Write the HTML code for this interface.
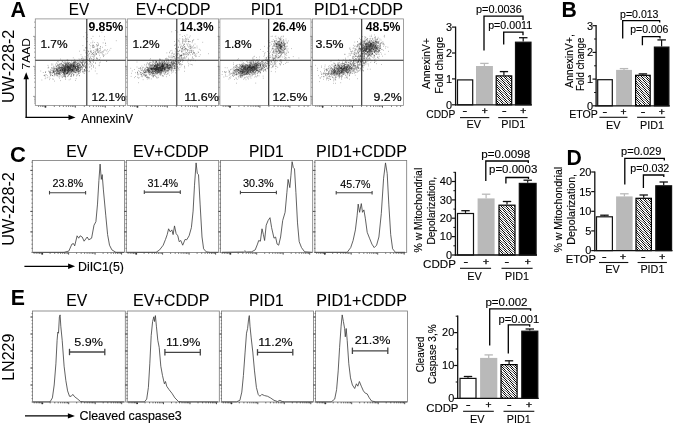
<!DOCTYPE html>
<html><head><meta charset="utf-8"><title>Figure</title>
<style>html,body{margin:0;padding:0;background:#fff}svg{display:block}text{font-family:'Liberation Sans', Arial, Helvetica, sans-serif;fill:#000}</style></head><body>
<svg width="675" height="425" viewBox="0 0 675 425">
<defs><filter id="ct" x="0" y="0" width="1" height="1" color-interpolation-filters="sRGB"><feComponentTransfer><feFuncR type="linear" slope="2.6" intercept="-0.8"/><feFuncG type="linear" slope="2.6" intercept="-0.8"/><feFuncB type="linear" slope="2.6" intercept="-0.8"/></feComponentTransfer></filter><pattern id="h" width="1.414" height="1.414" patternUnits="userSpaceOnUse" patternTransform="rotate(45)"><rect width="1.5" height="1.5" fill="#fff"/><rect width="1.5" height="0.72" fill="#000"/></pattern></defs>
<rect width="675" height="425" fill="#fff"/>
<text x="10.6" y="16.8" font-size="21.5" font-weight="bold" textLength="15.4" lengthAdjust="spacingAndGlyphs">A</text>
<text x="561.6" y="16.8" font-size="21.5" font-weight="bold" textLength="15.3" lengthAdjust="spacingAndGlyphs">B</text>
<text x="10.0" y="161.8" font-size="21.5" font-weight="bold" textLength="15.9" lengthAdjust="spacingAndGlyphs">C</text>
<text x="566.6" y="164.8" font-size="21.5" font-weight="bold" textLength="15.3" lengthAdjust="spacingAndGlyphs">D</text>
<text x="10.8" y="304.8" font-size="21.5" font-weight="bold" textLength="14.2" lengthAdjust="spacingAndGlyphs">E</text>
<path d="M83.9 71.2h.6M64.6 67.5h.6M68.7 66.5h.6M72.7 70.8h.6M62.2 69.8h.6M68.6 67.0h.6M69.6 73.0h.6M54.4 72.8h.6M77.7 69.1h.6M73.5 65.8h.6M63.8 70.8h.6M67.6 69.8h.6M73.4 69.9h.6M67.2 72.2h.6M67.4 72.1h.6M56.7 71.0h.6M73.8 69.6h.6M69.2 64.8h.6M71.4 69.9h.6M56.4 72.7h.6M82.4 64.8h.6M69.7 65.9h.6M65.5 68.8h.6M85.2 61.8h.6M68.6 69.5h.6M56.8 71.4h.6M64.9 66.2h.6M49.7 71.9h.6M78.1 70.0h.6M65.9 72.2h.6M63.1 72.5h.6M77.7 66.4h.6M54.8 69.8h.6M73.1 66.5h.6M51.8 73.2h.6M64.5 76.3h.6M59.5 74.3h.6M81.9 70.9h.6M84.3 69.8h.6M65.2 64.1h.6M75.7 66.6h.6M67.1 67.4h.6M74.2 71.3h.6M63.4 74.5h.6M54.2 69.0h.6M53.7 71.2h.6M72.3 69.5h.6M87.4 63.6h.6M70.7 66.1h.6M64.1 67.2h.6M85.3 68.2h.6M70.3 65.4h.6M70.2 71.6h.6M71.0 68.3h.6M68.1 70.8h.6M67.0 73.4h.6M56.4 68.5h.6M72.6 65.2h.6M68.2 69.8h.6M78.2 63.6h.6M65.3 66.8h.6M52.8 70.9h.6M68.0 69.0h.6M82.4 62.2h.6M65.4 67.8h.6M61.7 71.4h.6M59.5 74.1h.6M59.0 64.2h.6M67.0 72.7h.6M59.4 72.7h.6M80.8 63.0h.6M65.7 64.5h.6M69.9 69.5h.6M80.6 65.0h.6M81.5 66.6h.6M67.5 71.2h.6M71.4 66.8h.6M75.0 67.8h.6M67.4 70.1h.6M54.4 73.6h.6M75.2 72.6h.6M77.2 72.1h.6M72.4 68.5h.6M60.9 69.1h.6M68.4 75.7h.6M64.2 71.2h.6M66.5 70.1h.6M79.1 63.2h.6M82.0 68.4h.6M74.0 65.1h.6M73.2 66.2h.6M73.8 63.5h.6M68.4 66.9h.6M68.2 68.7h.6M62.4 65.0h.6M67.9 65.9h.6M87.7 64.8h.6M75.4 63.4h.6M65.3 65.2h.6M64.4 66.7h.6M60.8 65.5h.6M72.3 69.7h.6M71.6 64.9h.6M57.1 72.8h.6M73.4 70.4h.6M63.4 65.7h.6M80.8 66.4h.6M69.9 66.8h.6M82.6 62.5h.6M64.8 68.1h.6M66.3 68.1h.6M71.7 70.0h.6M78.2 69.9h.6M73.0 64.3h.6M58.3 69.0h.6M70.6 69.7h.6M69.6 71.8h.6M63.9 61.8h.6M64.0 73.1h.6M83.3 65.3h.6M66.3 73.5h.6M61.5 68.4h.6M73.7 65.0h.6M69.9 68.3h.6M68.8 72.0h.6M75.4 67.3h.6M71.7 60.7h.6M72.2 69.9h.6M76.0 62.2h.6M70.7 65.1h.6M63.0 65.9h.6M64.8 63.5h.6M63.8 65.5h.6M70.0 65.2h.6M59.5 68.2h.6M53.4 70.9h.6M69.4 67.3h.6M56.8 66.0h.6M52.4 70.7h.6M72.4 70.7h.6M63.3 72.3h.6M73.0 68.1h.6M64.7 71.0h.6M59.9 72.7h.6M59.1 74.3h.6M65.4 74.2h.6M66.3 67.9h.6M61.8 68.8h.6M67.2 73.2h.6M56.8 75.3h.6M69.7 72.9h.6M52.6 64.1h.6M67.1 68.0h.6M72.9 57.8h.6M78.3 68.9h.6M83.2 66.0h.6M55.8 70.9h.6M75.1 66.9h.6M79.6 70.5h.6M76.9 66.1h.6M61.6 72.8h.6M72.5 69.4h.6M84.6 66.7h.6M56.5 72.0h.6M72.8 68.0h.6M77.5 63.5h.6M63.3 71.5h.6M74.1 69.6h.6M59.8 69.6h.6M62.4 71.8h.6M62.4 72.3h.6M69.7 64.3h.6M68.0 68.1h.6M76.6 65.7h.6M60.5 67.1h.6M67.9 69.5h.6M76.4 64.5h.6M73.3 66.3h.6M57.8 71.1h.6M74.6 68.5h.6M65.0 70.1h.6M73.2 74.4h.6M71.1 66.5h.6M79.1 67.3h.6M69.1 64.7h.6M53.5 72.6h.6M57.9 73.8h.6M75.6 70.9h.6M66.3 66.9h.6M78.2 65.9h.6M71.7 71.7h.6M62.5 69.2h.6M78.4 69.6h.6M61.5 66.7h.6M52.3 75.5h.6M86.6 68.4h.6M53.0 72.6h.6M73.7 65.1h.6M76.6 66.5h.6M70.1 68.6h.6M54.8 71.7h.6M77.2 66.6h.6M56.6 69.9h.6M57.7 71.0h.6M66.5 73.1h.6M74.4 61.3h.6M70.6 63.9h.6M74.8 62.6h.6M64.7 67.0h.6M66.5 63.5h.6M59.6 71.7h.6M66.2 69.2h.6M73.6 66.8h.6M65.9 66.8h.6M72.9 68.2h.6M64.1 69.8h.6M64.0 70.3h.6M68.7 66.2h.6M67.5 70.6h.6M73.0 63.2h.6M70.9 71.8h.6M81.8 56.7h.6M66.7 67.0h.6M66.3 65.2h.6M60.5 72.3h.6M68.2 64.0h.6M75.5 72.8h.6M61.8 64.9h.6M69.4 74.5h.6M75.0 68.7h.6M67.8 68.7h.6M64.7 70.5h.6M78.1 73.4h.6M70.1 70.9h.6M71.0 61.2h.6M79.2 70.2h.6M78.5 67.4h.6M65.1 64.1h.6M64.8 71.4h.6M70.5 64.4h.6M67.8 69.1h.6M53.0 71.9h.6M79.1 64.6h.6M69.3 70.3h.6M74.4 64.3h.6M59.1 70.7h.6M79.3 64.9h.6M63.8 68.7h.6M68.9 74.2h.6M57.1 70.8h.6M66.8 65.4h.6M66.8 68.4h.6M66.8 66.4h.6M72.5 67.8h.6M69.4 68.8h.6M77.0 67.2h.6M64.9 69.3h.6M60.2 68.3h.6M68.9 69.8h.6M74.6 70.6h.6M78.9 64.7h.6M75.6 67.0h.6M54.1 71.2h.6M72.6 71.5h.6M81.6 69.4h.6M68.9 66.2h.6M64.5 69.4h.6M70.6 63.5h.6M64.1 66.3h.6M74.2 67.5h.6M69.0 70.3h.6M81.0 69.2h.6M72.8 66.7h.6M62.0 65.5h.6M74.1 68.7h.6M76.5 66.5h.6M64.3 70.5h.6M65.3 69.5h.6M49.9 73.9h.6M76.7 69.0h.6M64.3 71.8h.6M50.8 70.2h.6M54.5 74.0h.6M66.7 67.2h.6M75.2 67.5h.6M69.0 74.0h.6M72.9 68.8h.6M59.0 66.6h.6M58.3 74.8h.6M76.7 70.0h.6M73.5 71.0h.6M68.6 69.0h.6M79.7 67.5h.6M60.7 69.1h.6M64.9 67.0h.6M78.2 71.4h.6M84.0 64.6h.6M68.6 67.0h.6M82.6 64.6h.6M64.7 74.8h.6M72.0 70.5h.6M67.2 67.6h.6M55.5 70.6h.6M71.2 69.5h.6M77.1 69.6h.6M66.7 63.9h.6M68.7 71.2h.6M80.3 65.7h.6M58.0 68.2h.6M56.1 69.5h.6M63.7 71.7h.6M59.7 75.4h.6M80.1 66.8h.6M71.7 69.6h.6M61.1 67.3h.6M63.9 70.8h.6M93.2 66.6h.6M62.9 64.9h.6M62.2 68.0h.6M71.8 70.3h.6M73.2 62.3h.6M70.5 67.0h.6M61.5 71.5h.6M58.2 65.1h.6M73.6 66.3h.6M68.4 68.6h.6M55.5 73.5h.6M77.9 62.9h.6M75.9 70.5h.6M66.9 69.7h.6M67.2 72.3h.6M71.3 71.5h.6M63.2 70.4h.6M57.8 71.8h.6M70.6 62.8h.6M56.1 66.5h.6M71.5 64.9h.6M56.6 69.5h.6M68.5 71.3h.6M66.7 63.3h.6M83.6 64.8h.6M59.2 66.1h.6M56.1 65.9h.6M64.2 73.7h.6M59.4 70.3h.6M64.7 74.1h.6M72.9 71.3h.6M74.8 64.5h.6M81.7 60.5h.6M63.7 75.6h.6M90.7 63.3h.6M84.8 62.1h.6M67.5 70.7h.6M49.7 72.2h.6M67.8 66.5h.6M69.2 67.3h.6M49.6 72.3h.6M69.5 68.5h.6M67.5 70.9h.6M62.0 68.5h.6M73.9 66.5h.6M77.5 68.7h.6M64.9 70.0h.6M71.3 71.3h.6M63.2 68.6h.6M62.2 69.3h.6M68.9 64.9h.6M74.0 72.1h.6M63.4 65.1h.6M50.4 72.3h.6M73.2 64.9h.6M55.6 71.8h.6M70.2 70.4h.6M82.8 60.9h.6M68.5 67.8h.6M57.9 65.0h.6M57.3 74.7h.6M78.4 65.4h.6M67.8 63.8h.6M73.0 65.5h.6M77.2 70.9h.6M69.2 72.9h.6M66.9 72.6h.6M60.5 67.5h.6M42.9 72.5h.6M56.9 75.5h.6M67.8 66.3h.6M67.2 67.7h.6M71.7 65.0h.6M67.1 65.1h.6M70.8 71.7h.6M75.7 69.1h.6M61.6 71.0h.6M66.7 70.5h.6M55.9 73.8h.6M77.7 71.4h.6M69.1 68.3h.6M72.7 66.7h.6M81.2 63.1h.6M78.4 70.0h.6M68.0 67.0h.6M74.6 62.8h.6M56.7 69.7h.6M72.4 67.8h.6M70.4 70.7h.6M55.8 73.8h.6M79.6 64.3h.6M62.5 67.1h.6M74.3 66.4h.6M64.7 65.4h.6M77.1 66.6h.6M80.0 67.8h.6M61.9 69.8h.6M55.1 65.9h.6M67.1 65.1h.6M76.6 70.9h.6M65.2 66.0h.6M64.0 71.5h.6M73.2 69.5h.6M45.5 71.5h.6M62.7 66.4h.6M57.3 71.1h.6M70.8 65.3h.6M62.5 69.0h.6M59.5 70.4h.6M65.5 66.8h.6M56.4 69.9h.6M68.5 67.5h.6M62.4 65.8h.6M65.5 68.4h.6M62.5 67.6h.6M75.5 61.7h.6M67.7 67.6h.6M73.0 66.8h.6M72.5 65.9h.6M61.0 63.5h.6M74.0 69.9h.6M72.1 69.9h.6M71.8 69.9h.6M65.6 69.9h.6M64.6 65.3h.6M75.4 67.6h.6M86.6 62.4h.6M63.0 76.1h.6M73.0 66.1h.6M66.1 70.9h.6M74.6 62.7h.6M71.9 64.3h.6M77.4 65.3h.6M45.8 74.6h.6M64.1 70.9h.6M60.7 70.7h.6M66.9 63.1h.6M63.3 72.8h.6M63.0 66.6h.6M75.3 72.2h.6M85.7 71.1h.6M45.6 75.0h.6M66.7 71.8h.6M70.8 64.2h.6M70.2 76.0h.6M66.0 69.6h.6M58.0 73.4h.6M60.5 67.3h.6M74.8 67.1h.6M77.2 63.3h.6M69.5 67.5h.6M61.8 69.7h.6M69.7 69.0h.6M67.5 72.9h.6M73.6 69.0h.6M69.9 68.9h.6M63.6 69.4h.6M71.4 74.1h.6M58.6 68.4h.6M76.3 70.7h.6M77.7 60.9h.6M58.5 67.5h.6M72.5 69.0h.6M60.4 69.4h.6M79.3 75.7h.6M77.7 74.7h.6M66.1 64.3h.6M76.6 63.8h.6M65.1 68.6h.6M64.3 74.5h.6M64.6 72.6h.6M67.8 69.6h.6M65.4 64.7h.6M69.7 65.7h.6M62.3 61.4h.6M74.4 62.7h.6M77.6 68.2h.6M65.1 71.5h.6M56.2 66.7h.6M74.9 67.7h.6M79.2 71.5h.6M67.5 69.1h.6M57.9 69.4h.6M71.4 69.8h.6M81.8 67.7h.6M53.1 71.4h.6M72.5 66.1h.6M66.0 67.6h.6M61.7 69.9h.6M72.7 66.1h.6M58.6 74.3h.6M71.8 70.6h.6M80.4 69.7h.6M71.3 74.1h.6M62.3 74.4h.6M54.6 75.2h.6M58.3 71.4h.6M53.3 70.6h.6M83.4 72.9h.6M66.4 66.8h.6M59.7 68.1h.6M57.5 67.8h.6M60.0 70.6h.6M66.2 70.1h.6M58.6 73.3h.6M82.7 65.3h.6M61.6 64.4h.6M62.4 70.5h.6M71.9 70.8h.6M81.0 66.4h.6M79.8 66.1h.6M65.0 70.8h.6M71.7 72.3h.6M70.0 68.0h.6M72.5 63.4h.6M70.6 66.4h.6M60.8 69.3h.6M57.3 65.0h.6M70.7 70.4h.6M58.5 67.9h.6M80.5 67.9h.6M69.2 68.9h.6M60.1 69.0h.6M67.0 73.7h.6M64.3 67.5h.6M67.4 66.6h.6M76.9 67.9h.6M57.1 73.0h.6M53.2 71.2h.6M71.1 65.0h.6M67.7 70.7h.6M70.5 69.9h.6M73.6 73.9h.6M67.2 68.0h.6M75.6 67.9h.6M61.0 68.0h.6M68.6 63.9h.6M61.9 69.9h.6M59.8 72.6h.6M73.4 64.5h.6M73.2 65.6h.6M51.9 67.8h.6M60.1 74.0h.6M70.9 66.1h.6M78.1 68.5h.6M62.8 66.8h.6M67.3 68.9h.6M56.6 68.6h.6M88.6 57.8h.6M72.8 67.9h.6M76.6 68.6h.6M73.2 61.3h.6M76.5 66.5h.6M73.7 66.2h.6M65.4 65.7h.6M74.9 66.6h.6M68.5 62.6h.6M79.8 67.2h.6M63.3 73.0h.6M63.6 65.5h.6M74.3 67.2h.6M80.3 70.7h.6M70.1 68.5h.6M62.6 67.9h.6M67.3 65.9h.6M64.7 69.7h.6M84.6 65.2h.6M76.7 68.9h.6M78.6 62.0h.6M71.9 71.1h.6M63.9 68.0h.6M79.0 68.6h.6M82.3 63.8h.6M73.0 63.7h.6M68.3 66.8h.6M77.4 64.0h.6M65.5 67.8h.6M75.5 69.2h.6M63.4 72.6h.6M60.8 70.4h.6M73.3 66.0h.6M71.4 66.6h.6M85.0 67.3h.6M67.0 72.2h.6M68.8 67.4h.6M59.2 69.7h.6M52.8 68.9h.6M54.0 71.6h.6M73.2 70.5h.6M57.4 61.6h.6M78.4 67.5h.6M80.4 64.7h.6M65.2 61.9h.6M82.8 66.9h.6M70.7 67.8h.6M78.4 67.8h.6M66.2 64.7h.6M77.9 73.3h.6M61.0 70.1h.6M73.8 66.5h.6M65.7 73.6h.6M68.0 70.5h.6M74.5 69.9h.6M70.9 71.6h.6M67.1 62.4h.6M75.8 72.3h.6M75.3 66.2h.6M57.4 71.3h.6M74.0 70.3h.6M74.0 65.3h.6M62.7 70.4h.6M72.4 70.1h.6M57.7 70.2h.6M81.1 67.7h.6M66.0 64.0h.6M67.5 65.0h.6M78.2 63.2h.6M67.8 69.7h.6M75.8 78.6h.6M60.2 70.7h.6M64.0 68.8h.6M57.1 70.3h.6M67.6 71.6h.6M77.8 69.0h.6M70.1 64.7h.6M76.7 70.1h.6M60.2 69.8h.6M61.8 72.1h.6M63.9 63.2h.6M72.8 63.0h.6M72.1 69.6h.6M67.7 63.1h.6M74.2 68.6h.6M67.7 69.6h.6M68.7 68.9h.6M79.9 67.5h.6M64.0 70.0h.6M70.6 69.5h.6M82.1 64.8h.6M69.6 68.2h.6M76.2 76.0h.6M64.3 72.7h.6M85.5 67.3h.6M50.2 72.9h.6M58.9 67.9h.6M60.1 70.6h.6M82.2 65.3h.6M72.2 70.7h.6M66.1 66.1h.6M56.8 63.3h.6M71.6 66.2h.6M70.1 70.3h.6M64.3 76.7h.6M56.8 73.6h.6M59.1 67.1h.6M70.5 67.4h.6M70.9 65.1h.6M69.3 67.7h.6M67.1 66.0h.6M53.1 66.2h.6M69.4 69.6h.6M60.3 70.5h.6M69.1 67.8h.6M72.9 68.7h.6M64.2 75.4h.6M60.3 70.3h.6M76.9 65.8h.6M72.2 70.4h.6M62.6 64.5h.6M44.1 75.1h.6M68.0 66.2h.6M73.6 65.1h.6M78.2 67.1h.6M64.0 74.3h.6M63.0 67.1h.6M65.6 71.9h.6M76.0 68.3h.6M58.2 66.0h.6M68.3 71.3h.6M60.6 67.3h.6M70.3 63.7h.6M55.4 68.4h.6M71.6 65.7h.6M65.0 70.9h.6M66.5 66.6h.6M74.0 72.0h.6M78.5 67.4h.6M54.2 68.8h.6M76.8 64.5h.6M73.6 68.2h.6M65.3 62.8h.6M79.4 59.9h.6M69.9 65.5h.6M80.0 68.4h.6M63.9 69.8h.6M61.6 69.7h.6M78.9 66.0h.6M85.8 58.8h.6M73.9 66.5h.6M75.3 61.8h.6M65.3 71.6h.6M57.7 70.3h.6M66.9 68.5h.6M81.6 67.4h.6M53.4 72.1h.6M64.8 69.8h.6M53.0 72.3h.6M69.4 66.5h.6M75.4 63.2h.6M58.6 71.2h.6M66.1 73.3h.6M80.4 69.4h.6M67.9 67.9h.6M58.7 72.0h.6M57.6 69.0h.6M52.1 72.5h.6M75.0 65.5h.6M62.6 69.9h.6M78.6 72.8h.6M76.5 69.4h.6M64.1 73.8h.6M64.0 66.9h.6M75.0 65.2h.6M70.0 68.1h.6M71.3 69.6h.6M54.9 70.2h.6M76.8 70.1h.6M61.2 68.1h.6M50.5 75.8h.6M64.1 72.2h.6M71.8 64.5h.6M86.7 67.0h.6M65.6 68.3h.6M58.2 73.4h.6M86.3 63.7h.6M70.3 69.1h.6M66.9 70.4h.6M58.4 61.9h.6M59.4 64.3h.6M81.2 66.6h.6M66.5 68.4h.6M64.8 72.2h.6M64.6 69.8h.6M81.3 62.3h.6M64.0 70.2h.6M73.7 65.3h.6M70.9 67.3h.6M70.5 66.5h.6M61.6 70.7h.6M73.6 63.2h.6M81.7 62.7h.6M67.2 61.9h.6M62.2 76.1h.6M57.5 67.4h.6M69.9 65.6h.6M65.9 65.4h.6M67.6 66.7h.6M68.7 67.1h.6M56.8 72.4h.6M75.4 67.8h.6M70.9 69.0h.6M67.9 66.8h.6M70.7 67.8h.6M77.2 70.6h.6M69.2 68.3h.6M61.8 70.6h.6M77.5 60.7h.6M65.4 70.6h.6M62.9 70.2h.6M56.4 74.5h.6M67.4 60.3h.6M60.0 70.0h.6M64.4 68.8h.6M72.6 68.0h.6M68.7 66.5h.6M77.4 67.5h.6M71.7 70.0h.6M65.4 69.1h.6M65.9 68.0h.6M64.4 68.5h.6M74.0 66.2h.6M69.0 68.4h.6M65.0 66.8h.6M74.8 61.2h.6M70.3 72.2h.6M64.0 63.8h.6M56.1 70.2h.6M71.8 63.8h.6M70.6 67.1h.6M68.7 65.4h.6M65.1 68.8h.6M61.4 67.1h.6M66.2 64.8h.6M70.9 68.9h.6M68.4 72.4h.6M67.8 69.5h.6M64.9 69.3h.6M71.1 64.7h.6M70.7 67.7h.6M62.7 70.7h.6M74.8 65.2h.6M75.9 69.8h.6M75.6 67.0h.6M67.9 69.5h.6M66.9 67.1h.6M58.8 68.5h.6M75.2 67.8h.6M51.1 72.6h.6M65.7 69.9h.6M65.4 65.8h.6M75.6 64.8h.6M68.8 68.2h.6M59.7 64.2h.6M57.4 73.5h.6M62.8 70.3h.6M69.7 68.2h.6M68.9 66.1h.6M67.5 71.0h.6M62.9 68.5h.6M68.0 74.2h.6M77.3 67.9h.6M58.8 65.5h.6M69.4 70.4h.6M82.0 64.3h.6M73.1 65.9h.6M64.8 68.2h.6M74.2 66.9h.6M62.6 70.1h.6M69.2 70.5h.6M82.0 67.3h.6M84.3 63.3h.6M53.8 66.8h.6M74.2 64.8h.6M85.3 66.4h.6M64.7 71.6h.6M71.9 73.2h.6M80.7 62.0h.6M64.7 69.2h.6M72.4 66.9h.6M68.1 67.1h.6M52.7 71.5h.6M71.5 67.0h.6M67.1 67.7h.6M76.2 64.9h.6M86.5 66.3h.6M75.0 70.3h.6M66.5 73.6h.6M72.3 66.0h.6M69.9 64.8h.6M77.2 65.9h.6M56.3 67.9h.6M59.5 73.0h.6M51.2 68.8h.6M73.9 67.5h.6M67.9 64.3h.6M63.2 68.1h.6M62.8 69.9h.6M64.8 73.6h.6M60.6 67.5h.6M66.3 69.8h.6M63.5 62.8h.6M79.8 62.6h.6M71.1 65.3h.6M61.7 68.0h.6M64.1 70.4h.6M79.1 68.3h.6M71.7 62.8h.6M71.5 69.3h.6M74.2 63.9h.6M83.0 71.3h.6M58.7 70.9h.6M62.6 69.8h.6M54.1 70.3h.6M72.9 67.4h.6M65.6 68.8h.6M62.8 67.2h.6M62.8 71.5h.6M74.7 68.0h.6M68.0 70.6h.6M64.3 68.8h.6M79.6 68.4h.6M59.6 67.5h.6M60.0 80.6h.6M90.1 62.3h.6M65.5 67.4h.6M64.7 71.9h.6M63.3 72.9h.6M67.2 66.1h.6M74.5 62.1h.6M74.3 63.0h.6M72.8 64.5h.6M66.0 66.3h.6M56.2 69.9h.6M71.7 70.8h.6M82.0 69.2h.6M77.4 64.8h.6M67.6 70.0h.6M75.9 69.6h.6M66.3 72.9h.6M68.2 67.8h.6M58.0 67.8h.6M66.5 70.9h.6M70.7 72.5h.6M67.1 66.9h.6M76.2 72.8h.6M85.4 70.5h.6M79.7 65.5h.6M65.4 64.0h.6M62.3 67.5h.6M63.1 68.1h.6M60.9 71.2h.6M68.2 63.2h.6M73.6 74.8h.6M71.5 74.8h.6M70.0 65.8h.6M69.1 62.5h.6M67.6 67.9h.6M62.8 70.5h.6M83.9 69.6h.6M77.9 68.8h.6M61.1 68.9h.6M60.2 63.7h.6M64.1 70.6h.6M69.5 70.6h.6M79.1 65.4h.6M77.4 67.5h.6M77.8 67.2h.6M77.7 65.9h.6M77.4 63.1h.6M75.1 68.1h.6M71.8 63.3h.6M68.5 72.5h.6M53.7 68.1h.6M67.9 69.8h.6M58.7 73.3h.6M70.3 68.8h.6M64.9 75.3h.6M73.3 75.6h.6M58.0 72.8h.6M47.7 67.9h.6M63.6 72.6h.6M63.5 76.2h.6M50.4 75.4h.6M59.0 72.3h.6M48.8 77.0h.6M68.5 75.2h.6M60.2 59.1h.6M67.6 76.2h.6M95.0 68.1h.6M68.3 71.5h.6M69.9 66.6h.6M73.2 69.5h.6M65.2 72.6h.6M58.7 64.4h.6M76.3 71.3h.6M77.4 68.0h.6M65.0 72.9h.6M62.4 69.6h.6M60.2 71.0h.6M80.2 70.1h.6M60.5 71.4h.6M76.0 70.4h.6M59.8 67.7h.6M60.8 65.1h.6M73.7 65.8h.6M57.1 64.9h.6M63.9 66.6h.6M54.5 73.4h.6M55.4 64.3h.6M73.1 63.0h.6M73.1 71.8h.6M53.4 69.6h.6M53.4 71.9h.6M92.8 59.5h.6M58.4 66.4h.6M56.5 70.1h.6M73.0 75.8h.6M58.1 73.1h.6M61.0 63.2h.6M76.2 69.9h.6M77.7 71.8h.6M64.6 73.1h.6M79.8 61.8h.6M64.6 69.7h.6M65.2 79.4h.6M65.4 65.7h.6M63.1 71.7h.6M71.3 65.5h.6M68.3 63.7h.6M57.5 69.3h.6M68.9 73.8h.6M61.2 75.8h.6M59.2 67.0h.6M64.3 67.9h.6M76.5 63.9h.6M67.6 60.2h.6M80.4 69.9h.6M84.3 73.5h.6M67.0 76.3h.6M59.3 68.9h.6M58.7 77.0h.6M70.0 73.9h.6M75.3 66.6h.6M83.3 66.7h.6M51.7 70.6h.6M76.4 69.0h.6M79.2 75.6h.6M91.9 61.1h.6M67.3 64.2h.6M66.5 73.6h.6M49.8 72.9h.6M56.4 63.0h.6M53.5 67.5h.6M54.7 68.1h.6M56.0 68.8h.6M49.9 74.1h.6M66.0 74.2h.6M70.3 68.3h.6M74.6 68.9h.6M64.7 66.7h.6M78.5 72.2h.6M78.9 73.5h.6M49.7 71.5h.6M62.8 67.1h.6M54.4 81.1h.6M56.4 75.7h.6M67.6 65.5h.6M63.7 62.7h.6M82.0 65.7h.6M89.4 71.1h.6M70.5 66.6h.6M64.1 69.1h.6M64.4 67.9h.6M66.7 72.6h.6M73.6 74.7h.6M57.5 65.7h.6M72.5 67.4h.6M63.6 69.4h.6M77.4 65.1h.6M80.3 62.0h.6M85.9 70.0h.6M64.8 70.7h.6M52.4 75.5h.6M49.3 79.6h.6M63.0 68.8h.6M51.5 74.8h.6M48.3 71.2h.6M62.6 70.1h.6M56.0 73.1h.6M73.8 67.8h.6M86.3 59.5h.6M65.2 76.7h.6M70.0 69.8h.6M48.5 67.8h.6M66.8 59.9h.6M58.9 71.0h.6M55.1 74.7h.6M47.1 77.7h.6M84.7 71.6h.6M48.8 71.2h.6M53.9 74.9h.6M65.5 63.1h.6M69.8 69.9h.6M70.4 73.2h.6M67.3 66.9h.6M56.8 70.8h.6M75.0 68.8h.6M68.8 70.0h.6M52.0 79.0h.6M83.1 62.0h.6M63.9 76.2h.6M75.9 62.5h.6M50.3 69.6h.6M53.1 68.7h.6M60.4 70.5h.6M58.8 68.9h.6M78.0 69.9h.6M49.1 72.9h.6M70.1 79.0h.6M56.0 73.4h.6M72.1 67.7h.6M69.2 71.0h.6M61.2 73.4h.6M90.6 64.7h.6M65.3 65.0h.6M77.9 64.2h.6M52.4 73.1h.6M66.0 73.6h.6M68.0 71.7h.6M68.1 69.1h.6M63.4 72.9h.6M57.4 69.2h.6M61.7 77.0h.6M57.6 76.3h.6M65.0 76.1h.6M75.8 66.5h.6M90.9 66.4h.6M71.7 64.3h.6M78.5 71.8h.6M73.3 66.7h.6M73.6 62.6h.6M72.8 66.4h.6M64.2 71.3h.6M61.6 60.8h.6M69.3 62.9h.6M87.1 70.6h.6M75.4 68.6h.6M84.3 66.4h.6M51.6 65.2h.6M71.0 76.1h.6M72.0 73.4h.6M73.1 71.7h.6M51.2 67.5h.6M47.4 75.7h.6M44.8 78.7h.6M62.4 69.0h.6M92.2 64.1h.6M68.9 67.2h.6M54.3 74.6h.6M70.5 68.0h.6M63.5 68.9h.6M67.7 63.1h.6M60.8 63.3h.6M53.7 76.2h.6M62.4 77.5h.6M75.4 72.1h.6M71.4 75.2h.6M79.9 65.0h.6M55.4 71.5h.6M78.7 69.3h.6M67.6 68.8h.6M70.5 76.5h.6M79.6 61.5h.6M65.3 67.4h.6M69.7 67.6h.6M73.6 65.3h.6M74.9 72.0h.6M74.5 59.4h.6M82.1 72.1h.6M73.7 72.5h.6M62.8 71.8h.6M94.9 71.0h.6M68.8 79.8h.6M71.6 69.7h.6M59.9 74.2h.6M44.1 75.5h.6M59.4 73.4h.6M67.7 67.3h.6M72.6 65.5h.6M68.2 72.2h.6M75.7 65.8h.6M78.9 71.8h.6M78.8 71.2h.6M67.2 67.7h.6M68.7 71.1h.6M65.2 70.4h.6M57.9 70.7h.6M83.8 71.8h.6M54.1 72.2h.6M66.9 70.8h.6M68.5 60.8h.6M44.8 76.3h.6M74.5 62.0h.6M63.4 68.7h.6M71.2 76.2h.6M65.3 78.0h.6M50.6 70.9h.6M68.7 63.8h.6M69.0 71.2h.6M78.0 66.0h.6M72.9 70.2h.6M48.3 67.1h.6M80.3 72.4h.6M77.3 74.9h.6M74.7 61.9h.6M72.2 65.4h.6M59.4 68.0h.6M73.9 71.8h.6M62.1 61.9h.6M98.9 65.1h.6M64.8 69.1h.6M54.9 68.4h.6M64.4 73.4h.6M81.7 58.5h.6M60.3 64.8h.6M40.5 71.0h.6M84.0 69.9h.6M70.8 67.5h.6M61.5 67.0h.6M75.7 70.4h.6M57.2 69.4h.6M54.4 69.1h.6M77.6 66.6h.6M62.2 72.1h.6M75.4 80.4h.6M66.9 65.0h.6M76.8 69.3h.6M68.6 68.8h.6M45.2 72.5h.6M76.1 75.0h.6M63.0 74.0h.6M77.6 71.0h.6M68.4 67.6h.6M82.3 63.4h.6M64.4 71.6h.6M45.1 72.4h.6M63.6 67.9h.6M73.6 71.7h.6M62.9 65.2h.6M61.9 67.5h.6M84.1 70.4h.6M65.8 69.7h.6M79.5 70.7h.6M68.5 65.8h.6M52.4 75.6h.6M56.8 68.5h.6M65.2 76.3h.6M71.5 72.6h.6M59.1 73.4h.6M53.4 79.2h.6M56.8 73.3h.6M61.4 68.1h.6M59.1 78.2h.6M61.5 72.4h.6M88.6 71.6h.6M70.7 70.0h.6M59.6 76.4h.6M66.8 66.1h.6M83.7 61.4h.6M73.5 62.5h.6M67.0 73.3h.6M51.3 64.0h.6M47.7 65.4h.6M62.7 64.4h.6M66.5 71.1h.6M50.2 74.9h.6M52.4 68.9h.6M67.7 73.4h.6M43.7 75.5h.6M49.7 78.4h.6M67.7 74.1h.6M73.0 65.9h.6M71.1 70.2h.6M78.2 67.3h.6M84.9 68.9h.6M77.4 69.1h.6M64.7 70.5h.6M91.1 68.9h.6M85.8 67.0h.6M78.3 71.3h.6M58.8 71.6h.6M71.8 68.5h.6M45.6 77.9h.6M64.7 74.7h.6M41.6 80.0h.6M63.5 73.5h.6M78.5 67.1h.6M67.9 70.7h.6M85.2 67.5h.6M66.3 62.3h.6M67.9 64.9h.6M65.5 77.1h.6M98.8 53.9h.6M86.6 67.5h.6M85.7 38.9h.6M98.5 51.3h.6M98.8 65.7h.6M104.1 36.7h.6M106.3 50.9h.6M100.4 47.1h.6M99.1 55.6h.6M96.9 46.2h.6M96.9 42.6h.6M96.7 46.0h.6M91.3 51.1h.6M94.5 46.3h.6M92.9 45.0h.6M102.6 54.9h.6M88.4 51.5h.6M92.1 42.7h.6M92.0 45.2h.6M99.6 51.9h.6M87.2 37.5h.6M91.3 59.0h.6M103.6 50.6h.6M105.6 54.0h.6M87.5 53.5h.6M92.0 46.3h.6M92.7 54.8h.6M94.5 53.0h.6M107.0 53.2h.6M99.0 48.4h.6M104.1 39.8h.6M90.6 42.9h.6M89.6 53.9h.6M97.0 50.3h.6M89.3 66.9h.6M105.4 43.6h.6M103.4 56.6h.6M103.9 55.2h.6M93.4 45.7h.6M86.7 47.9h.6M92.6 47.6h.6M91.1 52.5h.6M89.8 48.3h.6M100.8 52.9h.6M93.0 59.2h.6M109.5 50.2h.6M91.9 56.5h.6M98.1 44.8h.6M94.6 55.5h.6M85.6 50.9h.6M98.4 49.9h.6M93.2 45.9h.6M99.9 57.8h.6M83.5 36.7h.6M96.5 57.9h.6M101.9 53.7h.6M93.2 52.6h.6M97.4 52.5h.6M102.1 47.3h.6M95.0 63.3h.6M100.3 62.1h.6M92.4 53.7h.6M99.1 62.9h.6M86.1 53.0h.6M96.2 54.3h.6M98.3 52.6h.6M89.4 44.6h.6M89.2 59.3h.6M96.0 44.5h.6M102.7 52.3h.6M91.9 45.9h.6M82.6 45.6h.6M85.5 47.5h.6M105.3 43.0h.6M105.5 45.5h.6M99.4 50.8h.6M87.6 50.7h.6M105.3 50.0h.6M93.9 47.3h.6M102.8 42.8h.6M97.1 58.6h.6M97.1 48.2h.6M86.0 41.8h.6M102.5 51.7h.6M92.4 53.6h.6M98.3 45.1h.6M99.4 59.5h.6M88.3 51.3h.6M101.3 52.1h.6M97.3 50.7h.6M96.7 73.7h.6M87.2 41.5h.6M96.9 51.6h.6M98.0 52.1h.6M110.6 48.4h.6M90.4 51.4h.6M92.6 47.6h.6M93.3 65.5h.6M86.4 54.8h.6M93.9 54.9h.6M94.6 51.3h.6M96.2 53.9h.6M92.6 41.1h.6M96.7 45.0h.6M100.2 46.5h.6M95.2 52.2h.6M102.9 54.8h.6M94.2 56.7h.6M99.9 52.6h.6M97.6 48.7h.6M98.7 59.8h.6M76.8 61.1h.6M91.8 53.2h.6M101.6 32.3h.6M90.3 45.8h.6M96.1 58.2h.6M95.8 50.3h.6M92.7 36.4h.6M96.9 49.4h.6M93.4 50.6h.6M84.0 50.2h.6M95.5 54.0h.6M88.3 54.5h.6M97.3 49.6h.6M107.2 49.7h.6M97.9 43.3h.6M97.4 59.2h.6M89.4 53.6h.6M87.4 55.4h.6M103.4 56.0h.6M100.0 50.6h.6M97.5 45.5h.6M96.6 48.9h.6M90.4 57.2h.6M79.4 51.2h.6M104.0 49.9h.6M91.2 54.5h.6M99.0 36.2h.6M80.7 54.7h.6M93.8 60.2h.6M85.1 48.1h.6M106.4 61.4h.6M93.9 42.5h.6M93.6 54.4h.6M86.9 34.8h.6M88.6 56.0h.6M90.5 50.3h.6M91.5 58.6h.6M93.4 54.3h.6M90.6 51.9h.6M106.5 61.2h.6M115.9 40.7h.6M85.2 52.8h.6M95.9 53.7h.6M85.7 32.6h.6M93.0 47.5h.6M107.9 51.7h.6M87.7 52.2h.6M99.8 48.5h.6M86.2 48.0h.6M102.8 51.7h.6M96.6 50.8h.6M96.5 49.9h.6M96.5 58.3h.6M93.4 67.4h.6M93.3 59.8h.6M90.9 38.6h.6M95.7 54.1h.6M100.0 49.2h.6M83.5 50.2h.6M79.0 63.9h.6M82.8 59.1h.6M82.5 57.8h.6M86.4 60.7h.6M84.2 63.2h.6M86.6 59.3h.6M90.0 62.2h.6M83.5 59.0h.6M86.6 57.5h.6M81.2 58.6h.6M84.2 69.9h.6M89.4 63.9h.6M93.4 61.8h.6M94.9 49.3h.6M82.0 71.5h.6M85.5 63.1h.6M85.2 65.6h.6M89.2 61.5h.6M82.5 62.4h.6M86.7 59.7h.6M86.5 52.7h.6M82.4 61.3h.6M85.8 60.2h.6M89.9 51.9h.6M90.4 58.1h.6M83.8 69.7h.6M93.4 52.4h.6M81.6 59.8h.6M85.7 57.0h.6M85.6 62.5h.6M89.5 67.4h.6M84.5 63.3h.6M89.3 58.8h.6M80.6 59.3h.6M82.8 65.7h.6M86.2 64.3h.6M85.7 59.4h.6M79.0 67.0h.6M88.1 56.0h.6M85.9 65.1h.6M93.0 62.4h.6M93.0 57.3h.6M89.3 61.1h.6M88.9 59.0h.6M83.4 60.1h.6M82.2 60.4h.6M78.5 65.4h.6M86.3 61.6h.6M84.7 62.3h.6M80.3 71.3h.6M89.7 62.0h.6M96.4 60.3h.6M90.3 61.7h.6M90.6 56.1h.6M86.0 61.7h.6M78.7 58.9h.6M91.3 65.5h.6M84.0 59.9h.6M81.4 63.0h.6M95.4 62.8h.6M84.7 56.8h.6M82.7 60.8h.6M87.4 59.8h.6M84.7 59.3h.6M89.4 58.9h.6M93.5 56.2h.6M86.1 64.5h.6M82.0 64.1h.6M93.9 58.3h.6M95.1 51.9h.6" stroke="#222" stroke-width="0.6" fill="none" opacity="0.75"/>
<path d="M38.6 105.4v1.3M40.7 105.4v1.3M42.4 105.4v1.3M43.9 105.4v1.3M45.3 105.4v2.2M54.3 105.4v1.3M59.6 105.4v1.3M63.4 105.4v1.3M66.3 105.4v1.3M68.6 105.4v1.3M70.7 105.4v1.3M72.4 105.4v1.3M73.9 105.4v1.3M75.3 105.4v2.2M84.3 105.4v1.3M89.6 105.4v1.3M93.4 105.4v1.3M96.3 105.4v1.3M98.6 105.4v1.3M100.7 105.4v1.3M102.4 105.4v1.3M103.9 105.4v1.3M105.3 105.4v2.2M114.3 105.4v1.3M119.6 105.4v1.3M123.4 105.4v1.3" stroke="#222" stroke-width="0.8" fill="none"/>
<path d="M44.7 106.7h1.6" stroke="#333" stroke-width="1.6" fill="none"/>
<path d="M35.3 103.1h-1.2M35.3 101.0h-1.2M35.3 99.3h-1.2M35.3 97.8h-1.2M35.3 96.4h-2.2M35.3 87.4h-1.2M35.3 82.1h-1.2M35.3 78.3h-1.2M35.3 75.4h-1.2M35.3 73.1h-1.2M35.3 71.0h-1.2M35.3 69.3h-1.2M35.3 67.8h-1.2M35.3 66.4h-2.2M35.3 57.4h-1.2M35.3 52.1h-1.2M35.3 48.3h-1.2M35.3 45.4h-1.2M35.3 43.1h-1.2M35.3 41.0h-1.2M35.3 39.3h-1.2M35.3 37.8h-1.2M35.3 36.4h-2.2M35.3 27.4h-1.2M35.3 22.1h-1.2" stroke="#555" stroke-width="0.6" fill="none"/>
<rect x="35.3" y="18.9" width="90.4" height="86.5" fill="none" stroke="#8a8a8a" stroke-width="0.8"/>
<path d="M86.8 18.9L86.8 105.4" stroke="#2a2a2a" stroke-width="1.1" fill="none"/>
<path d="M35.3 60.2L125.7 60.2" stroke="#2a2a2a" stroke-width="1.1" fill="none"/>
<text x="68.8" y="15.2" font-size="15.6" stroke="#000" stroke-width="0.1" textLength="20.3" lengthAdjust="spacingAndGlyphs">EV</text>
<text x="40.4" y="47.5" font-size="11.3" stroke="#000" stroke-width="0.2" textLength="27.2" lengthAdjust="spacingAndGlyphs">1.7%</text>
<text x="88.4" y="30.8" font-size="12.0" font-weight="bold" textLength="34.8" lengthAdjust="spacingAndGlyphs">9.85%</text>
<text x="91.5" y="100.8" font-size="11.3" stroke="#000" stroke-width="0.2" textLength="34.1" lengthAdjust="spacingAndGlyphs">12.1%</text>
<path d="M164.6 66.8h.6M170.0 69.2h.6M146.7 77.5h.6M158.4 71.5h.6M160.9 66.9h.6M144.2 72.6h.6M135.0 76.5h.6M162.8 70.2h.6M155.0 72.6h.6M166.8 70.0h.6M159.7 69.1h.6M159.2 67.1h.6M155.6 64.0h.6M161.1 70.8h.6M152.5 71.4h.6M154.7 66.3h.6M166.0 66.4h.6M157.2 67.2h.6M163.4 65.6h.6M160.6 72.9h.6M156.5 67.4h.6M153.2 76.7h.6M166.4 65.8h.6M152.2 67.3h.6M162.7 67.5h.6M148.3 77.8h.6M161.6 66.9h.6M163.0 68.6h.6M152.7 62.5h.6M146.6 72.6h.6M157.3 64.1h.6M160.3 67.3h.6M156.1 72.8h.6M153.8 68.4h.6M167.5 68.2h.6M158.4 67.4h.6M155.9 67.6h.6M166.7 67.0h.6M160.1 71.0h.6M153.8 69.4h.6M166.7 66.1h.6M155.9 65.7h.6M166.0 61.1h.6M154.1 69.5h.6M162.0 66.7h.6M169.9 66.3h.6M164.0 70.0h.6M164.2 69.3h.6M162.6 64.4h.6M166.7 66.9h.6M160.4 68.5h.6M163.0 66.2h.6M156.1 61.7h.6M174.8 61.8h.6M152.3 69.2h.6M166.8 68.4h.6M151.3 68.7h.6M163.0 62.7h.6M171.2 69.3h.6M150.5 69.7h.6M173.6 63.1h.6M152.0 71.1h.6M153.3 71.3h.6M162.1 66.9h.6M150.1 68.1h.6M167.2 64.3h.6M164.1 69.2h.6M137.1 72.5h.6M148.2 71.9h.6M152.3 63.5h.6M162.6 65.5h.6M150.5 68.7h.6M153.3 67.7h.6M163.2 60.9h.6M151.0 68.3h.6M163.0 71.8h.6M148.5 71.2h.6M167.3 64.3h.6M170.6 63.0h.6M149.2 66.0h.6M140.3 72.9h.6M145.1 68.6h.6M167.0 64.8h.6M155.3 71.4h.6M168.6 68.5h.6M148.9 72.1h.6M150.6 64.7h.6M158.0 66.3h.6M168.9 69.2h.6M156.8 64.7h.6M151.8 73.4h.6M161.8 67.1h.6M160.7 70.4h.6M163.2 65.6h.6M157.1 64.7h.6M153.6 66.0h.6M160.5 72.0h.6M138.9 71.5h.6M160.7 63.7h.6M169.9 67.8h.6M162.8 62.2h.6M151.5 69.1h.6M147.0 71.6h.6M170.3 66.1h.6M155.5 69.9h.6M157.6 67.9h.6M159.5 60.1h.6M154.7 69.6h.6M159.6 67.5h.6M171.5 64.3h.6M155.6 70.1h.6M175.5 66.4h.6M162.6 67.6h.6M163.0 71.5h.6M168.6 72.4h.6M167.1 66.8h.6M167.7 64.7h.6M163.0 62.9h.6M155.0 70.5h.6M171.5 59.4h.6M159.3 72.9h.6M153.2 72.2h.6M166.3 64.5h.6M165.1 68.5h.6M158.5 65.2h.6M159.2 64.4h.6M164.7 68.8h.6M174.4 61.1h.6M158.9 68.6h.6M149.0 69.7h.6M155.8 73.4h.6M163.8 67.7h.6M158.8 72.7h.6M154.5 71.5h.6M164.8 64.1h.6M164.6 62.9h.6M156.3 61.9h.6M161.7 67.3h.6M152.3 60.8h.6M153.8 66.5h.6M154.9 61.3h.6M147.8 68.5h.6M162.6 69.1h.6M158.1 65.3h.6M154.8 67.0h.6M159.9 66.2h.6M160.6 68.2h.6M152.2 64.8h.6M154.5 69.1h.6M152.7 68.9h.6M169.6 62.1h.6M144.8 68.0h.6M159.3 71.4h.6M166.5 68.3h.6M150.6 71.0h.6M150.7 67.1h.6M150.8 68.6h.6M143.4 67.3h.6M167.4 60.4h.6M156.5 66.9h.6M149.3 68.1h.6M152.6 65.4h.6M159.2 63.9h.6M156.1 69.5h.6M150.8 68.2h.6M161.5 62.3h.6M152.5 75.5h.6M154.0 63.5h.6M159.9 68.2h.6M151.7 66.3h.6M159.4 69.7h.6M153.1 69.3h.6M180.8 65.8h.6M154.9 68.5h.6M163.4 64.4h.6M152.2 73.7h.6M149.0 69.8h.6M157.0 67.5h.6M155.3 68.1h.6M154.9 66.4h.6M158.1 69.0h.6M166.5 71.1h.6M174.8 68.7h.6M174.8 65.0h.6M159.0 69.7h.6M173.6 66.6h.6M171.6 62.9h.6M153.9 73.5h.6M154.2 69.6h.6M155.9 62.8h.6M174.4 66.1h.6M156.1 65.6h.6M156.1 69.3h.6M169.7 67.3h.6M156.2 67.4h.6M156.8 69.1h.6M163.6 70.8h.6M158.3 63.6h.6M136.7 67.0h.6M147.4 70.0h.6M163.3 66.0h.6M147.4 76.8h.6M168.4 68.6h.6M157.5 69.7h.6M159.7 67.2h.6M158.7 61.8h.6M142.1 67.5h.6M151.6 68.4h.6M149.2 70.5h.6M159.3 66.3h.6M170.2 65.4h.6M156.3 70.4h.6M157.8 65.8h.6M141.4 70.4h.6M154.0 65.8h.6M156.5 72.0h.6M154.8 62.4h.6M163.0 68.6h.6M169.7 67.5h.6M156.2 62.0h.6M160.6 65.8h.6M145.6 74.1h.6M162.1 64.1h.6M157.6 66.2h.6M143.3 71.1h.6M161.4 71.1h.6M152.7 71.0h.6M165.5 64.0h.6M160.6 63.0h.6M157.4 63.3h.6M172.0 65.6h.6M155.0 61.9h.6M154.8 66.8h.6M158.4 69.6h.6M157.9 64.1h.6M150.6 68.5h.6M162.4 66.5h.6M161.8 69.3h.6M152.6 64.9h.6M145.1 71.0h.6M167.8 65.4h.6M168.8 65.6h.6M164.3 61.5h.6M166.5 67.4h.6M172.3 61.9h.6M160.9 66.8h.6M171.2 62.2h.6M158.5 73.7h.6M151.4 69.5h.6M160.1 73.9h.6M155.6 66.4h.6M162.5 65.9h.6M174.6 68.5h.6M161.9 65.8h.6M167.7 67.0h.6M177.1 67.0h.6M173.3 63.2h.6M159.1 65.5h.6M153.2 68.2h.6M177.1 66.6h.6M150.3 70.9h.6M144.8 74.9h.6M142.3 70.7h.6M168.2 64.0h.6M146.1 67.1h.6M156.6 67.2h.6M157.5 66.1h.6M169.6 64.8h.6M147.0 67.5h.6M158.9 65.4h.6M161.2 66.1h.6M171.2 67.8h.6M156.8 67.1h.6M160.8 65.4h.6M157.4 71.1h.6M168.9 69.5h.6M166.6 64.9h.6M155.7 67.6h.6M162.3 61.3h.6M145.8 65.9h.6M159.6 67.3h.6M152.7 73.3h.6M156.9 73.8h.6M168.0 68.1h.6M176.5 62.1h.6M161.2 68.7h.6M157.0 63.6h.6M156.3 68.0h.6M164.5 62.7h.6M157.7 67.9h.6M168.2 69.9h.6M173.3 71.0h.6M164.5 67.0h.6M156.3 69.5h.6M164.4 61.3h.6M153.0 67.0h.6M145.7 75.4h.6M169.4 68.8h.6M175.6 66.4h.6M170.5 66.4h.6M157.4 73.1h.6M131.1 73.3h.6M153.0 68.4h.6M166.2 74.6h.6M155.3 65.8h.6M171.0 66.3h.6M152.2 68.1h.6M164.2 71.0h.6M160.8 66.4h.6M161.0 66.1h.6M147.3 69.4h.6M158.8 70.2h.6M160.6 64.2h.6M154.8 64.1h.6M148.2 69.8h.6M154.8 67.5h.6M151.5 71.0h.6M161.7 66.0h.6M166.6 64.0h.6M161.9 67.8h.6M162.4 68.2h.6M158.2 71.0h.6M160.6 67.5h.6M141.6 66.1h.6M159.6 67.4h.6M166.4 66.0h.6M154.5 68.4h.6M165.1 67.9h.6M146.3 69.7h.6M160.1 70.8h.6M157.2 67.2h.6M163.8 70.9h.6M159.4 64.1h.6M175.8 56.5h.6M131.9 70.9h.6M148.8 78.8h.6M153.2 68.2h.6M159.6 67.2h.6M153.7 69.7h.6M153.0 67.7h.6M146.0 71.5h.6M147.7 70.7h.6M153.1 75.4h.6M172.3 68.3h.6M152.3 70.1h.6M182.3 64.5h.6M168.2 67.4h.6M155.8 65.1h.6M166.5 69.4h.6M167.0 63.9h.6M149.5 72.3h.6M145.5 71.3h.6M171.8 67.6h.6M151.9 73.7h.6M166.6 67.8h.6M164.3 65.0h.6M144.8 70.0h.6M164.7 68.2h.6M163.4 65.4h.6M169.4 64.2h.6M158.6 67.5h.6M162.5 65.8h.6M162.5 68.5h.6M156.7 66.9h.6M172.7 64.9h.6M166.5 63.7h.6M170.6 59.7h.6M162.5 69.4h.6M169.3 68.4h.6M150.7 68.1h.6M154.3 71.3h.6M167.5 66.7h.6M156.3 64.8h.6M156.5 72.0h.6M158.9 61.6h.6M145.8 70.6h.6M160.8 69.5h.6M162.3 63.6h.6M157.4 73.1h.6M149.2 68.2h.6M174.4 68.1h.6M162.4 66.4h.6M150.9 71.8h.6M154.0 68.8h.6M147.1 77.8h.6M144.7 72.3h.6M143.7 74.5h.6M152.5 71.5h.6M162.6 67.6h.6M164.9 65.7h.6M158.3 69.3h.6M168.1 68.8h.6M164.3 69.4h.6M149.8 71.7h.6M151.9 69.1h.6M161.8 69.4h.6M164.0 63.7h.6M168.0 65.7h.6M146.2 64.6h.6M142.4 69.6h.6M175.7 63.6h.6M155.7 64.3h.6M166.6 62.6h.6M160.0 70.6h.6M147.9 72.0h.6M171.5 68.4h.6M163.8 70.4h.6M171.8 67.0h.6M164.7 69.1h.6M151.1 70.7h.6M159.7 71.8h.6M166.4 61.6h.6M153.3 68.8h.6M161.5 70.6h.6M169.4 68.2h.6M149.0 70.5h.6M155.9 67.7h.6M161.3 70.1h.6M167.1 65.6h.6M157.7 64.8h.6M154.1 72.7h.6M163.7 65.8h.6M154.3 69.6h.6M161.7 62.4h.6M160.5 59.8h.6M158.0 69.6h.6M167.6 71.1h.6M167.6 59.0h.6M148.1 68.9h.6M164.0 68.6h.6M158.1 68.8h.6M156.9 68.7h.6M160.0 67.7h.6M168.5 62.8h.6M158.9 71.4h.6M157.3 71.3h.6M149.2 71.4h.6M156.5 61.5h.6M160.5 72.8h.6M151.5 69.6h.6M157.3 70.0h.6M164.7 72.6h.6M171.9 69.1h.6M157.1 68.2h.6M176.8 67.2h.6M168.2 67.7h.6M166.4 64.5h.6M164.6 67.1h.6M159.2 62.5h.6M153.4 64.5h.6M159.2 68.5h.6M161.1 71.9h.6M160.4 64.7h.6M173.3 68.4h.6M176.5 64.4h.6M165.5 72.1h.6M167.9 64.9h.6M156.1 77.8h.6M143.7 72.9h.6M158.9 67.3h.6M162.1 68.1h.6M170.3 59.8h.6M180.2 64.2h.6M161.9 66.4h.6M171.1 66.8h.6M169.0 64.7h.6M159.9 59.4h.6M165.1 58.6h.6M162.7 65.1h.6M172.0 61.1h.6M151.9 72.4h.6M140.1 69.0h.6M161.5 68.8h.6M167.6 65.5h.6M169.8 70.3h.6M155.4 69.1h.6M164.7 67.3h.6M154.0 66.0h.6M166.0 67.5h.6M154.4 71.1h.6M151.1 69.4h.6M168.4 68.0h.6M149.0 67.0h.6M147.8 69.9h.6M167.0 67.4h.6M160.7 66.6h.6M141.8 75.7h.6M170.3 67.3h.6M149.5 68.2h.6M155.7 65.8h.6M159.2 67.9h.6M176.3 61.7h.6M159.7 66.6h.6M166.9 62.7h.6M159.5 70.2h.6M164.5 67.2h.6M148.7 71.3h.6M160.7 70.1h.6M153.5 62.1h.6M151.8 69.7h.6M162.4 66.4h.6M169.2 67.7h.6M164.4 68.3h.6M157.9 69.8h.6M167.1 70.1h.6M149.7 64.3h.6M162.1 64.0h.6M165.3 70.3h.6M160.4 72.1h.6M157.5 65.8h.6M161.9 70.8h.6M156.0 71.3h.6M157.4 64.1h.6M165.8 64.5h.6M144.5 72.4h.6M170.4 65.1h.6M165.1 72.1h.6M162.3 69.1h.6M152.4 72.3h.6M156.3 66.6h.6M154.4 65.2h.6M165.3 64.6h.6M166.3 70.6h.6M170.9 70.9h.6M160.0 65.2h.6M143.3 71.2h.6M150.4 62.3h.6M157.9 72.2h.6M161.9 63.4h.6M148.2 73.2h.6M159.2 71.9h.6M159.6 63.7h.6M154.4 66.3h.6M158.8 70.2h.6M179.6 67.4h.6M159.4 66.2h.6M175.5 60.9h.6M162.1 68.3h.6M154.9 72.8h.6M163.7 63.5h.6M155.9 66.2h.6M160.1 71.3h.6M141.5 72.6h.6M162.1 64.7h.6M155.0 68.9h.6M169.4 67.0h.6M161.4 70.6h.6M156.8 69.4h.6M151.1 69.7h.6M158.8 62.8h.6M157.0 70.1h.6M153.7 70.8h.6M175.2 64.8h.6M158.5 68.1h.6M167.1 66.4h.6M172.4 67.8h.6M162.7 65.9h.6M164.0 63.0h.6M164.4 69.5h.6M167.3 64.8h.6M164.2 65.9h.6M164.1 68.1h.6M160.6 66.8h.6M155.6 68.5h.6M155.3 65.3h.6M155.3 72.8h.6M160.3 63.5h.6M171.3 69.2h.6M151.0 65.9h.6M154.1 66.8h.6M151.3 68.4h.6M159.7 70.5h.6M168.1 66.4h.6M156.6 67.1h.6M161.3 63.5h.6M141.2 75.1h.6M158.4 68.2h.6M163.9 68.1h.6M154.4 68.4h.6M145.9 69.4h.6M163.8 68.9h.6M158.9 68.9h.6M175.2 67.7h.6M155.0 69.5h.6M157.3 63.9h.6M157.0 70.7h.6M160.4 67.7h.6M144.5 70.5h.6M168.6 56.1h.6M164.2 64.1h.6M157.8 68.7h.6M156.2 66.6h.6M164.0 67.5h.6M162.9 68.9h.6M156.1 68.5h.6M157.6 65.4h.6M162.7 68.4h.6M156.4 69.7h.6M156.7 67.7h.6M154.8 63.0h.6M155.8 64.8h.6M149.5 72.6h.6M151.7 68.8h.6M161.4 61.8h.6M165.9 65.7h.6M159.2 68.0h.6M130.8 76.4h.6M147.8 71.8h.6M163.2 68.1h.6M172.9 62.3h.6M168.3 60.6h.6M157.5 66.3h.6M157.6 72.4h.6M155.1 64.1h.6M174.4 67.1h.6M160.5 62.9h.6M151.2 65.7h.6M167.5 66.2h.6M165.9 63.8h.6M143.0 70.8h.6M153.7 65.5h.6M168.0 66.2h.6M167.6 68.5h.6M148.5 65.8h.6M160.0 69.3h.6M167.1 67.1h.6M163.0 69.3h.6M149.5 63.0h.6M158.8 70.7h.6M164.3 63.0h.6M163.5 66.0h.6M151.5 68.2h.6M178.1 60.3h.6M160.9 64.7h.6M147.0 68.4h.6M157.1 68.8h.6M137.8 74.9h.6M153.9 68.1h.6M159.9 70.0h.6M179.5 63.5h.6M162.1 70.6h.6M161.9 63.1h.6M166.1 66.6h.6M161.5 67.1h.6M155.0 69.1h.6M171.1 66.1h.6M164.6 69.0h.6M172.5 65.1h.6M168.6 67.2h.6M152.0 68.5h.6M156.0 68.0h.6M156.1 66.5h.6M157.4 71.5h.6M164.0 69.0h.6M159.3 71.7h.6M153.1 67.7h.6M171.7 64.3h.6M172.6 72.2h.6M160.9 70.7h.6M150.3 65.3h.6M155.4 70.9h.6M154.0 70.0h.6M152.4 68.3h.6M151.8 68.6h.6M161.3 64.7h.6M162.0 65.5h.6M162.9 64.5h.6M151.6 65.9h.6M162.1 65.9h.6M175.5 61.3h.6M162.3 69.2h.6M157.5 71.3h.6M182.0 62.0h.6M162.3 66.0h.6M155.3 70.6h.6M167.0 65.6h.6M155.5 74.8h.6M155.2 60.5h.6M166.6 58.9h.6M154.3 65.5h.6M148.3 71.7h.6M166.2 68.5h.6M166.4 64.6h.6M148.8 70.2h.6M157.0 67.4h.6M169.1 67.0h.6M163.4 73.0h.6M165.3 59.4h.6M160.6 74.3h.6M155.6 71.8h.6M155.3 67.7h.6M157.9 69.6h.6M161.5 67.2h.6M138.6 74.0h.6M144.9 72.6h.6M160.7 69.8h.6M164.9 63.4h.6M155.2 70.6h.6M159.7 65.6h.6M151.2 68.7h.6M149.5 72.5h.6M161.1 66.0h.6M159.8 68.6h.6M156.2 69.5h.6M149.7 70.3h.6M159.9 63.9h.6M160.0 69.1h.6M158.2 68.6h.6M160.7 74.4h.6M156.5 65.3h.6M165.1 69.7h.6M163.0 65.7h.6M174.3 63.4h.6M172.6 70.0h.6M159.6 67.3h.6M150.7 72.3h.6M165.2 66.9h.6M154.6 66.1h.6M172.1 64.2h.6M147.7 69.2h.6M156.4 67.8h.6M173.6 70.3h.6M160.3 69.0h.6M164.6 61.3h.6M166.5 72.0h.6M156.3 69.7h.6M167.3 68.8h.6M154.0 73.9h.6M156.8 65.9h.6M177.2 64.7h.6M158.3 67.6h.6M162.6 66.0h.6M151.1 68.8h.6M170.8 65.5h.6M153.3 72.9h.6M154.4 71.4h.6M155.2 69.7h.6M153.1 73.0h.6M146.8 63.6h.6M157.5 68.4h.6M156.2 69.7h.6M159.2 68.9h.6M152.9 73.7h.6M152.7 70.0h.6M158.1 72.4h.6M159.6 67.3h.6M152.8 71.5h.6M159.5 68.2h.6M157.7 67.5h.6M168.6 67.4h.6M165.2 68.3h.6M163.2 64.3h.6M168.5 68.7h.6M154.5 68.2h.6M170.7 65.6h.6M159.4 59.6h.6M155.8 68.6h.6M161.7 61.5h.6M151.7 72.3h.6M173.5 62.2h.6M161.5 66.0h.6M147.6 70.1h.6M149.8 66.0h.6M155.7 68.8h.6M154.4 65.3h.6M163.2 66.4h.6M167.4 68.7h.6M168.8 69.7h.6M165.0 71.0h.6M152.1 68.9h.6M168.1 62.9h.6M169.9 67.0h.6M145.2 76.0h.6M154.5 66.3h.6M157.8 72.4h.6M153.3 68.9h.6M166.3 58.2h.6M163.4 67.2h.6M161.4 73.2h.6M150.4 72.2h.6M143.9 74.8h.6M152.4 70.7h.6M151.8 64.4h.6M150.8 62.6h.6M141.9 68.6h.6M147.0 69.5h.6M155.4 65.7h.6M161.7 64.8h.6M155.8 71.1h.6M158.7 72.5h.6M157.8 63.0h.6M158.3 64.8h.6M169.1 65.3h.6M153.0 68.7h.6M159.6 60.6h.6M150.9 78.9h.6M169.5 67.7h.6M165.6 67.5h.6M166.2 60.4h.6M160.6 68.5h.6M157.7 64.6h.6M149.6 71.7h.6M162.3 68.1h.6M170.5 65.4h.6M137.5 74.2h.6M173.3 62.9h.6M153.1 69.9h.6M161.8 59.9h.6M153.5 71.5h.6M158.2 67.6h.6M167.9 73.7h.6M158.1 68.5h.6M172.5 57.6h.6M160.9 72.2h.6M164.3 64.5h.6M153.8 65.7h.6M155.5 68.6h.6M157.2 72.3h.6M165.0 72.6h.6M172.7 63.6h.6M160.0 68.4h.6M149.4 70.9h.6M154.2 67.0h.6M148.2 68.9h.6M163.4 66.5h.6M159.8 67.6h.6M151.6 72.9h.6M155.4 62.8h.6M167.5 67.5h.6M163.6 68.1h.6M155.9 72.9h.6M165.4 65.3h.6M162.5 66.0h.6M155.2 69.1h.6M160.7 65.8h.6M174.3 62.6h.6M150.3 67.9h.6M167.4 63.9h.6M157.8 65.0h.6M164.3 64.8h.6M162.3 64.7h.6M161.4 65.1h.6M157.4 64.1h.6M160.3 70.6h.6M165.3 67.4h.6M163.3 66.8h.6M147.1 67.3h.6M163.7 68.8h.6M170.0 64.6h.6M166.8 65.8h.6M161.4 67.6h.6M144.8 70.8h.6M165.0 69.5h.6M164.4 64.2h.6M171.0 63.1h.6M152.0 70.0h.6M157.6 67.6h.6M155.7 70.4h.6M158.0 71.0h.6M146.6 75.0h.6M156.4 71.5h.6M155.9 67.8h.6M156.4 68.0h.6M172.2 63.7h.6M155.2 72.3h.6M155.8 68.0h.6M168.0 63.2h.6M154.3 65.8h.6M169.7 67.7h.6M162.6 64.4h.6M152.6 61.2h.6M154.3 71.2h.6M160.8 68.5h.6M158.4 70.4h.6M160.9 70.5h.6M155.2 70.4h.6M164.5 67.9h.6M154.1 69.2h.6M155.2 66.4h.6M156.6 62.0h.6M148.0 64.4h.6M157.2 69.5h.6M158.3 70.6h.6M147.8 70.6h.6M144.5 69.0h.6M169.9 67.4h.6M157.3 68.3h.6M158.3 68.1h.6M154.1 68.0h.6M171.4 61.5h.6M157.1 65.3h.6M145.2 72.3h.6M164.5 71.7h.6M152.7 74.8h.6M162.8 66.5h.6M158.7 69.4h.6M169.7 65.2h.6M163.4 67.4h.6M156.7 69.8h.6M171.6 67.8h.6M180.8 59.4h.6M156.4 74.0h.6M168.3 65.4h.6M161.9 64.3h.6M164.8 73.8h.6M148.9 67.6h.6M151.6 69.6h.6M170.6 63.1h.6M161.6 71.0h.6M153.4 61.0h.6M174.5 65.5h.6M168.5 60.9h.6M166.6 71.0h.6M153.1 75.8h.6M160.1 70.4h.6M171.1 62.8h.6M143.9 75.1h.6M148.2 77.2h.6M153.3 70.1h.6M167.3 64.9h.6M162.5 71.7h.6M162.6 63.1h.6M161.0 66.6h.6M160.4 67.5h.6M169.6 65.9h.6M189.8 64.3h.6M163.4 66.5h.6M169.6 62.1h.6M155.1 64.5h.6M172.7 64.4h.6M160.8 69.0h.6M161.8 70.3h.6M156.4 70.5h.6M152.5 65.2h.6M155.6 70.5h.6M151.3 67.7h.6M150.0 74.1h.6M174.6 63.4h.6M163.2 66.1h.6M167.4 64.3h.6M164.5 69.7h.6M148.0 70.2h.6M161.9 75.8h.6M153.2 72.9h.6M152.3 65.9h.6M158.8 67.9h.6M161.8 70.6h.6M161.0 70.0h.6M161.2 69.4h.6M157.5 69.1h.6M140.0 67.5h.6M141.8 73.3h.6M165.5 62.6h.6M149.3 62.8h.6M158.1 69.8h.6M165.3 71.0h.6M137.1 72.0h.6M137.2 72.4h.6M162.8 64.7h.6M152.8 77.0h.6M154.3 71.3h.6M169.6 64.8h.6M154.5 68.2h.6M157.1 69.6h.6M161.8 72.9h.6M138.5 70.5h.6M175.5 61.1h.6M162.3 69.2h.6M151.6 69.6h.6M168.5 60.0h.6M147.5 70.4h.6M149.9 69.1h.6M144.0 69.9h.6M155.2 70.0h.6M149.8 71.6h.6M161.9 75.4h.6M150.9 73.0h.6M161.1 71.8h.6M161.8 65.9h.6M161.8 68.0h.6M161.0 65.1h.6M157.8 65.7h.6M149.4 74.3h.6M138.1 82.7h.6M161.9 71.0h.6M142.8 73.8h.6M161.7 70.4h.6M157.7 72.4h.6M156.9 68.6h.6M157.5 68.6h.6M164.2 70.2h.6M148.5 77.9h.6M161.0 68.5h.6M167.6 59.3h.6M166.7 70.4h.6M169.5 67.2h.6M153.8 66.1h.6M155.8 65.5h.6M174.8 51.1h.6M162.2 64.4h.6M160.1 67.3h.6M168.7 68.8h.6M148.1 70.6h.6M155.2 64.9h.6M161.9 66.1h.6M156.9 69.2h.6M174.3 67.9h.6M162.5 69.1h.6M167.8 70.5h.6M146.9 62.6h.6M157.6 69.8h.6M157.5 70.2h.6M162.2 63.7h.6M162.9 68.6h.6M157.1 66.7h.6M162.6 62.4h.6M178.8 58.6h.6M158.3 71.1h.6M151.0 72.8h.6M171.5 70.8h.6M174.2 68.7h.6M160.0 70.5h.6M166.9 62.1h.6M135.4 72.7h.6M162.4 66.7h.6M157.4 77.9h.6M180.5 60.2h.6M158.9 62.9h.6M176.4 60.4h.6M156.6 73.6h.6M154.1 66.8h.6M152.6 73.3h.6M144.6 69.4h.6M152.5 74.6h.6M168.1 59.8h.6M140.8 70.5h.6M159.2 71.3h.6M169.4 65.4h.6M159.6 64.5h.6M164.6 73.9h.6M160.1 62.1h.6M162.5 64.1h.6M138.2 78.1h.6M175.3 72.8h.6M161.6 68.1h.6M150.7 64.8h.6M153.4 64.1h.6M155.5 65.5h.6M164.9 67.0h.6M146.3 77.3h.6M145.1 75.6h.6M144.6 76.0h.6M166.9 64.7h.6M148.7 74.2h.6M159.8 72.0h.6M146.3 75.1h.6M157.1 69.0h.6M152.1 68.3h.6M151.0 75.3h.6M171.3 73.0h.6M158.7 67.7h.6M147.9 72.6h.6M184.5 68.1h.6M149.2 77.6h.6M146.9 79.1h.6M139.9 72.9h.6M176.3 70.7h.6M159.0 63.4h.6M159.5 58.8h.6M169.3 64.6h.6M159.6 70.1h.6M164.3 60.9h.6M175.8 64.5h.6M160.8 69.1h.6M166.6 67.0h.6M160.5 69.6h.6M160.6 73.4h.6M173.0 64.5h.6M163.9 65.6h.6M161.5 70.6h.6M138.8 77.7h.6M148.1 69.1h.6M151.9 76.3h.6M158.5 72.1h.6M161.7 66.4h.6M159.7 68.4h.6M155.6 65.9h.6M162.4 71.0h.6M162.0 68.5h.6M169.4 75.3h.6M136.7 62.0h.6M167.9 61.4h.6M178.5 62.3h.6M170.7 68.5h.6M153.1 68.3h.6M147.8 67.9h.6M157.8 70.8h.6M172.0 64.0h.6M161.2 69.3h.6M137.3 77.3h.6M158.8 61.8h.6M182.8 60.4h.6M141.3 74.4h.6M150.9 69.6h.6M157.4 65.6h.6M161.7 70.8h.6M167.2 67.3h.6M141.1 74.5h.6M159.7 72.5h.6M150.3 68.9h.6M167.5 71.4h.6M161.9 68.9h.6M169.8 67.6h.6M145.4 76.2h.6M144.2 64.8h.6M148.4 63.7h.6M151.4 65.3h.6M150.6 74.3h.6M144.1 72.4h.6M150.7 68.0h.6M139.0 68.4h.6M166.5 59.6h.6M152.4 71.4h.6M143.7 71.9h.6M159.5 70.3h.6M140.9 76.6h.6M161.5 69.4h.6M154.7 75.6h.6M175.5 63.4h.6M164.4 74.2h.6M149.3 72.7h.6M166.4 64.8h.6M158.8 69.5h.6M166.3 76.7h.6M151.8 67.6h.6M152.1 68.3h.6M171.2 66.9h.6M145.7 71.8h.6M162.7 76.1h.6M155.2 68.6h.6M143.0 75.0h.6M150.7 68.2h.6M162.0 63.2h.6M154.9 68.9h.6M155.1 68.4h.6M157.0 72.1h.6M159.3 74.4h.6M160.1 66.4h.6M157.3 73.8h.6M140.4 68.2h.6M156.4 76.9h.6M156.7 62.7h.6M174.3 63.2h.6M146.5 72.4h.6M173.5 63.9h.6M150.3 65.5h.6M174.8 68.4h.6M134.1 69.5h.6M154.9 73.7h.6M130.5 68.3h.6M142.3 76.7h.6M153.0 73.5h.6M162.6 70.1h.6M149.5 75.2h.6M159.4 67.6h.6M148.0 70.7h.6M175.2 70.2h.6M149.7 66.0h.6M177.8 63.4h.6M176.1 64.0h.6M147.0 70.1h.6M162.3 66.7h.6M149.7 59.9h.6M172.6 65.6h.6M160.6 69.4h.6M177.6 70.0h.6M155.6 72.7h.6M153.2 67.2h.6M148.3 69.6h.6M157.5 64.8h.6M161.0 66.5h.6M157.1 66.3h.6M161.1 72.8h.6M165.4 68.8h.6M156.6 71.6h.6M149.7 68.9h.6M146.0 70.6h.6M151.3 72.4h.6M152.6 66.4h.6M168.3 68.8h.6M167.6 70.5h.6M148.7 68.2h.6M163.4 67.6h.6M146.5 67.4h.6M167.4 74.0h.6M140.1 74.5h.6M168.5 71.3h.6M154.9 68.5h.6M158.9 64.8h.6M155.8 68.8h.6M147.0 77.2h.6M159.9 75.5h.6M157.9 72.3h.6M165.2 67.2h.6M164.2 69.3h.6M171.3 70.8h.6M162.2 63.5h.6M145.7 75.4h.6M164.8 63.9h.6M144.5 72.9h.6M150.1 73.8h.6M158.2 70.1h.6M148.3 71.4h.6M154.1 75.4h.6M167.7 65.1h.6M150.4 69.0h.6M146.8 67.3h.6M143.5 72.8h.6M188.3 65.8h.6M152.3 69.7h.6M155.9 61.1h.6M158.2 70.8h.6M169.8 69.2h.6M150.4 66.8h.6M147.4 70.2h.6M153.2 70.1h.6M148.2 67.7h.6M142.2 73.5h.6M137.2 73.7h.6M156.7 64.2h.6M150.3 58.6h.6M171.4 62.0h.6M153.0 76.2h.6M154.5 74.9h.6M170.0 65.0h.6M138.2 68.4h.6M167.0 73.3h.6M149.0 73.9h.6M146.2 76.9h.6M163.0 76.0h.6M159.0 70.6h.6M145.2 72.0h.6M159.3 65.3h.6M174.1 66.1h.6M165.2 63.1h.6M159.5 73.3h.6M151.2 69.4h.6M157.8 75.9h.6M162.1 66.5h.6M155.3 71.4h.6M161.5 64.7h.6M168.5 70.5h.6M140.7 69.0h.6M160.3 74.1h.6M163.2 70.2h.6M152.8 62.0h.6M149.2 64.7h.6M173.7 66.6h.6M156.3 69.0h.6M158.2 77.6h.6M150.7 66.6h.6M153.9 68.9h.6M154.1 69.7h.6M156.4 70.3h.6M142.8 79.7h.6M140.0 72.4h.6M149.2 63.8h.6M155.1 76.5h.6M151.5 72.2h.6M163.6 61.2h.6M156.3 66.4h.6M164.7 66.1h.6M159.8 69.1h.6M134.0 77.6h.6M162.1 67.0h.6M172.3 63.6h.6M158.0 64.7h.6M156.4 68.5h.6M195.4 60.6h.6M194.2 55.3h.6M171.2 53.8h.6M174.6 45.3h.6M191.4 51.9h.6M196.7 46.1h.6M196.6 53.7h.6M169.4 52.8h.6M184.1 67.0h.6M189.5 48.7h.6M192.0 56.8h.6M187.4 51.2h.6M193.5 39.6h.6M177.0 49.9h.6M198.0 52.5h.6M171.5 31.8h.6M188.0 58.3h.6M178.8 62.2h.6M176.9 50.9h.6M196.8 47.9h.6M185.7 48.8h.6M183.7 39.5h.6M187.3 45.9h.6M187.7 53.7h.6M190.1 46.7h.6M183.8 44.3h.6M188.0 54.4h.6M187.6 55.2h.6M187.8 59.5h.6M188.1 49.9h.6M191.8 58.9h.6M187.8 41.3h.6M182.2 48.6h.6M174.6 45.6h.6M176.3 57.0h.6M189.6 47.0h.6M197.7 39.4h.6M179.5 42.8h.6M179.5 64.4h.6M182.3 36.5h.6M178.0 47.2h.6M175.3 30.5h.6M192.2 53.9h.6M192.7 51.1h.6M185.3 48.1h.6M185.8 52.5h.6M185.0 38.4h.6M179.1 44.8h.6M186.7 39.4h.6M184.1 53.8h.6M184.4 46.8h.6M182.7 53.6h.6M185.1 39.9h.6M176.0 44.9h.6M183.5 55.3h.6M191.5 47.3h.6M189.2 50.6h.6M182.2 46.4h.6M181.9 55.1h.6M178.0 41.2h.6M182.4 41.9h.6M190.3 48.7h.6M177.7 47.3h.6M182.3 40.8h.6M171.9 52.2h.6M193.5 58.6h.6M179.1 51.0h.6M190.4 48.4h.6M182.7 50.5h.6M208.0 53.7h.6M185.8 48.5h.6M192.0 54.2h.6M178.9 64.2h.6M180.8 57.8h.6M190.6 45.7h.6M175.2 44.2h.6M193.6 48.4h.6M192.3 64.9h.6M191.1 50.4h.6M191.2 64.5h.6M191.1 52.1h.6M193.2 52.3h.6M187.8 43.7h.6M181.5 52.2h.6M181.6 57.9h.6M193.6 53.9h.6M182.0 43.4h.6M182.3 39.3h.6M179.3 54.3h.6M188.8 46.3h.6M187.0 53.2h.6M188.4 63.8h.6M180.8 48.7h.6M198.8 56.5h.6M189.1 52.4h.6M186.5 49.5h.6M178.3 40.3h.6M190.7 59.8h.6M199.9 54.7h.6M188.1 52.5h.6M181.0 58.7h.6M176.7 53.4h.6M174.0 41.5h.6M180.1 47.0h.6M182.5 38.8h.6M166.6 52.9h.6M185.4 42.0h.6M188.7 41.8h.6M185.7 54.6h.6M197.8 51.9h.6M181.3 51.4h.6M188.5 54.8h.6M181.5 49.8h.6M192.0 41.4h.6M192.8 46.9h.6M188.0 41.7h.6M181.1 55.7h.6M183.8 46.6h.6M175.9 49.5h.6M183.2 45.3h.6M195.3 55.7h.6M193.4 45.3h.6M182.7 47.7h.6M187.5 49.6h.6M181.3 46.0h.6M178.1 51.4h.6M192.0 40.7h.6M179.6 38.7h.6M191.8 42.7h.6M191.6 48.4h.6M180.5 56.3h.6M181.7 51.3h.6M193.7 52.5h.6M185.9 41.5h.6M194.0 52.7h.6M190.0 54.8h.6M190.7 47.1h.6M187.6 61.9h.6M180.6 46.2h.6M180.9 55.7h.6M189.7 44.6h.6M183.8 43.8h.6M187.5 44.8h.6M186.0 52.8h.6M174.7 62.3h.6M184.4 56.3h.6M183.2 45.3h.6M185.3 48.8h.6M189.5 45.1h.6M188.0 41.3h.6M182.6 51.8h.6M179.7 34.7h.6M171.6 50.4h.6M186.5 44.0h.6M173.2 56.3h.6M190.9 50.9h.6M171.6 56.0h.6M195.5 56.6h.6M186.7 34.9h.6M192.9 60.2h.6M184.6 41.4h.6M185.8 38.7h.6M168.6 56.7h.6M173.0 54.2h.6M184.2 47.8h.6M177.9 51.6h.6M185.4 53.7h.6M202.5 42.3h.6M189.9 35.9h.6M194.3 53.4h.6M183.2 53.6h.6M188.2 47.1h.6M191.1 52.5h.6M184.2 49.6h.6M200.3 50.2h.6M170.4 50.9h.6M198.9 49.3h.6M181.2 48.6h.6M195.4 47.8h.6M182.8 47.5h.6M190.2 60.8h.6M183.9 54.3h.6M190.2 52.4h.6M182.5 42.2h.6M194.1 28.6h.6M194.7 44.0h.6M192.2 57.7h.6M180.2 55.4h.6M179.4 41.1h.6M196.2 56.1h.6M174.7 53.8h.6M189.1 53.4h.6M188.4 39.5h.6M180.0 47.5h.6M178.8 57.8h.6M177.5 32.0h.6M189.3 37.2h.6M182.6 48.0h.6M184.6 46.4h.6M184.1 35.6h.6M193.3 52.9h.6M181.1 51.0h.6M183.0 49.7h.6M176.6 39.3h.6M185.1 48.6h.6M194.3 47.6h.6M184.1 58.0h.6M190.2 50.6h.6M184.3 49.3h.6M173.8 56.6h.6M189.9 46.8h.6M189.1 52.0h.6M177.8 53.3h.6M175.4 55.4h.6M191.9 47.0h.6M192.8 40.4h.6M187.0 50.0h.6M184.8 50.6h.6M184.9 40.9h.6M188.7 59.8h.6M185.7 54.8h.6M186.1 40.0h.6M175.2 48.7h.6M189.0 41.4h.6M184.2 44.5h.6M187.6 38.1h.6M176.8 58.0h.6M190.4 41.6h.6M180.6 44.2h.6M195.3 54.3h.6M179.6 50.5h.6M181.5 54.9h.6M185.2 36.8h.6M182.8 40.9h.6M183.6 41.1h.6M192.9 50.8h.6M191.6 50.0h.6M176.1 54.3h.6M182.3 48.5h.6M184.9 52.0h.6M170.6 57.7h.6M176.2 59.7h.6M183.3 58.9h.6M173.4 61.3h.6M177.4 54.2h.6M180.5 63.7h.6M180.3 61.3h.6M178.4 61.5h.6M180.1 55.9h.6M178.5 53.9h.6M182.5 61.0h.6M171.4 64.7h.6M176.9 57.7h.6M181.4 55.0h.6M174.6 63.7h.6M173.8 66.7h.6M176.5 59.9h.6M179.5 55.5h.6M169.7 59.9h.6M178.0 57.4h.6M175.8 59.5h.6M178.1 60.4h.6M178.9 57.9h.6M175.4 58.2h.6M175.0 60.7h.6M179.6 60.6h.6M183.0 54.1h.6M179.2 56.8h.6M179.4 56.3h.6M173.1 61.2h.6M176.3 61.9h.6M174.0 65.3h.6M180.2 55.4h.6M180.8 55.5h.6M180.1 59.0h.6M182.3 59.0h.6M179.4 64.7h.6M172.7 56.3h.6M184.2 58.0h.6M174.8 59.0h.6M182.9 57.9h.6M186.1 56.7h.6M177.8 68.4h.6M172.9 60.5h.6M186.5 56.9h.6M175.1 48.7h.6M183.6 54.4h.6M178.3 47.2h.6M174.6 57.9h.6M182.3 49.3h.6M179.1 50.3h.6M181.4 55.8h.6M176.0 54.7h.6M173.3 56.7h.6M172.7 59.1h.6M170.8 62.1h.6M175.7 63.3h.6M173.5 60.2h.6M176.0 55.7h.6M170.6 56.1h.6M172.4 66.4h.6M179.0 59.4h.6M171.4 67.5h.6M174.6 58.1h.6M183.2 60.5h.6M173.2 65.6h.6M178.8 69.8h.6M176.4 58.2h.6M184.8 57.4h.6M181.2 64.4h.6M175.3 59.8h.6M178.5 58.2h.6M169.7 63.2h.6M171.1 63.1h.6M182.2 59.4h.6M181.1 57.2h.6M177.2 54.0h.6M184.4 66.2h.6M177.5 55.5h.6M173.9 68.2h.6M173.6 62.8h.6M177.8 62.5h.6M182.8 57.8h.6M180.4 61.0h.6M179.8 61.5h.6M177.7 68.0h.6M176.4 56.7h.6M175.8 54.0h.6M175.6 52.3h.6M172.0 53.4h.6M186.7 54.1h.6M168.8 57.5h.6M177.0 51.4h.6M173.4 63.9h.6M172.1 62.3h.6M180.7 57.0h.6M169.3 52.2h.6M171.6 57.6h.6M173.9 54.2h.6M187.4 50.7h.6M175.3 60.8h.6M177.4 61.2h.6M185.5 58.7h.6M184.4 71.3h.6M185.6 49.7h.6M174.6 65.2h.6M179.2 62.4h.6M181.2 55.5h.6M174.3 56.6h.6M178.1 63.1h.6" stroke="#222" stroke-width="0.6" fill="none" opacity="0.75"/>
<path d="M130.6 105.4v1.3M132.7 105.4v1.3M134.4 105.4v1.3M135.9 105.4v1.3M137.3 105.4v2.2M146.3 105.4v1.3M151.6 105.4v1.3M155.4 105.4v1.3M158.3 105.4v1.3M160.6 105.4v1.3M162.7 105.4v1.3M164.4 105.4v1.3M165.9 105.4v1.3M167.3 105.4v2.2M176.3 105.4v1.3M181.6 105.4v1.3M185.4 105.4v1.3M188.3 105.4v1.3M190.6 105.4v1.3M192.7 105.4v1.3M194.4 105.4v1.3M195.9 105.4v1.3M197.3 105.4v2.2M206.3 105.4v1.3M211.6 105.4v1.3M215.4 105.4v1.3" stroke="#222" stroke-width="0.8" fill="none"/>
<path d="M136.7 106.7h1.6" stroke="#333" stroke-width="1.6" fill="none"/>
<path d="M127.3 103.1h-1.2M127.3 101.0h-1.2M127.3 99.3h-1.2M127.3 97.8h-1.2M127.3 96.4h-2.2M127.3 87.4h-1.2M127.3 82.1h-1.2M127.3 78.3h-1.2M127.3 75.4h-1.2M127.3 73.1h-1.2M127.3 71.0h-1.2M127.3 69.3h-1.2M127.3 67.8h-1.2M127.3 66.4h-2.2M127.3 57.4h-1.2M127.3 52.1h-1.2M127.3 48.3h-1.2M127.3 45.4h-1.2M127.3 43.1h-1.2M127.3 41.0h-1.2M127.3 39.3h-1.2M127.3 37.8h-1.2M127.3 36.4h-2.2M127.3 27.4h-1.2M127.3 22.1h-1.2" stroke="#555" stroke-width="0.6" fill="none"/>
<rect x="127.3" y="18.9" width="91.3" height="86.5" fill="none" stroke="#8a8a8a" stroke-width="0.8"/>
<path d="M176.8 18.9L176.8 105.4" stroke="#2a2a2a" stroke-width="1.1" fill="none"/>
<path d="M127.3 60.2L218.6 60.2" stroke="#2a2a2a" stroke-width="1.1" fill="none"/>
<text x="135.7" y="15.2" font-size="15.6" stroke="#000" stroke-width="0.1" textLength="74.9" lengthAdjust="spacingAndGlyphs">EV+CDDP</text>
<text x="132.4" y="47.5" font-size="11.3" stroke="#000" stroke-width="0.2" textLength="27.2" lengthAdjust="spacingAndGlyphs">1.2%</text>
<text x="179.7" y="30.8" font-size="12.0" font-weight="bold" textLength="33.9" lengthAdjust="spacingAndGlyphs">14.3%</text>
<text x="184.2" y="100.8" font-size="11.3" stroke="#000" stroke-width="0.2" textLength="34.6" lengthAdjust="spacingAndGlyphs">11.6%</text>
<path d="M256.6 66.5h.6M254.1 69.2h.6M242.6 70.0h.6M229.1 71.1h.6M239.5 69.2h.6M259.7 67.8h.6M259.4 66.9h.6M240.8 74.3h.6M251.2 68.7h.6M260.2 65.9h.6M259.8 62.9h.6M240.4 68.2h.6M247.6 70.0h.6M248.6 69.6h.6M240.3 75.4h.6M263.8 63.6h.6M233.9 73.7h.6M252.5 67.7h.6M256.7 60.9h.6M252.3 64.5h.6M255.7 68.0h.6M229.1 71.8h.6M249.1 66.6h.6M252.3 71.2h.6M251.4 67.5h.6M237.7 71.9h.6M247.5 71.2h.6M241.6 68.9h.6M261.7 67.9h.6M242.8 67.0h.6M247.2 65.2h.6M248.2 72.1h.6M248.1 72.7h.6M264.4 67.5h.6M261.5 63.8h.6M252.3 66.9h.6M245.7 66.6h.6M244.7 66.8h.6M233.0 72.4h.6M249.6 67.1h.6M252.6 71.3h.6M246.7 64.5h.6M240.8 68.8h.6M258.9 62.9h.6M255.2 63.4h.6M251.8 73.6h.6M264.0 70.1h.6M251.7 69.3h.6M265.6 66.6h.6M248.0 70.6h.6M250.7 68.4h.6M242.2 60.8h.6M255.9 60.4h.6M245.4 71.0h.6M251.3 60.5h.6M251.3 72.2h.6M243.3 72.2h.6M268.9 65.2h.6M259.1 67.5h.6M247.7 70.9h.6M256.4 65.2h.6M253.5 73.0h.6M245.4 68.5h.6M264.9 62.4h.6M257.8 72.2h.6M254.8 67.7h.6M254.2 68.4h.6M256.1 70.6h.6M257.5 73.3h.6M251.6 67.9h.6M251.3 68.4h.6M249.8 64.2h.6M236.4 71.3h.6M249.0 73.5h.6M259.8 63.9h.6M262.5 62.9h.6M250.3 63.2h.6M241.8 66.2h.6M257.6 62.7h.6M242.5 69.9h.6M240.7 71.1h.6M236.1 65.2h.6M231.9 73.4h.6M266.8 68.6h.6M250.4 70.8h.6M224.1 71.6h.6M242.8 72.3h.6M234.2 70.1h.6M256.2 63.6h.6M242.8 65.6h.6M241.8 65.6h.6M254.7 66.3h.6M263.7 67.2h.6M241.4 64.7h.6M247.5 62.8h.6M241.4 73.7h.6M256.7 64.0h.6M252.7 74.4h.6M250.5 69.4h.6M241.1 65.9h.6M262.7 68.4h.6M247.2 72.0h.6M258.4 61.4h.6M259.7 65.5h.6M239.9 74.6h.6M246.5 64.5h.6M251.6 69.3h.6M239.9 71.5h.6M249.5 74.3h.6M252.7 71.7h.6M234.5 70.4h.6M245.6 64.9h.6M251.7 66.9h.6M245.1 69.6h.6M244.0 69.5h.6M236.6 69.8h.6M248.6 65.7h.6M251.7 71.8h.6M247.9 67.6h.6M260.5 63.8h.6M249.3 69.1h.6M245.5 69.7h.6M264.3 65.2h.6M256.0 70.7h.6M258.1 63.5h.6M260.6 66.8h.6M245.3 72.4h.6M240.4 69.0h.6M263.8 65.8h.6M233.0 73.9h.6M244.9 71.0h.6M263.2 65.6h.6M242.7 66.2h.6M255.2 64.5h.6M242.2 70.0h.6M269.9 63.2h.6M248.4 67.8h.6M256.1 65.4h.6M236.6 66.0h.6M256.1 68.9h.6M254.7 64.2h.6M246.3 73.9h.6M257.0 75.2h.6M248.0 71.2h.6M253.1 69.1h.6M244.5 67.6h.6M244.7 66.5h.6M238.3 69.6h.6M253.8 70.6h.6M247.5 69.0h.6M242.2 65.1h.6M264.3 67.7h.6M249.2 67.0h.6M248.6 71.1h.6M243.0 69.9h.6M257.0 64.5h.6M250.4 66.9h.6M242.6 72.2h.6M246.9 67.3h.6M255.3 71.3h.6M249.8 66.0h.6M260.5 70.5h.6M257.6 62.8h.6M268.0 61.3h.6M244.0 71.4h.6M249.9 72.9h.6M247.1 68.1h.6M247.8 71.2h.6M249.4 65.7h.6M245.7 66.2h.6M257.3 66.9h.6M240.0 76.9h.6M249.7 67.6h.6M253.9 62.7h.6M256.7 59.5h.6M249.3 68.2h.6M252.5 69.6h.6M249.7 67.3h.6M253.9 68.0h.6M247.5 66.5h.6M256.5 70.7h.6M261.6 67.3h.6M266.8 60.5h.6M246.2 67.2h.6M257.6 70.3h.6M251.9 67.7h.6M251.8 60.7h.6M245.4 68.0h.6M250.2 66.6h.6M252.8 59.4h.6M250.1 69.6h.6M246.9 73.0h.6M259.9 64.4h.6M250.1 65.4h.6M247.4 68.0h.6M249.4 66.8h.6M247.6 68.4h.6M243.3 71.1h.6M253.1 62.7h.6M247.3 67.7h.6M239.8 76.0h.6M258.2 65.9h.6M246.5 69.2h.6M237.1 71.9h.6M248.2 66.0h.6M242.4 65.5h.6M252.4 74.5h.6M239.0 70.5h.6M245.1 66.0h.6M235.6 73.8h.6M237.0 69.6h.6M249.4 65.4h.6M243.9 67.8h.6M261.5 61.5h.6M242.2 66.6h.6M251.2 70.5h.6M238.1 70.9h.6M261.9 64.7h.6M250.3 71.9h.6M236.3 73.1h.6M250.9 66.6h.6M244.0 64.9h.6M267.5 62.7h.6M259.4 69.9h.6M241.8 67.0h.6M256.7 73.2h.6M253.2 66.7h.6M245.3 64.9h.6M246.1 67.5h.6M247.9 72.9h.6M240.4 68.2h.6M252.0 69.0h.6M245.4 71.3h.6M248.1 66.8h.6M246.8 72.0h.6M243.8 73.7h.6M266.5 67.0h.6M250.7 62.6h.6M255.3 67.9h.6M273.1 65.4h.6M249.5 70.9h.6M244.3 74.9h.6M234.6 72.3h.6M236.9 71.0h.6M253.5 61.1h.6M236.5 67.4h.6M232.2 75.3h.6M248.9 64.8h.6M248.4 67.7h.6M262.9 60.2h.6M236.5 70.1h.6M257.4 62.8h.6M229.3 73.9h.6M260.3 65.7h.6M251.9 68.7h.6M240.1 65.5h.6M259.8 65.4h.6M251.2 70.4h.6M252.5 57.9h.6M249.2 66.4h.6M259.2 65.8h.6M255.5 69.4h.6M241.4 71.7h.6M242.0 71.7h.6M242.2 70.7h.6M256.6 69.0h.6M254.5 66.6h.6M251.7 67.4h.6M246.6 65.2h.6M244.1 68.7h.6M252.2 66.8h.6M257.5 71.2h.6M255.4 63.5h.6M263.7 66.0h.6M264.2 64.2h.6M246.2 69.1h.6M272.1 66.7h.6M262.4 65.3h.6M251.4 65.0h.6M252.7 67.9h.6M254.8 70.1h.6M245.1 70.2h.6M244.0 71.6h.6M249.0 64.2h.6M246.8 71.7h.6M224.3 72.1h.6M254.1 63.6h.6M233.1 72.8h.6M251.4 63.5h.6M246.5 69.8h.6M244.9 74.1h.6M255.7 65.3h.6M241.7 67.2h.6M241.7 73.4h.6M252.4 69.7h.6M251.8 70.4h.6M242.1 64.0h.6M242.2 67.3h.6M244.1 75.1h.6M251.7 65.3h.6M252.8 66.2h.6M256.5 67.2h.6M248.5 69.2h.6M241.4 69.5h.6M253.9 59.4h.6M272.6 65.1h.6M262.6 62.0h.6M241.0 73.0h.6M256.8 70.6h.6M247.6 65.4h.6M248.5 68.9h.6M248.1 73.6h.6M243.3 74.9h.6M236.8 74.0h.6M252.9 66.0h.6M240.8 71.5h.6M244.0 66.6h.6M247.0 73.5h.6M250.4 69.3h.6M246.5 73.3h.6M246.5 61.3h.6M245.3 67.5h.6M251.3 66.4h.6M252.2 66.5h.6M261.4 62.0h.6M254.6 68.7h.6M243.9 66.9h.6M255.5 72.8h.6M257.2 65.6h.6M244.2 68.0h.6M244.2 67.3h.6M230.2 74.2h.6M262.7 66.6h.6M250.1 65.3h.6M259.3 57.0h.6M235.9 70.1h.6M228.5 70.2h.6M252.2 67.8h.6M241.6 67.3h.6M251.1 68.9h.6M242.0 66.4h.6M256.8 67.6h.6M246.5 68.3h.6M248.7 71.4h.6M253.6 67.0h.6M246.0 71.0h.6M246.0 68.2h.6M260.3 65.4h.6M248.3 66.5h.6M250.7 64.1h.6M254.0 68.0h.6M250.5 68.1h.6M255.0 72.0h.6M266.5 66.2h.6M260.2 71.8h.6M238.6 76.6h.6M230.6 73.2h.6M241.4 67.0h.6M228.9 72.1h.6M226.7 76.4h.6M240.4 70.2h.6M241.9 73.4h.6M250.9 67.0h.6M253.6 67.9h.6M269.0 67.1h.6M243.8 71.7h.6M244.5 70.5h.6M251.6 68.8h.6M259.4 68.1h.6M247.2 68.7h.6M242.3 73.0h.6M225.8 71.7h.6M258.7 75.8h.6M247.6 69.6h.6M262.5 63.1h.6M264.3 60.4h.6M265.5 62.3h.6M253.8 68.8h.6M256.9 65.4h.6M238.5 74.3h.6M253.0 66.6h.6M245.7 66.1h.6M258.3 65.6h.6M244.4 67.9h.6M247.4 68.3h.6M241.5 66.6h.6M265.3 64.6h.6M249.3 62.7h.6M240.8 70.7h.6M245.9 68.8h.6M238.1 70.4h.6M259.4 63.8h.6M260.1 66.0h.6M250.9 68.7h.6M250.9 62.8h.6M237.4 74.0h.6M262.9 65.1h.6M249.3 70.0h.6M268.2 69.1h.6M243.6 65.9h.6M252.9 64.7h.6M256.4 64.0h.6M256.4 67.1h.6M247.8 65.7h.6M258.3 63.9h.6M253.9 72.9h.6M249.5 67.7h.6M240.6 71.6h.6M261.2 69.1h.6M250.6 72.7h.6M252.7 63.4h.6M249.1 69.8h.6M252.9 70.1h.6M246.9 72.5h.6M271.4 61.8h.6M265.0 63.9h.6M255.4 67.8h.6M251.9 68.1h.6M255.1 66.3h.6M241.6 68.3h.6M254.6 67.0h.6M248.4 67.8h.6M245.9 70.0h.6M243.1 67.9h.6M242.9 66.8h.6M253.3 66.3h.6M249.4 67.8h.6M243.2 73.1h.6M252.8 66.6h.6M249.3 62.1h.6M249.9 75.2h.6M262.8 69.4h.6M247.5 70.7h.6M238.1 72.4h.6M250.7 68.4h.6M241.9 75.5h.6M255.8 63.4h.6M254.8 69.7h.6M247.2 71.3h.6M255.2 74.6h.6M245.8 69.0h.6M246.4 73.9h.6M234.2 73.1h.6M230.7 69.5h.6M245.1 66.1h.6M265.3 68.9h.6M238.3 67.3h.6M248.5 67.9h.6M244.7 74.8h.6M253.2 64.8h.6M242.6 71.8h.6M249.6 74.5h.6M253.8 72.4h.6M245.4 71.9h.6M247.6 66.7h.6M248.6 74.4h.6M254.1 69.1h.6M254.7 67.6h.6M255.1 64.0h.6M251.7 61.4h.6M241.0 71.6h.6M245.5 68.0h.6M252.6 62.6h.6M250.3 71.2h.6M256.9 67.8h.6M238.1 69.1h.6M241.4 69.0h.6M242.4 71.8h.6M252.1 69.6h.6M243.3 67.1h.6M242.2 73.0h.6M252.1 67.4h.6M245.1 66.4h.6M239.9 70.2h.6M252.8 68.0h.6M249.1 72.3h.6M253.8 69.8h.6M252.7 61.0h.6M243.4 66.1h.6M247.2 71.5h.6M248.3 69.7h.6M254.4 64.6h.6M248.6 67.2h.6M259.1 71.5h.6M243.0 62.6h.6M250.0 72.3h.6M260.9 69.5h.6M237.0 69.4h.6M238.3 70.1h.6M255.3 68.5h.6M255.6 67.5h.6M257.8 68.1h.6M257.1 70.6h.6M257.6 64.9h.6M245.0 69.5h.6M249.7 69.9h.6M253.7 66.3h.6M239.0 70.7h.6M239.4 75.2h.6M242.9 63.7h.6M257.7 67.7h.6M255.3 65.7h.6M237.6 67.6h.6M244.3 69.0h.6M244.8 70.7h.6M250.3 70.9h.6M250.4 66.0h.6M249.6 70.5h.6M242.3 74.6h.6M258.5 67.2h.6M258.3 68.9h.6M240.7 71.9h.6M248.1 70.9h.6M257.5 64.0h.6M252.9 71.6h.6M253.4 69.2h.6M246.6 74.8h.6M261.7 68.5h.6M239.5 68.0h.6M257.6 70.5h.6M264.9 69.6h.6M243.6 73.1h.6M260.3 65.4h.6M256.0 66.0h.6M244.7 73.8h.6M250.1 66.1h.6M261.7 68.7h.6M245.6 69.9h.6M245.1 67.5h.6M225.0 72.7h.6M235.0 70.1h.6M246.4 70.9h.6M247.7 67.0h.6M254.2 67.4h.6M256.4 66.4h.6M266.0 66.3h.6M255.8 70.4h.6M272.9 59.1h.6M256.0 68.5h.6M260.3 64.2h.6M242.5 69.5h.6M253.1 67.5h.6M258.5 71.5h.6M258.4 71.4h.6M245.5 68.7h.6M248.9 68.0h.6M239.8 75.1h.6M252.6 69.5h.6M241.8 76.0h.6M257.1 64.9h.6M252.3 71.6h.6M255.1 65.9h.6M252.6 59.0h.6M253.7 70.1h.6M255.7 64.4h.6M250.5 70.6h.6M235.6 70.7h.6M260.9 70.0h.6M242.4 65.9h.6M256.2 62.4h.6M254.9 72.1h.6M253.3 71.2h.6M250.9 68.7h.6M250.8 63.4h.6M251.7 70.8h.6M251.1 75.8h.6M248.2 67.8h.6M251.7 66.9h.6M254.0 65.1h.6M246.1 70.7h.6M251.4 68.0h.6M237.2 66.5h.6M242.1 67.9h.6M235.5 74.5h.6M246.4 65.7h.6M252.7 68.6h.6M255.8 70.3h.6M238.5 73.2h.6M255.1 61.9h.6M241.1 72.1h.6M245.2 66.0h.6M243.9 63.5h.6M262.7 66.6h.6M249.8 63.4h.6M266.7 64.1h.6M258.4 70.4h.6M247.6 70.6h.6M252.6 67.4h.6M261.3 68.8h.6M242.2 70.2h.6M245.8 71.7h.6M249.8 71.8h.6M246.1 66.1h.6M248.2 73.8h.6M263.5 65.0h.6M250.7 68.4h.6M246.9 69.6h.6M246.0 68.3h.6M237.8 69.5h.6M256.5 68.6h.6M243.8 67.8h.6M279.4 63.5h.6M253.7 69.8h.6M244.2 67.8h.6M239.0 69.6h.6M245.8 70.8h.6M252.7 67.6h.6M244.9 71.3h.6M254.6 67.1h.6M254.9 66.2h.6M253.9 66.8h.6M253.9 68.4h.6M250.2 71.9h.6M242.8 64.7h.6M238.7 69.2h.6M235.6 70.2h.6M245.1 66.9h.6M254.7 65.9h.6M250.0 71.9h.6M241.3 73.3h.6M256.5 65.1h.6M240.3 65.9h.6M239.8 71.7h.6M241.4 71.6h.6M243.0 66.2h.6M248.7 69.2h.6M239.2 71.9h.6M236.2 73.3h.6M252.6 66.2h.6M251.7 69.5h.6M253.1 67.2h.6M256.0 69.6h.6M249.8 69.1h.6M264.4 67.2h.6M247.5 68.9h.6M248.6 67.8h.6M260.2 66.8h.6M253.1 70.3h.6M247.7 67.7h.6M249.4 69.5h.6M241.0 77.7h.6M254.4 65.4h.6M246.6 65.0h.6M252.3 64.9h.6M260.1 65.3h.6M255.7 67.1h.6M250.1 61.5h.6M251.3 62.0h.6M250.8 70.5h.6M262.4 61.4h.6M233.9 73.8h.6M246.3 72.8h.6M240.6 61.0h.6M253.1 69.3h.6M247.8 68.9h.6M249.9 67.3h.6M265.5 66.2h.6M251.6 67.8h.6M256.8 68.5h.6M247.1 74.5h.6M243.9 70.6h.6M240.2 66.7h.6M262.1 70.0h.6M240.9 73.7h.6M246.3 73.5h.6M268.7 65.5h.6M253.1 70.4h.6M250.9 74.1h.6M247.4 68.7h.6M239.5 68.7h.6M253.4 72.0h.6M257.7 65.7h.6M242.7 73.4h.6M245.0 67.8h.6M262.8 64.2h.6M246.5 70.0h.6M255.8 68.1h.6M267.9 62.3h.6M243.3 74.8h.6M248.5 67.4h.6M242.3 72.2h.6M230.3 69.8h.6M259.9 64.5h.6M254.1 65.8h.6M247.1 69.5h.6M253.3 68.2h.6M244.6 70.2h.6M237.4 71.1h.6M244.7 72.3h.6M243.7 72.5h.6M240.8 69.0h.6M258.3 67.1h.6M242.5 71.4h.6M240.7 72.6h.6M251.2 69.7h.6M253.0 66.8h.6M263.0 64.7h.6M251.6 68.3h.6M238.2 72.4h.6M241.2 67.1h.6M256.6 64.0h.6M243.6 68.6h.6M253.3 68.0h.6M264.5 63.4h.6M236.8 69.9h.6M236.2 68.9h.6M247.9 70.4h.6M247.8 62.9h.6M256.7 67.0h.6M235.4 69.5h.6M254.3 67.6h.6M247.3 69.5h.6M233.2 62.9h.6M247.8 72.2h.6M253.7 69.8h.6M265.2 69.9h.6M244.4 71.9h.6M255.7 69.9h.6M238.4 72.5h.6M259.1 71.3h.6M249.2 64.6h.6M262.4 65.5h.6M237.4 68.3h.6M240.2 73.1h.6M235.1 72.4h.6M265.2 70.1h.6M245.4 69.8h.6M233.8 71.3h.6M242.9 69.4h.6M255.8 64.9h.6M253.3 61.6h.6M252.8 67.7h.6M237.8 69.7h.6M247.5 67.6h.6M231.8 68.8h.6M236.6 71.5h.6M253.6 64.5h.6M256.9 67.8h.6M247.1 68.3h.6M233.7 70.9h.6M240.1 65.7h.6M246.1 70.2h.6M263.1 68.2h.6M243.7 69.3h.6M236.5 69.5h.6M239.5 72.5h.6M242.3 72.4h.6M244.3 68.3h.6M248.7 76.9h.6M266.8 68.6h.6M245.1 74.0h.6M231.3 73.6h.6M258.0 67.9h.6M241.9 67.1h.6M242.5 69.2h.6M244.3 69.8h.6M252.2 70.0h.6M249.9 66.9h.6M252.5 65.3h.6M247.0 72.6h.6M249.7 68.8h.6M240.5 73.3h.6M240.1 70.8h.6M243.5 67.9h.6M245.2 69.3h.6M233.0 64.6h.6M239.4 73.6h.6M259.9 68.0h.6M259.7 69.9h.6M262.7 65.0h.6M260.0 72.2h.6M257.4 70.5h.6M262.7 60.4h.6M253.5 62.3h.6M246.5 69.9h.6M245.8 65.1h.6M251.8 67.5h.6M252.6 67.3h.6M247.7 67.9h.6M247.2 73.5h.6M249.1 70.3h.6M242.8 71.8h.6M268.4 65.2h.6M255.4 76.2h.6M233.0 76.0h.6M256.3 65.0h.6M242.6 71.7h.6M246.9 66.8h.6M249.2 68.0h.6M256.8 66.7h.6M248.1 64.6h.6M250.6 62.6h.6M247.4 65.2h.6M269.4 65.9h.6M247.2 60.5h.6M242.1 71.9h.6M236.9 64.7h.6M248.9 66.2h.6M245.2 67.8h.6M251.3 70.3h.6M253.1 67.7h.6M238.8 67.4h.6M249.6 66.7h.6M243.3 70.5h.6M244.0 72.9h.6M241.4 71.0h.6M247.2 68.6h.6M243.1 69.0h.6M244.3 74.3h.6M245.8 66.8h.6M238.0 69.5h.6M260.8 67.1h.6M255.5 71.1h.6M245.0 64.2h.6M252.5 70.8h.6M242.0 73.6h.6M250.3 69.1h.6M235.1 65.7h.6M248.3 66.5h.6M250.2 67.9h.6M246.3 70.0h.6M254.7 63.5h.6M242.3 69.2h.6M250.8 70.3h.6M253.7 65.9h.6M253.6 66.7h.6M248.8 67.2h.6M262.5 61.3h.6M255.8 66.0h.6M254.7 66.7h.6M243.6 72.0h.6M249.4 66.0h.6M243.9 65.6h.6M266.4 63.4h.6M251.9 65.2h.6M243.2 71.5h.6M256.2 65.3h.6M257.7 61.9h.6M244.8 71.3h.6M250.7 67.9h.6M270.6 64.5h.6M249.9 69.6h.6M253.0 70.9h.6M275.3 60.2h.6M249.6 70.3h.6M239.3 70.8h.6M241.3 70.4h.6M250.4 67.9h.6M255.6 65.7h.6M242.0 70.7h.6M232.0 72.2h.6M254.5 69.4h.6M248.4 73.2h.6M244.4 66.5h.6M242.9 75.8h.6M259.4 69.6h.6M247.1 65.5h.6M238.0 70.5h.6M240.7 70.3h.6M246.1 72.7h.6M236.2 68.3h.6M245.9 74.4h.6M258.3 63.3h.6M256.2 65.9h.6M257.4 64.9h.6M256.8 63.1h.6M249.8 64.9h.6M252.1 66.1h.6M234.3 70.9h.6M255.3 65.3h.6M254.0 64.6h.6M249.7 60.5h.6M251.0 67.3h.6M241.2 75.9h.6M246.2 74.2h.6M236.5 74.7h.6M244.9 68.2h.6M247.4 70.5h.6M243.4 68.1h.6M258.8 65.0h.6M242.2 70.5h.6M252.7 70.9h.6M250.7 66.7h.6M247.3 66.9h.6M254.0 67.4h.6M251.7 63.5h.6M246.6 71.7h.6M261.1 69.1h.6M248.8 72.2h.6M255.0 69.6h.6M240.1 68.6h.6M241.3 69.5h.6M250.2 65.5h.6M269.1 65.2h.6M239.9 77.1h.6M238.5 67.8h.6M243.2 71.8h.6M246.4 73.3h.6M249.2 65.3h.6M259.5 72.8h.6M240.9 76.1h.6M247.6 78.2h.6M251.3 68.0h.6M256.7 66.4h.6M257.2 75.9h.6M245.1 74.2h.6M237.5 59.7h.6M221.8 74.5h.6M240.9 67.7h.6M260.0 64.6h.6M238.7 72.2h.6M253.2 66.5h.6M254.2 66.6h.6M250.7 78.2h.6M239.6 64.3h.6M241.2 71.8h.6M247.0 72.5h.6M226.9 67.8h.6M261.0 61.9h.6M234.8 67.5h.6M241.0 74.9h.6M239.4 66.7h.6M244.3 72.6h.6M250.0 64.0h.6M258.8 61.8h.6M249.8 71.2h.6M264.6 69.7h.6M241.9 65.0h.6M253.6 64.0h.6M255.8 69.1h.6M247.8 65.4h.6M253.2 63.4h.6M235.2 67.6h.6M261.6 68.0h.6M253.5 56.9h.6M250.4 76.8h.6M244.7 77.3h.6M257.3 73.1h.6M235.2 71.4h.6M254.4 65.2h.6M257.6 69.9h.6M273.0 59.4h.6M248.1 79.0h.6M261.2 64.1h.6M254.9 73.3h.6M230.6 76.8h.6M232.9 70.8h.6M241.2 70.0h.6M258.9 63.6h.6M262.8 66.8h.6M245.0 72.8h.6M251.8 68.8h.6M249.2 67.8h.6M260.0 72.5h.6M263.1 70.3h.6M223.6 77.0h.6M236.5 69.3h.6M245.8 68.0h.6M246.7 72.0h.6M258.1 65.7h.6M259.1 64.2h.6M242.4 76.8h.6M254.5 68.7h.6M240.4 72.2h.6M243.3 68.0h.6M249.9 70.4h.6M253.7 71.9h.6M240.6 72.3h.6M266.3 59.1h.6M248.9 67.2h.6M247.7 72.0h.6M255.6 68.9h.6M241.2 75.4h.6M250.2 67.7h.6M229.5 77.5h.6M243.1 70.3h.6M242.8 74.4h.6M241.7 63.1h.6M239.3 67.1h.6M254.2 72.2h.6M260.9 70.3h.6M242.3 74.0h.6M259.1 71.2h.6M252.0 72.7h.6M233.1 67.7h.6M234.0 79.5h.6M248.4 73.2h.6M257.6 62.2h.6M236.0 66.2h.6M225.0 76.1h.6M256.9 64.5h.6M260.0 69.1h.6M244.4 68.9h.6M257.5 60.8h.6M268.2 61.4h.6M237.7 69.9h.6M243.0 70.4h.6M243.8 73.8h.6M258.2 64.3h.6M238.4 73.5h.6M243.5 69.3h.6M260.7 66.1h.6M256.0 57.5h.6M258.1 65.0h.6M236.0 65.6h.6M252.6 71.4h.6M242.0 75.5h.6M257.5 69.3h.6M254.5 77.1h.6M255.1 69.0h.6M246.2 73.5h.6M248.6 67.8h.6M251.7 70.2h.6M244.1 65.7h.6M250.5 67.5h.6M237.9 76.1h.6M234.7 72.2h.6M228.7 72.0h.6M245.6 69.4h.6M256.8 69.7h.6M253.2 74.3h.6M224.8 67.7h.6M251.6 68.5h.6M247.7 68.9h.6M245.4 68.9h.6M249.8 68.9h.6M254.0 70.4h.6M263.0 71.4h.6M259.1 59.4h.6M266.7 60.1h.6M253.8 68.6h.6M239.8 64.7h.6M262.0 68.4h.6M233.8 68.6h.6M256.2 67.0h.6M235.5 66.8h.6M240.5 66.9h.6M262.9 78.2h.6M240.6 69.4h.6M260.1 73.1h.6M254.2 67.8h.6M246.6 72.4h.6M254.7 64.3h.6M254.4 70.1h.6M248.6 66.8h.6M238.2 58.7h.6M254.0 56.3h.6M243.9 69.6h.6M247.5 72.3h.6M251.5 65.0h.6M245.5 65.0h.6M249.7 66.3h.6M252.2 75.7h.6M248.8 60.9h.6M249.5 71.8h.6M263.2 71.1h.6M241.2 64.6h.6M242.1 66.3h.6M233.9 70.4h.6M222.2 71.7h.6M255.4 71.9h.6M252.6 68.6h.6M262.2 63.8h.6M232.5 74.1h.6M240.5 76.2h.6M241.1 69.0h.6M267.3 61.4h.6M258.1 71.2h.6M247.2 77.1h.6M248.6 76.1h.6M251.5 72.1h.6M235.4 71.2h.6M251.8 72.2h.6M236.6 74.3h.6M249.0 72.0h.6M254.6 67.9h.6M251.3 73.4h.6M240.8 74.9h.6M243.2 64.9h.6M256.4 70.9h.6M241.1 66.6h.6M233.2 73.2h.6M244.3 69.7h.6M242.3 72.9h.6M244.7 68.1h.6M246.9 68.2h.6M243.1 68.4h.6M243.1 68.5h.6M255.5 61.7h.6M253.8 70.7h.6M256.7 65.2h.6M248.3 71.1h.6M243.1 70.6h.6M250.7 70.9h.6M232.3 75.6h.6M234.0 66.8h.6M255.8 67.5h.6M242.1 71.8h.6M239.4 68.4h.6M235.0 69.5h.6M252.0 70.5h.6M235.6 78.0h.6M260.3 69.5h.6M249.7 72.4h.6M228.8 75.2h.6M243.3 79.2h.6M236.3 72.4h.6M253.5 72.6h.6M255.5 83.1h.6M242.1 72.6h.6M240.1 71.3h.6M250.1 62.4h.6M238.8 64.5h.6M262.8 76.1h.6M240.0 71.7h.6M249.7 65.3h.6M225.6 72.3h.6M249.8 64.4h.6M240.3 71.3h.6M249.0 66.6h.6M259.0 70.0h.6M246.3 76.8h.6M225.2 74.8h.6M247.6 70.0h.6M238.5 77.9h.6M233.3 67.0h.6M256.5 63.7h.6M243.7 68.2h.6M255.3 62.9h.6M256.7 70.2h.6M242.1 69.3h.6M247.0 65.7h.6M234.6 75.1h.6M250.6 68.8h.6M246.5 71.9h.6M263.0 66.5h.6M254.8 66.0h.6M243.7 65.9h.6M239.6 73.6h.6M243.2 66.7h.6M247.3 74.5h.6M254.5 69.5h.6M257.0 67.7h.6M232.9 69.4h.6M236.8 79.5h.6M249.6 68.3h.6M234.1 75.2h.6M244.7 67.6h.6M228.6 79.1h.6M243.2 72.7h.6M242.4 75.6h.6M243.6 74.4h.6M239.3 71.1h.6M250.5 65.4h.6M255.6 68.5h.6M253.3 65.9h.6M243.0 69.3h.6M244.5 78.2h.6M240.1 75.7h.6M238.9 73.3h.6M245.1 73.5h.6M245.2 74.6h.6M244.2 71.8h.6M248.7 69.6h.6M255.3 69.1h.6M240.0 73.9h.6M245.7 79.7h.6M251.0 64.4h.6M248.5 70.3h.6M237.5 70.0h.6M236.2 83.2h.6M252.7 66.9h.6M236.4 78.2h.6M251.2 72.2h.6M236.4 74.8h.6M265.7 71.2h.6M235.8 74.7h.6M265.2 65.3h.6M256.1 76.9h.6M260.0 62.5h.6M257.8 59.9h.6M251.5 66.1h.6M244.2 74.1h.6M271.7 62.2h.6M242.6 71.8h.6M249.6 74.0h.6M233.4 76.4h.6M247.1 72.3h.6M254.0 73.9h.6M239.6 72.3h.6M249.3 74.8h.6M244.1 72.1h.6M244.7 77.8h.6M254.4 73.9h.6M256.1 69.0h.6M240.3 77.2h.6M229.8 78.4h.6M252.6 73.2h.6M235.9 74.6h.6M241.2 66.9h.6M237.9 70.5h.6M258.2 72.4h.6M270.9 71.4h.6M239.5 65.6h.6M268.8 62.1h.6M246.8 61.7h.6M242.3 65.9h.6M282.3 45.6h.6M277.8 41.7h.6M282.9 52.3h.6M285.3 48.8h.6M274.6 43.7h.6M280.8 46.3h.6M282.2 51.8h.6M281.4 42.5h.6M283.8 46.3h.6M284.0 45.1h.6M282.0 44.1h.6M277.5 46.3h.6M282.9 36.7h.6M287.7 48.8h.6M276.8 44.2h.6M280.2 46.2h.6M280.8 39.5h.6M280.7 55.4h.6M281.6 47.9h.6M280.3 37.3h.6M283.6 42.5h.6M279.3 44.3h.6M279.5 41.5h.6M285.7 39.0h.6M283.1 39.5h.6M278.6 42.1h.6M276.8 46.7h.6M280.5 46.5h.6M282.9 50.6h.6M279.6 44.9h.6M274.8 36.7h.6M276.4 45.4h.6M278.9 50.3h.6M279.7 40.5h.6M281.3 46.1h.6M284.0 46.3h.6M277.4 41.5h.6M277.5 45.0h.6M274.2 42.0h.6M277.8 52.0h.6M279.8 48.3h.6M279.2 45.8h.6M279.9 48.5h.6M281.1 48.2h.6M278.4 42.1h.6M274.8 40.6h.6M279.8 39.4h.6M280.4 40.0h.6M278.1 49.3h.6M291.0 48.6h.6M273.1 53.0h.6M274.5 40.6h.6M278.2 45.7h.6M278.9 50.9h.6M278.1 53.4h.6M280.6 44.0h.6M283.3 43.5h.6M281.5 43.7h.6M281.0 47.2h.6M285.4 48.2h.6M275.8 50.3h.6M279.1 43.7h.6M281.1 51.6h.6M278.4 41.5h.6M279.9 48.2h.6M280.1 51.3h.6M278.6 50.5h.6M276.5 47.9h.6M276.3 44.5h.6M278.9 45.4h.6M280.8 42.4h.6M281.2 42.5h.6M281.7 41.1h.6M272.9 51.3h.6M276.3 41.1h.6M275.8 43.2h.6M280.6 51.2h.6M280.1 47.2h.6M279.6 53.0h.6M283.9 51.7h.6M278.6 47.7h.6M280.9 50.2h.6M280.9 40.8h.6M281.5 46.5h.6M279.9 53.2h.6M284.5 47.1h.6M282.3 46.7h.6M284.5 56.7h.6M281.1 49.1h.6M279.7 39.7h.6M278.1 51.0h.6M272.3 36.2h.6M276.6 48.4h.6M275.2 48.1h.6M279.5 43.9h.6M274.8 43.2h.6M278.0 44.3h.6M278.5 57.6h.6M279.2 41.2h.6M278.8 42.5h.6M284.1 44.4h.6M282.5 43.8h.6M285.8 52.3h.6M280.4 47.2h.6M274.1 46.0h.6M283.4 48.5h.6M286.2 46.3h.6M278.5 45.3h.6M284.2 44.0h.6M279.3 45.3h.6M280.2 45.2h.6M279.3 44.2h.6M277.9 45.9h.6M279.2 51.4h.6M273.7 41.4h.6M280.6 47.4h.6M280.8 48.9h.6M282.1 45.2h.6M279.7 45.8h.6M281.9 50.4h.6M286.7 43.1h.6M283.4 47.9h.6M279.8 48.2h.6M280.8 46.6h.6M280.1 46.8h.6M284.5 48.8h.6M279.2 52.2h.6M282.6 41.0h.6M281.8 50.0h.6M271.2 44.2h.6M280.8 42.0h.6M278.2 46.9h.6M277.1 47.1h.6M278.8 38.7h.6M281.8 52.5h.6M287.4 42.9h.6M280.5 48.7h.6M277.4 47.9h.6M279.9 48.5h.6M281.4 46.0h.6M277.1 47.6h.6M279.2 46.3h.6M274.6 45.2h.6M276.6 51.1h.6M278.6 46.7h.6M282.4 47.0h.6M276.7 43.9h.6M276.8 43.6h.6M279.7 46.6h.6M275.9 40.5h.6M279.0 52.1h.6M276.8 44.7h.6M285.1 43.8h.6M278.1 44.0h.6M284.3 45.8h.6M280.6 48.0h.6M285.9 48.0h.6M276.4 43.5h.6M279.8 41.2h.6M272.2 46.4h.6M283.9 44.7h.6M281.4 42.5h.6M279.4 51.1h.6M285.7 40.7h.6M288.4 40.9h.6M285.2 49.0h.6M284.7 43.5h.6M279.9 45.0h.6M276.8 42.6h.6M274.4 41.3h.6M282.8 42.3h.6M272.9 39.6h.6M279.7 48.8h.6M285.5 46.2h.6M282.1 53.4h.6M275.8 46.0h.6M276.8 43.9h.6M284.5 49.3h.6M276.2 44.1h.6M279.0 50.1h.6M275.1 44.3h.6M278.6 38.3h.6M277.7 44.6h.6M282.9 44.0h.6M277.0 48.3h.6M278.2 44.1h.6M272.5 47.8h.6M284.1 46.1h.6M283.2 41.6h.6M278.3 41.3h.6M279.9 42.6h.6M280.3 38.8h.6M283.3 45.5h.6M275.0 49.0h.6M276.8 44.8h.6M286.7 42.0h.6M282.9 40.3h.6M282.1 48.0h.6M280.6 50.0h.6M281.3 36.4h.6M283.9 53.6h.6M283.5 51.5h.6M276.2 43.9h.6M279.9 45.6h.6M281.2 46.1h.6M281.1 47.1h.6M276.4 44.6h.6M279.4 47.4h.6M277.1 48.7h.6M279.9 55.8h.6M280.5 45.2h.6M281.3 42.7h.6M282.3 49.4h.6M283.1 45.1h.6M280.5 46.2h.6M275.9 46.6h.6M279.9 44.1h.6M278.2 44.0h.6M274.2 44.4h.6M277.4 42.8h.6M280.9 43.7h.6M284.2 52.6h.6M279.5 45.4h.6M275.0 43.1h.6M279.1 41.6h.6M278.2 50.8h.6M283.5 42.6h.6M276.0 46.8h.6M281.6 38.2h.6M277.9 37.3h.6M281.2 46.4h.6M276.6 39.1h.6M281.6 46.2h.6M280.3 49.1h.6M278.8 42.3h.6M276.1 44.0h.6M277.8 44.0h.6M273.4 43.5h.6M281.3 43.7h.6M278.7 43.9h.6M284.5 44.0h.6M275.1 46.4h.6M285.2 46.9h.6M281.6 47.2h.6M278.4 46.0h.6M281.0 42.2h.6M276.1 48.1h.6M275.9 49.3h.6M283.8 45.6h.6M273.3 44.9h.6M281.1 54.1h.6M282.9 36.0h.6M280.6 48.0h.6M284.2 45.8h.6M280.0 51.7h.6M278.8 53.2h.6M284.0 47.6h.6M282.4 43.4h.6M279.9 47.9h.6M283.6 40.3h.6M276.3 46.4h.6M282.8 42.1h.6M278.9 47.7h.6M279.6 38.5h.6M280.0 44.2h.6M280.6 46.3h.6M281.5 44.4h.6M284.2 43.6h.6M284.0 42.0h.6M280.1 44.6h.6M286.9 51.0h.6M269.0 46.4h.6M264.1 46.4h.6M273.7 55.8h.6M271.8 48.5h.6M275.6 43.8h.6M273.1 48.8h.6M274.4 41.8h.6M275.7 38.3h.6M275.5 56.6h.6M279.7 52.6h.6M279.5 56.6h.6M282.5 50.2h.6M281.2 49.5h.6M280.9 52.7h.6M271.8 54.2h.6M276.6 53.6h.6M276.4 51.3h.6M267.9 41.1h.6M276.5 55.8h.6M285.5 59.4h.6M285.5 57.8h.6M277.9 49.7h.6M275.8 56.2h.6M276.8 54.3h.6M279.9 64.3h.6M281.4 62.5h.6M276.9 46.1h.6M273.5 48.9h.6M274.9 50.3h.6M279.4 45.4h.6M281.5 61.4h.6M269.7 42.6h.6M267.0 51.5h.6M275.4 42.0h.6M274.0 49.3h.6M283.2 52.3h.6M276.2 44.1h.6M280.6 56.0h.6M286.5 58.1h.6M272.4 57.7h.6M280.3 59.6h.6M268.9 57.3h.6M282.9 50.4h.6M278.8 48.6h.6M287.8 52.6h.6M284.3 49.0h.6M286.6 49.9h.6M280.5 57.0h.6M275.8 62.0h.6M272.0 48.6h.6M287.1 46.2h.6M276.9 46.6h.6M280.7 46.0h.6M280.7 49.3h.6M282.4 52.8h.6M276.2 52.9h.6M272.1 54.6h.6M286.5 55.3h.6M275.8 57.3h.6M275.6 36.0h.6M281.5 52.0h.6M278.5 47.4h.6M280.4 55.1h.6M273.9 61.5h.6M280.9 63.1h.6M280.0 47.0h.6M276.1 60.5h.6M272.0 55.2h.6M280.9 43.6h.6M262.8 51.5h.6M278.4 53.6h.6M285.0 57.8h.6M284.8 44.2h.6M286.3 53.5h.6M279.8 50.9h.6M273.9 61.9h.6M275.9 52.1h.6M272.9 60.5h.6M274.6 46.2h.6M275.0 60.3h.6M289.4 57.7h.6M284.7 55.1h.6M273.3 51.2h.6M271.7 41.4h.6M279.4 52.2h.6M273.5 46.1h.6M277.2 51.4h.6M284.7 54.3h.6M268.7 40.7h.6M275.1 52.0h.6M278.5 49.9h.6M277.8 57.9h.6M284.3 49.8h.6M288.0 57.4h.6M271.1 61.2h.6M279.4 56.4h.6M268.9 42.6h.6M277.4 52.2h.6M278.4 48.8h.6M282.9 47.2h.6M288.0 52.0h.6M264.8 52.7h.6M270.8 36.4h.6M277.5 67.4h.6M281.3 47.6h.6M277.9 48.6h.6M280.3 61.7h.6M279.0 57.6h.6M276.5 54.7h.6M284.0 49.4h.6M278.4 57.6h.6M272.3 49.0h.6M279.9 51.3h.6M292.9 56.6h.6M277.7 56.9h.6M280.2 52.7h.6M283.0 64.5h.6M283.0 49.9h.6M279.8 64.2h.6M280.8 52.5h.6M278.6 49.8h.6M277.9 55.5h.6M283.8 49.8h.6M279.8 39.1h.6M286.4 62.3h.6M281.4 53.7h.6M287.7 62.3h.6M279.7 44.6h.6M279.7 47.6h.6M273.1 45.9h.6M276.9 51.7h.6M277.4 58.0h.6M285.4 63.4h.6M276.1 50.0h.6M283.4 44.9h.6M285.5 54.1h.6M271.3 62.1h.6M273.0 50.8h.6M281.0 45.8h.6M279.8 45.1h.6M275.6 64.3h.6M275.0 49.8h.6M282.9 45.2h.6M279.7 60.4h.6M273.8 50.8h.6M282.5 57.0h.6M267.8 48.8h.6M279.5 45.4h.6M284.3 58.4h.6M281.1 54.5h.6M271.3 50.1h.6M277.3 42.9h.6M269.6 45.4h.6M275.9 56.6h.6M276.0 51.5h.6M273.6 58.2h.6M275.1 53.8h.6M298.6 58.0h.6M279.6 61.1h.6M267.7 47.8h.6M278.8 53.4h.6M273.9 45.0h.6M280.3 51.9h.6M277.5 49.9h.6M271.8 59.1h.6M274.4 52.1h.6M260.0 49.5h.6M283.1 52.7h.6M271.8 41.7h.6M269.0 63.1h.6M272.5 66.2h.6M275.0 63.6h.6M265.8 61.1h.6M275.5 66.2h.6M273.8 62.7h.6M281.1 59.9h.6M268.7 61.2h.6M274.7 62.6h.6M269.0 53.4h.6M273.8 64.2h.6M269.9 57.2h.6M275.3 58.9h.6M267.5 59.6h.6M262.5 67.4h.6M270.5 61.0h.6M268.7 55.2h.6M273.2 59.2h.6M275.3 61.8h.6M275.1 57.3h.6M274.5 63.5h.6M275.5 68.8h.6M268.2 63.3h.6M270.9 67.7h.6M274.7 58.2h.6M266.4 58.0h.6M270.9 64.6h.6M272.6 52.4h.6M267.3 63.6h.6M279.9 65.1h.6M266.3 60.5h.6M266.6 57.9h.6M268.6 60.3h.6M273.5 60.5h.6M272.3 63.7h.6M272.5 55.9h.6M267.6 59.7h.6M278.5 57.2h.6M269.8 60.9h.6M268.3 68.0h.6M266.0 60.0h.6M272.0 67.0h.6M272.7 60.3h.6M266.8 63.5h.6M270.4 52.0h.6M267.5 61.5h.6M269.3 61.1h.6M277.4 61.0h.6M265.0 66.1h.6M275.0 51.5h.6M264.8 58.0h.6M267.5 67.9h.6M272.7 52.6h.6M275.1 66.2h.6M266.3 65.6h.6M271.7 56.9h.6M273.9 53.3h.6M279.8 60.3h.6M272.6 58.1h.6M268.5 63.2h.6M264.1 55.1h.6M274.1 58.4h.6M269.8 55.7h.6M264.2 53.7h.6M275.0 55.5h.6M266.8 63.0h.6M272.9 51.9h.6M275.2 71.8h.6M266.4 57.7h.6M268.4 57.5h.6M274.3 58.8h.6M275.7 57.9h.6M267.0 65.0h.6M267.5 61.6h.6M273.0 66.7h.6M268.5 57.8h.6M263.6 56.3h.6M264.9 59.6h.6M275.4 55.6h.6M273.5 58.4h.6M276.5 66.3h.6M273.7 57.3h.6M269.2 59.2h.6M264.8 62.4h.6M263.0 62.3h.6M274.9 60.7h.6M267.7 56.4h.6M274.5 64.6h.6M265.4 59.7h.6M269.8 57.5h.6" stroke="#222" stroke-width="0.6" fill="none" opacity="0.75"/>
<path d="M223.2 105.4v1.3M225.3 105.4v1.3M227.0 105.4v1.3M228.5 105.4v1.3M229.9 105.4v2.2M238.9 105.4v1.3M244.2 105.4v1.3M248.0 105.4v1.3M250.9 105.4v1.3M253.2 105.4v1.3M255.3 105.4v1.3M257.0 105.4v1.3M258.5 105.4v1.3M259.9 105.4v2.2M268.9 105.4v1.3M274.2 105.4v1.3M278.0 105.4v1.3M280.9 105.4v1.3M283.2 105.4v1.3M285.3 105.4v1.3M287.0 105.4v1.3M288.5 105.4v1.3M289.9 105.4v2.2M298.9 105.4v1.3M304.2 105.4v1.3M308.0 105.4v1.3" stroke="#222" stroke-width="0.8" fill="none"/>
<path d="M229.3 106.7h1.6" stroke="#333" stroke-width="1.6" fill="none"/>
<path d="M219.9 103.1h-1.2M219.9 101.0h-1.2M219.9 99.3h-1.2M219.9 97.8h-1.2M219.9 96.4h-2.2M219.9 87.4h-1.2M219.9 82.1h-1.2M219.9 78.3h-1.2M219.9 75.4h-1.2M219.9 73.1h-1.2M219.9 71.0h-1.2M219.9 69.3h-1.2M219.9 67.8h-1.2M219.9 66.4h-2.2M219.9 57.4h-1.2M219.9 52.1h-1.2M219.9 48.3h-1.2M219.9 45.4h-1.2M219.9 43.1h-1.2M219.9 41.0h-1.2M219.9 39.3h-1.2M219.9 37.8h-1.2M219.9 36.4h-2.2M219.9 27.4h-1.2M219.9 22.1h-1.2" stroke="#555" stroke-width="0.6" fill="none"/>
<rect x="219.9" y="18.9" width="91.1" height="86.5" fill="none" stroke="#8a8a8a" stroke-width="0.8"/>
<path d="M268.7 18.9L268.7 105.4" stroke="#2a2a2a" stroke-width="1.1" fill="none"/>
<path d="M219.9 60.2L311.0 60.2" stroke="#2a2a2a" stroke-width="1.1" fill="none"/>
<text x="250.9" y="15.2" font-size="15.6" stroke="#000" stroke-width="0.1" textLength="32.6" lengthAdjust="spacingAndGlyphs">PID1</text>
<text x="224.4" y="47.5" font-size="11.3" stroke="#000" stroke-width="0.2" textLength="27.2" lengthAdjust="spacingAndGlyphs">1.8%</text>
<text x="272.4" y="30.8" font-size="12.0" font-weight="bold" textLength="34.1" lengthAdjust="spacingAndGlyphs">26.4%</text>
<text x="272.4" y="100.8" font-size="11.3" stroke="#000" stroke-width="0.2" textLength="35.0" lengthAdjust="spacingAndGlyphs">12.5%</text>
<path d="M343.1 73.8h.6M330.1 79.5h.6M343.5 72.7h.6M342.3 73.1h.6M352.6 67.7h.6M347.4 67.7h.6M323.4 79.3h.6M345.3 71.7h.6M333.8 72.7h.6M333.3 69.8h.6M334.0 68.1h.6M358.5 68.5h.6M338.8 73.4h.6M341.7 69.9h.6M349.0 68.3h.6M355.2 61.7h.6M338.0 68.4h.6M342.1 66.5h.6M344.2 71.0h.6M342.2 69.1h.6M339.9 70.3h.6M332.0 69.8h.6M337.5 71.1h.6M333.9 66.3h.6M335.0 77.3h.6M337.3 71.0h.6M341.5 71.5h.6M336.5 72.6h.6M337.7 68.0h.6M349.9 72.3h.6M347.6 68.9h.6M333.7 71.4h.6M327.9 76.7h.6M361.2 62.0h.6M340.5 72.3h.6M357.1 71.8h.6M340.8 68.5h.6M356.1 67.8h.6M344.1 64.9h.6M341.2 70.8h.6M337.3 71.9h.6M339.0 65.2h.6M335.6 76.7h.6M345.6 75.6h.6M339.8 64.2h.6M346.2 70.2h.6M345.6 67.5h.6M332.7 71.3h.6M344.4 70.5h.6M341.9 70.0h.6M350.0 67.1h.6M355.0 67.5h.6M338.1 69.5h.6M324.9 74.8h.6M340.7 67.9h.6M341.8 72.7h.6M335.2 78.1h.6M344.8 69.2h.6M339.4 69.4h.6M347.8 72.8h.6M330.0 66.3h.6M343.5 68.8h.6M339.0 66.8h.6M339.3 68.6h.6M348.4 64.6h.6M336.4 70.2h.6M339.2 74.4h.6M346.9 65.7h.6M329.2 72.2h.6M347.8 72.0h.6M336.1 72.9h.6M323.7 76.7h.6M352.6 66.6h.6M354.1 65.0h.6M341.8 68.2h.6M332.9 70.7h.6M326.1 69.3h.6M342.0 61.9h.6M353.0 65.2h.6M329.4 73.5h.6M340.4 68.2h.6M354.5 70.1h.6M348.4 71.8h.6M339.8 70.4h.6M357.3 64.7h.6M331.2 73.7h.6M344.9 67.2h.6M349.4 67.0h.6M329.6 69.9h.6M336.7 68.8h.6M338.2 72.4h.6M363.0 63.0h.6M341.0 71.5h.6M340.3 70.0h.6M336.8 71.1h.6M362.1 65.7h.6M355.6 59.0h.6M333.9 70.2h.6M335.4 72.2h.6M347.2 73.1h.6M343.3 71.0h.6M346.3 76.9h.6M336.5 75.3h.6M326.9 73.9h.6M341.6 65.5h.6M333.5 70.8h.6M362.1 63.9h.6M343.0 69.7h.6M343.9 70.4h.6M343.9 64.8h.6M336.9 72.6h.6M342.9 68.5h.6M332.2 69.9h.6M340.6 65.7h.6M345.5 69.4h.6M341.4 68.1h.6M317.4 68.3h.6M346.2 68.8h.6M335.1 70.6h.6M348.0 62.6h.6M342.7 71.5h.6M341.2 68.9h.6M345.7 69.9h.6M335.4 67.1h.6M341.5 67.9h.6M339.0 71.5h.6M346.5 70.6h.6M348.3 65.7h.6M333.0 63.1h.6M338.2 71.2h.6M335.0 70.5h.6M357.1 70.3h.6M334.6 68.0h.6M341.3 71.2h.6M338.6 65.5h.6M334.4 72.4h.6M345.7 67.4h.6M339.5 70.8h.6M349.9 67.3h.6M334.1 70.9h.6M345.5 73.8h.6M360.2 68.8h.6M348.8 67.8h.6M340.8 66.8h.6M348.3 65.2h.6M332.8 75.3h.6M345.6 68.7h.6M344.1 66.6h.6M345.3 66.5h.6M347.0 72.7h.6M347.5 68.5h.6M336.2 68.1h.6M338.7 75.3h.6M333.7 72.8h.6M344.5 64.3h.6M326.4 69.3h.6M341.0 70.8h.6M334.5 68.9h.6M342.8 67.9h.6M360.7 70.8h.6M338.8 76.8h.6M351.6 73.1h.6M353.0 68.4h.6M332.8 72.7h.6M339.4 66.5h.6M342.6 65.5h.6M335.0 71.6h.6M338.3 71.0h.6M340.6 73.1h.6M343.5 71.9h.6M337.8 72.2h.6M351.1 69.4h.6M346.2 69.4h.6M342.0 73.9h.6M343.1 65.7h.6M329.7 79.2h.6M330.3 74.5h.6M330.0 68.2h.6M343.4 70.2h.6M354.6 72.2h.6M337.3 68.8h.6M333.0 73.6h.6M334.1 71.3h.6M344.3 73.9h.6M331.5 73.0h.6M334.1 69.5h.6M347.1 69.9h.6M351.5 68.8h.6M342.5 69.9h.6M340.9 68.1h.6M337.9 66.0h.6M345.9 68.5h.6M317.4 70.4h.6M342.4 66.7h.6M343.1 69.6h.6M339.7 73.7h.6M339.4 73.2h.6M343.3 63.5h.6M338.5 73.7h.6M344.8 62.1h.6M335.5 71.9h.6M344.7 69.3h.6M349.2 70.7h.6M333.6 72.3h.6M350.1 71.1h.6M344.1 67.1h.6M343.6 68.8h.6M352.4 69.9h.6M344.5 67.2h.6M334.2 69.8h.6M346.5 68.7h.6M349.2 62.7h.6M338.6 69.7h.6M338.8 67.1h.6M340.6 74.8h.6M338.8 74.5h.6M335.8 73.5h.6M349.1 75.1h.6M350.2 68.3h.6M331.1 71.1h.6M340.7 71.1h.6M339.4 71.3h.6M347.0 67.4h.6M350.2 68.8h.6M343.8 65.2h.6M350.0 64.4h.6M349.0 68.8h.6M345.8 64.6h.6M346.5 72.2h.6M350.4 68.9h.6M337.1 68.9h.6M333.9 75.3h.6M348.5 68.8h.6M350.2 73.0h.6M354.3 65.9h.6M340.7 68.2h.6M333.2 73.3h.6M344.0 65.8h.6M353.7 70.1h.6M337.5 72.0h.6M338.1 59.9h.6M337.4 70.6h.6M330.1 73.2h.6M350.1 63.5h.6M338.2 69.5h.6M353.9 65.5h.6M337.0 64.3h.6M328.4 73.8h.6M334.4 71.3h.6M333.6 69.4h.6M335.8 69.7h.6M339.8 70.2h.6M339.5 73.7h.6M354.6 67.9h.6M324.0 73.2h.6M333.4 70.5h.6M342.0 67.9h.6M348.0 71.2h.6M342.6 70.6h.6M340.9 68.1h.6M346.7 72.8h.6M340.7 72.5h.6M338.6 67.6h.6M344.8 70.6h.6M330.4 73.1h.6M341.9 70.9h.6M335.9 73.4h.6M343.2 68.2h.6M339.6 68.5h.6M350.3 63.9h.6M345.9 69.6h.6M343.7 68.9h.6M334.0 65.9h.6M345.8 68.8h.6M325.2 75.0h.6M348.4 68.5h.6M347.8 67.2h.6M343.5 71.6h.6M346.2 66.7h.6M329.6 67.8h.6M338.8 75.3h.6M333.5 67.0h.6M346.2 69.5h.6M347.3 74.1h.6M353.3 65.2h.6M334.4 75.5h.6M334.5 70.8h.6M344.6 68.1h.6M335.4 65.5h.6M336.9 73.1h.6M345.8 66.6h.6M342.1 72.1h.6M336.4 68.1h.6M350.0 68.0h.6M340.8 70.4h.6M331.7 76.6h.6M340.5 72.7h.6M340.6 66.2h.6M336.9 74.0h.6M349.3 67.4h.6M343.1 67.1h.6M346.5 67.0h.6M349.1 71.0h.6M338.3 65.3h.6M339.5 68.6h.6M341.6 66.1h.6M338.8 70.4h.6M352.5 66.0h.6M334.2 67.7h.6M331.4 71.4h.6M345.9 67.9h.6M340.1 68.9h.6M331.1 72.6h.6M348.3 71.8h.6M347.7 68.1h.6M335.4 71.3h.6M333.4 73.7h.6M347.9 67.3h.6M347.2 67.5h.6M347.5 66.2h.6M339.1 68.0h.6M348.0 65.6h.6M354.9 66.8h.6M345.9 60.8h.6M347.0 66.6h.6M351.1 67.7h.6M346.8 71.6h.6M343.5 73.8h.6M343.8 63.9h.6M349.1 65.4h.6M344.6 68.3h.6M346.2 62.6h.6M338.8 67.8h.6M341.7 69.9h.6M330.8 71.3h.6M347.6 61.9h.6M345.5 70.8h.6M333.7 68.4h.6M345.7 68.5h.6M334.9 65.6h.6M346.1 68.1h.6M357.5 68.3h.6M344.0 71.9h.6M337.3 73.4h.6M339.1 71.7h.6M343.4 66.1h.6M337.8 65.8h.6M348.2 72.4h.6M326.7 69.0h.6M351.9 63.9h.6M341.4 71.9h.6M341.7 69.7h.6M352.8 70.9h.6M349.0 66.2h.6M329.1 76.1h.6M333.5 80.9h.6M348.1 65.9h.6M338.8 70.0h.6M334.4 69.5h.6M347.6 67.4h.6M340.4 68.3h.6M345.3 71.0h.6M336.1 73.9h.6M338.3 71.1h.6M340.8 72.4h.6M342.9 66.0h.6M349.7 69.0h.6M328.9 70.9h.6M336.2 74.4h.6M336.1 72.1h.6M340.9 63.5h.6M335.9 70.9h.6M341.0 65.5h.6M349.7 66.6h.6M343.3 72.5h.6M352.3 73.5h.6M341.7 71.1h.6M328.1 74.5h.6M341.6 71.3h.6M343.5 68.4h.6M335.1 65.1h.6M341.0 72.5h.6M351.3 67.9h.6M345.0 68.8h.6M333.5 72.7h.6M332.2 73.5h.6M346.5 68.8h.6M346.7 71.7h.6M332.3 71.8h.6M340.8 73.5h.6M341.8 68.5h.6M348.7 66.6h.6M346.9 64.9h.6M358.7 62.7h.6M334.4 63.3h.6M326.9 69.2h.6M340.5 69.0h.6M349.9 70.5h.6M332.3 69.1h.6M333.2 70.6h.6M343.1 68.6h.6M341.7 69.4h.6M349.9 61.2h.6M337.4 68.9h.6M363.2 71.1h.6M349.0 70.8h.6M347.9 65.9h.6M331.7 72.7h.6M345.9 71.7h.6M355.4 65.5h.6M340.0 71.9h.6M355.4 66.7h.6M347.1 65.6h.6M351.0 67.5h.6M344.0 65.2h.6M349.4 67.4h.6M328.4 74.0h.6M340.1 68.2h.6M338.4 71.9h.6M342.5 70.2h.6M338.4 70.6h.6M331.7 70.6h.6M344.0 66.4h.6M344.1 69.5h.6M341.5 70.1h.6M349.5 70.8h.6M337.3 64.8h.6M348.9 68.7h.6M347.2 67.2h.6M334.4 70.0h.6M346.9 64.3h.6M341.1 77.0h.6M344.8 71.1h.6M338.5 70.5h.6M352.0 68.6h.6M344.0 63.9h.6M321.1 74.3h.6M334.4 72.1h.6M331.8 72.0h.6M338.3 66.0h.6M346.5 67.2h.6M343.3 74.6h.6M328.9 75.9h.6M325.5 75.0h.6M341.9 71.5h.6M341.2 78.2h.6M348.2 69.7h.6M345.4 66.9h.6M342.1 64.1h.6M352.3 67.3h.6M344.2 68.9h.6M345.6 62.4h.6M337.6 69.1h.6M344.5 68.6h.6M354.3 65.2h.6M331.2 64.9h.6M330.9 68.3h.6M336.9 66.7h.6M351.0 71.1h.6M341.7 68.8h.6M334.9 67.6h.6M346.5 70.3h.6M339.7 64.2h.6M341.0 68.1h.6M331.6 73.6h.6M326.3 70.1h.6M344.1 65.5h.6M335.9 65.3h.6M346.3 65.5h.6M357.6 67.9h.6M348.2 68.9h.6M332.9 74.7h.6M343.1 67.0h.6M338.8 78.2h.6M342.6 63.6h.6M347.6 64.6h.6M337.3 63.1h.6M346.2 69.6h.6M342.8 69.8h.6M346.9 74.9h.6M347.6 66.2h.6M340.8 68.1h.6M347.7 56.8h.6M349.7 59.7h.6M334.8 71.1h.6M339.7 67.3h.6M341.7 71.0h.6M325.8 69.8h.6M334.7 72.0h.6M351.5 67.4h.6M344.7 62.9h.6M342.5 71.0h.6M344.0 72.4h.6M349.0 67.7h.6M333.0 73.9h.6M353.5 68.4h.6M336.9 69.6h.6M339.1 72.1h.6M334.9 77.0h.6M343.1 65.4h.6M335.2 72.2h.6M340.5 68.3h.6M334.5 71.0h.6M350.0 66.0h.6M351.2 65.7h.6M335.6 71.2h.6M330.6 70.3h.6M331.7 72.9h.6M345.8 61.5h.6M331.9 74.5h.6M334.0 69.3h.6M340.1 67.6h.6M353.5 69.9h.6M342.4 71.7h.6M339.7 72.0h.6M347.0 70.0h.6M328.5 73.4h.6M332.2 68.6h.6M349.2 69.4h.6M350.1 68.6h.6M346.1 70.3h.6M344.3 68.1h.6M339.0 69.4h.6M339.0 67.7h.6M356.0 70.3h.6M333.2 69.1h.6M351.6 68.7h.6M340.7 68.1h.6M328.6 68.9h.6M345.5 67.6h.6M334.2 66.6h.6M344.3 67.7h.6M344.2 68.6h.6M358.6 62.3h.6M336.6 69.5h.6M326.3 73.6h.6M344.6 68.6h.6M345.5 64.6h.6M339.7 70.3h.6M335.2 68.6h.6M344.6 65.7h.6M346.6 67.3h.6M337.9 69.0h.6M348.5 70.2h.6M342.0 69.8h.6M340.5 68.1h.6M333.8 78.2h.6M337.3 74.4h.6M345.0 61.7h.6M350.0 62.5h.6M349.5 64.0h.6M341.7 73.1h.6M339.4 66.2h.6M334.8 70.9h.6M335.2 70.0h.6M339.6 73.7h.6M348.6 66.3h.6M351.0 68.5h.6M344.1 68.2h.6M346.9 72.4h.6M334.6 72.9h.6M340.6 72.1h.6M346.6 67.3h.6M341.8 69.0h.6M346.8 71.6h.6M332.9 77.9h.6M353.1 66.3h.6M339.5 71.7h.6M335.9 67.7h.6M343.5 74.1h.6M339.3 71.6h.6M357.2 67.1h.6M336.4 68.4h.6M347.9 64.2h.6M328.4 72.4h.6M331.4 75.3h.6M328.1 68.4h.6M351.7 65.7h.6M324.8 65.0h.6M343.5 68.4h.6M334.2 67.5h.6M346.1 66.6h.6M333.1 71.5h.6M335.6 68.6h.6M344.9 71.1h.6M328.9 76.4h.6M326.6 77.2h.6M356.9 65.3h.6M341.7 67.9h.6M345.9 70.9h.6M342.3 72.7h.6M343.9 67.2h.6M341.5 69.4h.6M344.5 68.0h.6M332.5 74.3h.6M320.9 73.0h.6M334.6 63.7h.6M354.0 68.3h.6M337.2 73.6h.6M327.5 73.7h.6M354.0 69.2h.6M349.5 67.4h.6M336.0 66.8h.6M347.7 69.2h.6M345.3 67.0h.6M330.9 68.1h.6M351.8 70.6h.6M346.5 68.1h.6M342.9 59.8h.6M350.6 69.1h.6M326.7 73.4h.6M340.3 68.2h.6M353.3 65.1h.6M351.9 68.6h.6M330.7 74.3h.6M347.1 70.4h.6M337.5 74.3h.6M344.1 66.8h.6M337.0 76.0h.6M369.9 69.2h.6M341.9 72.2h.6M343.6 63.7h.6M345.7 69.6h.6M354.8 72.3h.6M324.6 66.8h.6M351.1 65.3h.6M334.6 72.7h.6M340.7 70.9h.6M344.0 67.0h.6M347.2 70.2h.6M338.7 73.1h.6M347.3 78.3h.6M351.6 64.2h.6M343.0 70.1h.6M352.7 62.5h.6M339.0 76.7h.6M319.7 77.9h.6M339.5 74.0h.6M340.0 73.3h.6M341.5 79.4h.6M322.8 73.6h.6M325.8 75.8h.6M335.6 74.7h.6M338.6 66.0h.6M335.4 64.4h.6M353.4 71.7h.6M345.4 70.2h.6M343.5 74.0h.6M337.1 71.5h.6M323.3 74.1h.6M343.3 69.0h.6M336.9 72.8h.6M343.2 68.5h.6M359.1 64.2h.6M341.3 76.9h.6M362.6 70.5h.6M333.7 72.5h.6M335.5 80.1h.6M328.6 71.4h.6M342.4 75.0h.6M319.0 81.6h.6M342.1 69.3h.6M346.4 77.6h.6M346.5 63.9h.6M343.5 70.0h.6M347.4 66.5h.6M348.9 75.9h.6M340.9 72.5h.6M342.1 66.9h.6M334.4 71.8h.6M337.0 68.3h.6M356.7 72.2h.6M326.7 70.6h.6M350.9 64.5h.6M348.8 70.8h.6M323.0 72.9h.6M322.9 76.4h.6M334.0 73.1h.6M343.2 67.8h.6M333.9 65.2h.6M345.0 59.4h.6M337.9 72.1h.6M325.1 73.1h.6M345.7 72.1h.6M348.3 69.7h.6M336.9 71.3h.6M336.8 70.0h.6M326.1 78.5h.6M344.7 54.4h.6M355.5 58.7h.6M341.2 72.7h.6M324.8 73.9h.6M324.4 70.8h.6M338.4 68.7h.6M326.9 77.9h.6M334.2 74.3h.6M327.2 74.7h.6M339.1 62.6h.6M328.2 78.5h.6M348.9 65.2h.6M356.6 69.5h.6M356.2 69.2h.6M321.4 67.3h.6M351.4 61.3h.6M342.4 62.8h.6M345.2 64.6h.6M346.0 72.4h.6M348.8 74.2h.6M345.1 70.7h.6M342.1 69.3h.6M338.5 67.6h.6M335.1 79.3h.6M351.5 67.8h.6M337.9 67.2h.6M336.2 71.8h.6M349.9 71.0h.6M344.6 67.5h.6M338.2 69.0h.6M338.1 63.8h.6M320.4 78.1h.6M327.0 70.4h.6M336.5 74.6h.6M342.9 70.6h.6M344.1 70.7h.6M326.0 71.0h.6M335.0 74.1h.6M340.6 65.0h.6M349.0 69.2h.6M333.5 79.8h.6M333.1 83.3h.6M324.8 69.3h.6M339.5 73.3h.6M342.8 70.3h.6M349.7 66.6h.6M338.0 75.1h.6M348.1 62.4h.6M341.1 73.3h.6M341.1 66.2h.6M328.1 80.3h.6M358.2 67.7h.6M340.5 82.7h.6M353.9 73.4h.6M347.1 70.0h.6M335.0 65.7h.6M330.7 61.3h.6M347.9 69.9h.6M333.2 71.0h.6M332.4 77.5h.6M330.2 69.0h.6M331.2 73.4h.6M331.6 69.6h.6M355.4 68.9h.6M340.9 72.3h.6M349.8 61.3h.6M344.3 69.8h.6M339.5 76.2h.6M336.3 73.6h.6M330.0 79.4h.6M341.9 66.4h.6M338.0 62.9h.6M339.0 67.2h.6M337.1 65.8h.6M347.1 77.1h.6M334.1 72.9h.6M327.3 78.3h.6M334.8 79.6h.6M321.2 76.7h.6M339.5 60.7h.6M353.6 56.3h.6M335.5 75.4h.6M350.7 72.2h.6M359.3 60.6h.6M337.7 73.7h.6M345.8 72.1h.6M347.3 69.5h.6M355.1 60.7h.6M345.2 75.2h.6M331.3 68.0h.6M334.3 74.6h.6M328.0 66.7h.6M336.7 67.2h.6M347.6 72.9h.6M344.9 64.5h.6M332.5 64.9h.6M345.5 68.8h.6M321.6 74.4h.6M337.7 65.7h.6M353.9 69.0h.6M339.3 73.7h.6M335.6 72.9h.6M354.9 75.2h.6M353.4 64.5h.6M342.0 76.6h.6M318.0 75.6h.6M345.8 62.5h.6M358.0 59.7h.6M328.9 65.7h.6M362.2 55.4h.6M331.2 74.4h.6M349.6 59.9h.6M350.0 66.3h.6M348.8 68.8h.6M331.8 71.4h.6M349.7 72.4h.6M323.8 68.7h.6M339.0 66.2h.6M341.0 75.4h.6M342.0 75.0h.6M328.0 73.0h.6M331.1 67.7h.6M320.3 71.6h.6M359.8 69.1h.6M344.7 77.9h.6M332.3 69.1h.6M342.8 68.8h.6M338.8 66.0h.6M358.2 71.1h.6M334.1 72.2h.6M352.9 69.3h.6M324.1 71.1h.6M340.2 76.3h.6M345.9 71.5h.6M338.8 75.5h.6M350.3 66.5h.6M341.2 67.1h.6M334.4 73.6h.6M335.3 73.0h.6M355.6 72.5h.6M341.4 75.9h.6M335.2 65.5h.6M321.1 66.0h.6M326.3 79.8h.6M329.6 71.0h.6M346.1 66.8h.6M353.1 70.6h.6M333.1 72.8h.6M361.9 65.2h.6M342.8 72.0h.6M341.3 68.6h.6M342.5 69.3h.6M331.0 70.6h.6M351.1 69.2h.6M341.3 67.5h.6M349.0 75.5h.6M323.6 76.8h.6M325.7 73.7h.6M349.8 72.9h.6M355.9 68.3h.6M338.9 75.0h.6M338.2 73.9h.6M338.1 64.8h.6M336.4 77.3h.6M329.5 78.1h.6M328.2 71.8h.6M357.2 78.7h.6M332.8 66.3h.6M349.6 73.4h.6M323.8 73.4h.6M346.3 68.9h.6M354.6 71.5h.6M338.3 76.3h.6M352.4 71.7h.6M342.2 63.6h.6M367.5 69.2h.6M337.5 68.2h.6M338.0 70.5h.6M329.7 74.3h.6M337.8 64.6h.6M349.6 73.9h.6M332.3 71.8h.6M353.5 62.0h.6M334.0 69.2h.6M341.5 64.2h.6M353.6 61.7h.6M334.9 73.9h.6M342.9 72.5h.6M339.4 77.3h.6M335.2 83.3h.6M347.5 73.1h.6M315.0 65.3h.6M330.4 76.7h.6M339.6 72.4h.6M344.3 73.1h.6M332.5 77.1h.6M326.8 75.1h.6M358.6 70.9h.6M347.6 72.6h.6M349.2 79.1h.6M341.2 67.5h.6M364.7 50.8h.6M368.7 44.8h.6M385.4 48.1h.6M357.8 44.6h.6M369.3 51.3h.6M364.0 53.7h.6M369.6 47.9h.6M372.7 48.5h.6M364.0 42.4h.6M378.0 51.7h.6M381.9 43.0h.6M367.6 49.6h.6M376.1 54.2h.6M364.9 49.0h.6M363.9 48.7h.6M374.8 48.3h.6M374.4 44.2h.6M363.3 45.4h.6M374.3 51.1h.6M378.3 43.3h.6M366.6 46.0h.6M360.3 42.8h.6M372.0 47.5h.6M375.9 42.4h.6M370.0 46.2h.6M373.5 45.5h.6M366.9 47.0h.6M371.4 44.1h.6M368.4 46.0h.6M371.7 51.1h.6M374.7 50.1h.6M370.0 49.3h.6M369.5 49.0h.6M360.3 41.7h.6M358.8 47.3h.6M366.8 48.4h.6M369.9 48.0h.6M367.9 49.4h.6M369.6 42.1h.6M368.3 48.8h.6M367.1 45.2h.6M366.4 48.5h.6M370.0 53.4h.6M374.4 48.6h.6M368.2 47.0h.6M359.9 44.7h.6M365.2 51.1h.6M363.9 40.1h.6M370.2 43.9h.6M374.8 37.1h.6M353.5 47.9h.6M365.1 44.4h.6M365.5 45.3h.6M382.6 41.7h.6M366.4 54.8h.6M373.3 49.6h.6M379.2 48.7h.6M366.8 44.6h.6M369.2 50.0h.6M369.5 46.8h.6M371.0 45.5h.6M364.4 41.6h.6M370.7 47.1h.6M365.6 37.4h.6M365.3 44.4h.6M377.8 37.3h.6M361.1 49.2h.6M375.8 48.4h.6M369.0 50.2h.6M368.9 41.6h.6M366.4 51.2h.6M371.5 54.2h.6M373.2 44.4h.6M363.2 44.0h.6M372.9 44.1h.6M357.1 45.9h.6M365.1 50.6h.6M361.7 45.4h.6M368.2 48.5h.6M373.4 46.3h.6M364.9 43.7h.6M371.4 46.8h.6M368.7 47.0h.6M377.3 46.5h.6M359.0 49.1h.6M359.2 46.7h.6M368.1 48.5h.6M357.3 41.5h.6M370.2 44.8h.6M371.1 51.5h.6M364.2 48.6h.6M364.6 46.2h.6M370.7 43.7h.6M371.7 44.2h.6M368.0 46.4h.6M372.3 39.5h.6M365.4 45.8h.6M370.9 45.8h.6M375.3 38.0h.6M374.8 39.5h.6M363.7 46.9h.6M364.6 46.0h.6M365.5 54.2h.6M371.6 54.3h.6M371.0 35.2h.6M362.0 44.9h.6M362.8 52.0h.6M370.8 47.9h.6M356.1 53.6h.6M375.5 50.9h.6M369.2 46.3h.6M365.0 51.6h.6M375.3 45.9h.6M368.9 42.1h.6M365.6 47.8h.6M383.2 50.3h.6M369.8 50.0h.6M369.9 45.3h.6M372.1 52.1h.6M369.5 52.0h.6M373.4 51.7h.6M366.0 40.0h.6M374.5 43.2h.6M370.5 44.4h.6M370.2 44.1h.6M374.8 38.3h.6M362.6 45.4h.6M370.1 51.1h.6M373.2 42.6h.6M376.3 54.4h.6M368.0 43.2h.6M366.3 48.7h.6M374.8 45.5h.6M358.6 43.4h.6M376.2 47.1h.6M359.3 48.5h.6M363.6 47.1h.6M375.8 50.8h.6M369.7 49.8h.6M363.8 41.5h.6M377.5 51.0h.6M371.3 43.2h.6M365.6 40.0h.6M373.6 49.6h.6M372.4 50.9h.6M368.1 43.6h.6M374.3 46.5h.6M372.4 43.9h.6M361.8 50.1h.6M370.9 44.8h.6M371.7 47.6h.6M372.2 41.8h.6M364.7 49.5h.6M375.6 46.4h.6M362.0 57.5h.6M367.5 52.2h.6M367.8 44.9h.6M369.7 42.0h.6M369.0 49.7h.6M370.6 43.5h.6M373.2 49.4h.6M381.9 49.6h.6M368.2 52.8h.6M374.4 52.2h.6M369.0 51.6h.6M369.6 46.9h.6M365.3 47.2h.6M367.2 47.9h.6M378.3 52.2h.6M369.4 45.5h.6M371.7 46.7h.6M363.1 50.8h.6M372.5 42.0h.6M372.8 45.1h.6M372.2 46.8h.6M376.2 44.7h.6M369.9 44.8h.6M366.7 48.7h.6M372.4 43.0h.6M372.8 48.6h.6M380.2 44.6h.6M367.0 41.1h.6M369.7 36.2h.6M377.6 42.0h.6M369.6 48.5h.6M383.4 44.6h.6M382.9 43.2h.6M370.7 46.4h.6M374.5 47.7h.6M375.7 45.1h.6M366.2 43.3h.6M365.8 52.3h.6M377.3 45.8h.6M376.0 47.8h.6M367.6 44.6h.6M366.5 47.7h.6M363.5 51.4h.6M361.2 44.2h.6M375.3 45.4h.6M372.2 45.2h.6M368.8 42.5h.6M362.4 54.0h.6M364.6 42.8h.6M371.2 48.5h.6M362.4 44.8h.6M370.3 46.1h.6M366.4 45.2h.6M354.8 45.8h.6M373.0 46.1h.6M364.6 38.4h.6M357.0 44.6h.6M368.3 47.6h.6M361.7 53.7h.6M374.8 46.1h.6M366.9 43.5h.6M369.3 50.1h.6M376.0 47.7h.6M359.0 43.4h.6M370.2 43.8h.6M374.9 41.4h.6M373.3 50.4h.6M363.4 42.9h.6M371.5 41.8h.6M380.0 46.1h.6M364.7 50.7h.6M366.2 44.5h.6M373.9 48.8h.6M369.2 41.4h.6M368.9 49.4h.6M380.1 46.0h.6M365.8 47.0h.6M374.2 37.7h.6M362.7 50.8h.6M352.7 48.3h.6M369.6 47.1h.6M373.8 41.9h.6M367.7 52.0h.6M379.6 43.7h.6M370.2 47.9h.6M373.4 45.5h.6M371.5 45.2h.6M363.9 49.6h.6M377.4 47.5h.6M378.8 50.4h.6M377.9 43.7h.6M377.5 48.7h.6M377.3 42.1h.6M375.4 46.3h.6M376.9 39.4h.6M371.9 46.3h.6M365.7 46.3h.6M372.7 43.6h.6M375.4 43.3h.6M365.5 46.3h.6M370.2 50.8h.6M376.7 45.5h.6M367.9 47.0h.6M385.6 46.5h.6M374.3 51.4h.6M378.3 49.9h.6M375.7 48.1h.6M376.2 39.6h.6M371.7 48.9h.6M365.7 44.8h.6M362.5 49.2h.6M360.8 44.8h.6M365.4 49.3h.6M358.7 46.4h.6M368.1 45.2h.6M364.2 48.2h.6M365.5 41.8h.6M365.6 51.6h.6M374.5 46.2h.6M366.0 46.6h.6M364.9 43.8h.6M379.8 48.3h.6M367.6 42.9h.6M378.9 49.9h.6M367.1 43.8h.6M368.9 47.1h.6M371.1 43.8h.6M361.7 47.8h.6M379.4 48.7h.6M380.0 43.3h.6M366.9 42.6h.6M376.5 45.1h.6M371.2 43.5h.6M367.3 47.8h.6M379.2 41.1h.6M363.7 45.3h.6M370.0 49.5h.6M375.9 46.6h.6M368.2 42.9h.6M372.6 45.2h.6M362.4 48.2h.6M369.1 49.6h.6M370.2 43.0h.6M362.5 48.0h.6M364.6 43.7h.6M365.5 41.1h.6M368.8 50.7h.6M371.4 48.9h.6M368.2 49.4h.6M360.5 51.1h.6M370.2 45.7h.6M378.2 50.8h.6M370.4 50.0h.6M367.4 44.3h.6M369.7 45.1h.6M372.9 40.3h.6M361.0 40.1h.6M379.7 48.2h.6M368.4 49.1h.6M381.0 42.4h.6M366.2 49.5h.6M364.1 47.2h.6M370.6 41.1h.6M376.1 48.3h.6M373.1 48.3h.6M371.4 48.7h.6M371.6 43.8h.6M370.7 41.2h.6M376.7 47.5h.6M370.2 51.0h.6M375.5 59.0h.6M366.0 39.5h.6M368.9 45.2h.6M366.0 50.9h.6M368.7 49.2h.6M367.5 51.1h.6M360.7 42.9h.6M375.5 41.5h.6M372.6 49.1h.6M372.6 38.7h.6M383.5 43.4h.6M357.3 42.0h.6M372.6 47.0h.6M370.8 45.7h.6M377.3 51.8h.6M366.5 46.1h.6M367.8 52.2h.6M363.8 48.7h.6M374.1 45.1h.6M380.7 40.1h.6M365.8 49.5h.6M370.8 44.4h.6M372.4 53.4h.6M366.2 46.9h.6M358.7 50.1h.6M375.7 48.9h.6M359.1 38.4h.6M376.3 43.7h.6M362.3 48.3h.6M376.0 48.1h.6M377.8 45.8h.6M367.6 52.8h.6M363.6 51.3h.6M369.4 50.5h.6M370.4 51.9h.6M362.4 42.3h.6M368.6 50.8h.6M375.2 45.8h.6M373.0 41.2h.6M377.3 49.1h.6M361.7 53.3h.6M365.2 51.3h.6M369.5 49.4h.6M368.9 45.6h.6M375.8 53.9h.6M362.7 50.1h.6M379.1 44.7h.6M376.0 42.4h.6M374.3 46.4h.6M367.4 40.9h.6M361.0 51.6h.6M362.0 51.7h.6M375.3 45.3h.6M368.3 41.4h.6M380.4 43.3h.6M372.3 53.4h.6M362.5 54.0h.6M377.1 48.8h.6M369.1 53.3h.6M370.9 50.7h.6M373.8 44.9h.6M361.1 45.3h.6M363.2 50.4h.6M378.8 50.6h.6M360.6 39.9h.6M362.9 47.9h.6M361.6 44.1h.6M361.6 40.9h.6M366.9 44.9h.6M366.7 47.6h.6M363.4 48.8h.6M366.3 48.0h.6M371.9 49.2h.6M356.8 47.0h.6M366.7 43.2h.6M369.3 55.0h.6M360.0 56.4h.6M376.2 41.8h.6M370.2 43.2h.6M368.1 42.4h.6M372.9 47.0h.6M371.5 46.8h.6M367.6 44.1h.6M368.0 47.8h.6M362.6 48.8h.6M372.2 48.6h.6M370.7 46.8h.6M363.2 46.0h.6M373.3 46.9h.6M377.7 38.5h.6M361.9 46.8h.6M379.6 39.0h.6M377.0 47.2h.6M376.0 48.1h.6M368.9 47.0h.6M379.9 45.0h.6M369.0 54.5h.6M374.0 52.0h.6M367.1 52.0h.6M362.3 48.3h.6M374.0 50.2h.6M378.0 45.6h.6M362.4 51.2h.6M368.9 40.3h.6M366.1 49.7h.6M363.4 41.5h.6M367.5 47.4h.6M375.9 47.4h.6M379.0 51.5h.6M372.6 46.3h.6M370.3 44.6h.6M374.4 48.9h.6M364.8 50.6h.6M371.2 48.3h.6M366.7 46.1h.6M371.6 49.1h.6M359.3 44.0h.6M372.8 47.0h.6M368.1 44.9h.6M371.5 50.1h.6M371.0 43.7h.6M378.8 51.3h.6M368.8 53.4h.6M360.6 48.2h.6M375.7 41.6h.6M375.2 48.3h.6M366.6 46.0h.6M376.3 46.8h.6M376.5 48.4h.6M363.1 49.8h.6M364.6 48.9h.6M361.9 41.4h.6M379.4 46.2h.6M358.9 45.2h.6M364.2 49.1h.6M371.0 36.5h.6M376.4 42.6h.6M376.4 43.9h.6M371.5 40.5h.6M373.9 47.5h.6M376.8 48.8h.6M373.0 49.5h.6M368.6 46.2h.6M371.2 44.5h.6M373.9 51.0h.6M373.5 44.0h.6M371.9 53.2h.6M365.3 50.5h.6M370.4 45.5h.6M374.4 52.0h.6M364.0 52.4h.6M364.9 40.2h.6M372.6 47.2h.6M373.8 45.5h.6M368.6 46.4h.6M369.3 54.0h.6M371.0 51.8h.6M368.3 55.8h.6M367.6 51.4h.6M359.3 48.3h.6M368.3 44.5h.6M380.0 48.2h.6M366.2 50.2h.6M366.5 46.9h.6M372.7 45.3h.6M374.8 49.9h.6M383.4 46.3h.6M368.1 55.0h.6M372.8 45.0h.6M364.1 50.4h.6M365.2 49.1h.6M366.9 56.8h.6M369.5 46.6h.6M372.7 44.9h.6M371.7 48.2h.6M364.9 46.9h.6M370.6 52.6h.6M363.6 51.5h.6M366.7 49.4h.6M363.1 48.0h.6M367.5 38.6h.6M371.6 42.6h.6M382.5 44.1h.6M365.3 43.8h.6M373.6 49.8h.6M372.2 53.6h.6M368.0 45.2h.6M365.7 43.6h.6M363.4 48.4h.6M371.6 53.6h.6M366.0 46.9h.6M369.3 44.1h.6M375.5 48.3h.6M360.2 43.1h.6M378.1 42.1h.6M365.9 48.7h.6M373.1 42.3h.6M372.2 46.5h.6M368.9 46.4h.6M372.2 42.4h.6M378.0 48.4h.6M371.1 54.8h.6M376.6 48.6h.6M381.2 43.2h.6M370.5 45.4h.6M365.4 50.0h.6M367.6 46.2h.6M372.0 44.9h.6M375.4 43.7h.6M358.9 48.6h.6M369.0 48.0h.6M366.4 46.6h.6M380.3 48.3h.6M364.7 50.8h.6M374.1 52.2h.6M370.6 48.3h.6M375.4 48.1h.6M380.5 47.9h.6M368.2 46.0h.6M362.6 51.2h.6M377.4 39.4h.6M366.1 49.8h.6M370.7 45.0h.6M374.2 47.6h.6M361.6 53.3h.6M367.0 52.1h.6M372.1 54.2h.6M365.2 37.1h.6M381.1 49.5h.6M362.1 47.2h.6M375.4 51.5h.6M366.3 45.1h.6M370.7 49.1h.6M365.4 45.1h.6M372.7 45.4h.6M376.0 41.2h.6M373.2 47.2h.6M369.2 45.2h.6M356.4 46.7h.6M372.0 53.8h.6M357.8 45.2h.6M376.3 50.8h.6M363.4 46.9h.6M358.9 47.4h.6M360.5 48.9h.6M369.8 45.6h.6M365.9 57.7h.6M369.9 43.7h.6M362.2 46.7h.6M374.3 47.1h.6M379.3 50.5h.6M370.5 49.8h.6M364.0 49.9h.6M361.8 46.8h.6M365.0 48.3h.6M376.6 51.3h.6M366.5 53.1h.6M360.1 44.8h.6M384.4 37.0h.6M379.7 50.3h.6M378.7 47.1h.6M365.9 49.2h.6M374.1 43.0h.6M364.5 49.4h.6M367.1 49.5h.6M374.0 52.5h.6M363.9 57.1h.6M369.7 48.3h.6M362.0 49.1h.6M375.0 47.0h.6M367.4 48.5h.6M369.7 38.5h.6M370.9 45.6h.6M364.5 46.3h.6M366.8 54.3h.6M365.2 51.1h.6M354.5 46.4h.6M370.5 45.2h.6M374.7 44.0h.6M375.7 41.7h.6M369.5 49.5h.6M375.0 50.2h.6M364.1 46.4h.6M367.4 39.8h.6M358.1 48.4h.6M366.2 50.9h.6M372.3 45.8h.6M360.0 43.5h.6M369.1 46.4h.6M384.7 54.3h.6M375.0 47.8h.6M370.7 49.6h.6M377.2 43.5h.6M374.4 47.5h.6M366.4 43.6h.6M387.6 47.2h.6M375.1 40.0h.6M375.2 40.4h.6M377.2 53.9h.6M364.8 46.2h.6M369.4 50.6h.6M374.5 44.6h.6M368.4 50.8h.6M369.8 43.0h.6M366.6 43.1h.6M367.4 52.0h.6M377.3 48.7h.6M366.6 39.0h.6M378.1 42.9h.6M373.8 46.9h.6M361.6 54.3h.6M365.2 48.3h.6M365.8 47.8h.6M377.7 41.3h.6M369.0 52.3h.6M375.5 50.2h.6M376.8 39.1h.6M371.9 48.1h.6M364.3 36.8h.6M370.8 46.7h.6M374.6 43.2h.6M369.6 48.0h.6M373.9 40.7h.6M366.1 49.2h.6M361.4 43.0h.6M366.9 46.0h.6M371.1 43.5h.6M360.4 44.1h.6M371.8 51.2h.6M366.4 47.6h.6M361.4 52.8h.6M371.6 46.3h.6M378.5 47.4h.6M361.9 53.2h.6M384.4 44.8h.6M370.3 45.1h.6M364.4 44.0h.6M371.4 44.7h.6M359.1 51.5h.6M371.0 48.3h.6M370.1 46.6h.6M355.2 49.7h.6M357.7 51.3h.6M362.8 50.7h.6M366.4 43.7h.6M370.7 43.4h.6M368.1 53.8h.6M363.6 47.6h.6M373.0 49.4h.6M371.6 44.7h.6M368.6 42.3h.6M366.0 44.3h.6M362.6 51.7h.6M367.8 45.4h.6M378.7 50.0h.6M372.6 48.6h.6M375.4 41.5h.6M360.2 44.7h.6M370.8 47.7h.6M362.5 53.7h.6M372.8 49.5h.6M370.6 38.3h.6M371.8 48.8h.6M376.8 45.3h.6M367.2 48.0h.6M376.9 49.5h.6M369.9 43.0h.6M366.1 51.4h.6M367.7 46.4h.6M373.6 42.7h.6M366.3 49.4h.6M373.4 43.0h.6M370.6 43.4h.6M365.4 44.5h.6M354.4 50.6h.6M369.9 50.9h.6M363.6 56.1h.6M378.2 41.8h.6M359.8 43.9h.6M368.9 48.7h.6M367.4 49.6h.6M367.3 55.1h.6M360.6 61.6h.6M368.4 54.5h.6M365.7 61.6h.6M361.8 58.0h.6M358.4 56.5h.6M370.8 56.6h.6M363.7 55.9h.6M361.0 42.7h.6M364.0 58.7h.6M358.5 60.7h.6M355.1 50.8h.6M377.2 52.0h.6M365.9 42.8h.6M374.4 62.4h.6M362.4 36.7h.6M358.8 58.9h.6M369.4 44.7h.6M353.3 56.5h.6M363.6 58.2h.6M363.4 58.7h.6M364.7 59.3h.6M357.1 66.4h.6M369.3 42.0h.6M352.9 58.0h.6M370.3 47.1h.6M368.3 51.0h.6M360.5 39.7h.6M367.5 59.6h.6M363.5 57.2h.6M362.6 60.1h.6M376.6 49.4h.6M360.0 49.9h.6M356.8 50.3h.6M369.5 44.8h.6M374.4 34.9h.6M353.9 52.3h.6M363.5 50.6h.6M364.7 53.4h.6M355.8 52.8h.6M362.9 67.2h.6M366.8 46.6h.6M365.0 53.8h.6M370.9 50.6h.6M350.2 49.4h.6M357.8 58.8h.6M353.3 45.3h.6M362.1 49.6h.6M364.6 47.3h.6M360.6 50.8h.6M352.7 62.9h.6M363.7 63.1h.6M376.8 47.1h.6M362.2 59.4h.6M365.6 47.8h.6M358.7 49.2h.6M367.9 51.6h.6M367.4 43.4h.6M353.2 60.5h.6M366.6 59.3h.6M378.9 54.2h.6M364.0 63.7h.6M356.5 49.4h.6M368.2 55.6h.6M369.5 51.7h.6M354.3 57.2h.6M369.0 42.9h.6M365.7 53.6h.6M370.1 59.3h.6M367.7 52.2h.6M364.0 52.6h.6M377.6 57.1h.6M364.3 52.2h.6M368.5 51.4h.6M370.5 62.4h.6M374.1 62.3h.6M367.0 52.6h.6M357.0 56.7h.6M369.6 46.8h.6M355.5 52.9h.6M368.6 47.5h.6M370.7 56.2h.6M363.8 65.6h.6M363.5 48.0h.6M362.9 53.1h.6M368.4 53.7h.6M360.3 56.7h.6M370.6 44.4h.6M363.0 45.0h.6M367.4 38.6h.6M362.3 55.3h.6M362.1 56.8h.6M368.4 51.0h.6M358.6 61.5h.6M360.5 53.2h.6M374.8 45.2h.6M354.5 42.1h.6M371.6 60.8h.6M352.6 51.7h.6M375.0 53.0h.6M362.7 65.5h.6M358.1 58.0h.6M369.1 54.7h.6M359.0 57.1h.6M354.2 63.3h.6M357.9 55.9h.6M362.8 43.4h.6M362.0 53.2h.6M363.2 40.9h.6M372.1 51.8h.6M369.9 51.1h.6M378.5 52.2h.6M364.2 47.9h.6M370.3 39.9h.6M364.4 54.8h.6M373.5 44.8h.6M370.5 46.4h.6M369.7 42.4h.6M384.3 35.4h.6M370.2 54.3h.6M369.7 48.7h.6M372.9 49.1h.6M378.6 58.4h.6M374.2 55.7h.6M371.0 49.5h.6M369.3 58.1h.6M359.5 50.1h.6M354.0 52.2h.6M367.1 52.5h.6M362.7 56.5h.6M356.5 58.5h.6M382.4 56.2h.6M369.2 40.3h.6M370.0 55.7h.6M359.1 59.3h.6M368.0 56.3h.6M365.0 48.9h.6M360.0 49.0h.6M375.1 44.8h.6M372.2 47.1h.6M353.9 48.8h.6M370.6 53.5h.6M351.7 53.6h.6M364.3 41.5h.6M371.8 50.9h.6M375.4 46.1h.6M344.5 54.3h.6M374.9 42.6h.6M357.3 51.6h.6M368.1 44.0h.6M355.2 48.8h.6M366.0 50.8h.6M370.9 52.1h.6M362.4 49.3h.6M372.3 54.1h.6M363.5 54.9h.6M365.4 61.8h.6M361.4 56.5h.6M353.8 54.8h.6M366.7 53.3h.6M362.2 54.7h.6M372.3 38.4h.6M359.8 48.9h.6M375.9 50.0h.6M345.1 58.2h.6M371.3 54.0h.6M363.5 42.8h.6M374.0 48.0h.6M376.9 42.2h.6M365.6 44.1h.6M375.5 41.9h.6M361.4 49.2h.6M368.3 64.1h.6M375.6 51.5h.6M366.8 48.5h.6M378.9 56.3h.6M360.1 55.4h.6M363.2 51.8h.6M370.6 55.3h.6M366.8 53.4h.6M371.8 47.3h.6M383.8 36.3h.6M363.8 50.6h.6M374.1 42.9h.6M361.0 46.8h.6M354.0 54.3h.6M353.4 53.8h.6M355.6 49.0h.6M348.8 55.1h.6M367.2 56.9h.6M373.6 54.4h.6M350.8 61.3h.6M360.5 48.9h.6M355.5 53.9h.6M374.8 46.9h.6M377.6 51.6h.6M366.1 46.8h.6M362.6 45.1h.6M359.9 48.3h.6M364.5 51.3h.6M378.1 47.4h.6M374.5 56.4h.6M361.7 40.2h.6M376.6 40.7h.6M367.6 51.4h.6M364.1 43.2h.6M360.9 50.3h.6M349.3 48.9h.6M365.2 49.2h.6M365.6 57.9h.6M377.0 57.2h.6M354.0 53.7h.6M356.2 56.4h.6M369.6 58.5h.6M362.9 59.3h.6M363.6 57.2h.6M367.5 55.0h.6M358.0 54.8h.6M361.5 47.3h.6M377.4 42.5h.6M368.5 55.8h.6M363.2 53.3h.6M369.2 55.1h.6M362.6 58.6h.6M369.4 51.8h.6M373.7 51.2h.6M357.1 46.3h.6M360.4 51.0h.6M370.3 52.6h.6M352.3 56.4h.6M371.2 40.6h.6M360.1 54.7h.6M348.8 53.4h.6M369.2 57.2h.6M359.5 59.1h.6M355.2 56.5h.6M360.0 58.8h.6M364.1 49.9h.6M372.5 57.3h.6M350.1 55.4h.6M369.1 59.2h.6M358.8 56.1h.6M363.9 54.1h.6M367.3 46.2h.6M366.4 49.3h.6M375.0 50.5h.6M358.5 55.7h.6M364.8 50.4h.6M374.4 60.8h.6M358.2 49.7h.6M358.0 52.5h.6M351.1 51.8h.6M349.6 47.9h.6M378.8 45.8h.6M362.0 56.3h.6M363.4 47.2h.6M362.8 44.9h.6M364.3 56.6h.6M364.1 47.2h.6M374.4 59.8h.6M364.7 62.8h.6M375.3 49.6h.6M365.9 50.2h.6M364.5 56.9h.6M358.8 44.5h.6M376.3 51.4h.6M381.4 54.1h.6M356.8 45.9h.6M367.5 48.4h.6M364.0 58.7h.6M358.7 56.1h.6M364.2 50.3h.6M373.0 58.0h.6M380.0 45.9h.6M362.3 60.9h.6M356.6 54.2h.6M351.6 60.8h.6M352.3 50.9h.6M364.6 40.8h.6M366.3 44.8h.6M379.4 47.0h.6M375.3 53.9h.6M360.9 46.3h.6M373.8 55.7h.6M373.3 42.7h.6M350.4 51.1h.6M353.0 61.3h.6M369.1 52.7h.6M367.4 46.9h.6M353.0 60.1h.6M364.1 56.0h.6M358.7 59.6h.6M366.7 48.6h.6M373.3 42.9h.6M381.2 64.5h.6M376.2 50.1h.6M359.8 48.6h.6M362.2 56.8h.6M374.8 51.2h.6M363.7 58.3h.6M361.7 43.2h.6M369.2 47.8h.6M359.6 59.1h.6M353.4 65.8h.6M378.2 54.2h.6M365.5 53.6h.6M368.9 44.0h.6M375.6 61.5h.6M351.3 53.0h.6M367.8 51.3h.6M365.4 60.7h.6M363.7 52.6h.6M366.4 62.1h.6M367.5 55.4h.6M370.5 55.1h.6M364.5 62.6h.6M371.4 51.1h.6M375.0 36.8h.6M368.0 58.3h.6M378.5 50.0h.6M365.9 54.1h.6M364.2 55.6h.6M358.2 53.0h.6M372.4 42.9h.6M367.1 56.5h.6M357.7 50.9h.6M375.9 52.5h.6M362.8 51.3h.6M366.4 48.6h.6M350.5 53.9h.6M358.7 52.8h.6M364.0 54.4h.6M370.4 50.4h.6M370.3 51.2h.6M369.5 55.0h.6M360.9 52.4h.6M375.4 47.2h.6M362.6 49.9h.6M367.2 58.1h.6M359.3 64.0h.6M373.7 52.1h.6M377.7 57.8h.6M372.8 44.6h.6M359.1 51.3h.6M375.0 46.8h.6M376.3 63.7h.6M354.3 63.7h.6M368.9 54.7h.6M362.8 54.8h.6M373.5 56.0h.6M361.0 59.4h.6M361.1 64.8h.6M366.4 58.4h.6M388.0 51.4h.6M357.8 45.1h.6M360.9 53.5h.6M360.0 56.7h.6M350.8 51.6h.6M358.2 53.4h.6M374.3 55.5h.6M358.3 61.5h.6M365.5 62.2h.6M360.1 49.6h.6M374.1 57.7h.6M363.7 50.3h.6M365.9 58.8h.6M378.6 42.7h.6M380.5 52.5h.6M371.3 52.0h.6M359.1 54.6h.6M365.6 51.4h.6M353.2 62.3h.6M359.3 70.3h.6M357.7 52.3h.6M368.5 59.2h.6M355.3 55.7h.6M357.3 57.5h.6M364.1 63.8h.6M360.8 58.7h.6M360.0 64.2h.6M362.5 68.1h.6M357.8 64.6h.6M362.0 60.7h.6M366.7 63.9h.6M357.2 53.0h.6M361.2 62.1h.6M360.0 62.7h.6M358.7 65.5h.6M361.6 62.3h.6M357.0 61.9h.6M354.5 60.7h.6M360.3 68.1h.6M357.2 67.5h.6M355.6 56.4h.6M356.6 59.5h.6M364.9 61.1h.6M359.6 64.3h.6M365.8 54.3h.6M359.2 60.5h.6M357.2 62.3h.6M362.2 61.1h.6M357.0 61.8h.6M361.8 58.5h.6M353.6 60.6h.6M358.0 68.4h.6M363.6 53.4h.6M359.9 59.6h.6M360.0 60.7h.6M356.3 62.2h.6M353.7 59.6h.6M355.9 60.3h.6M358.7 59.9h.6M354.1 54.6h.6M354.1 66.6h.6M368.3 65.9h.6M358.6 58.1h.6M359.9 56.9h.6M355.1 65.3h.6M356.2 60.6h.6M354.0 59.6h.6M358.1 61.6h.6M351.6 64.6h.6M359.6 58.0h.6M358.7 65.2h.6M351.1 69.0h.6M361.2 61.7h.6M358.7 67.9h.6M362.7 60.7h.6M355.0 68.8h.6M356.8 63.1h.6M356.0 67.8h.6M363.6 65.0h.6M353.6 63.4h.6M355.3 65.8h.6M353.4 60.7h.6M355.2 63.3h.6M361.3 59.1h.6M358.3 64.7h.6M356.0 61.9h.6M362.0 66.1h.6M362.4 66.2h.6M360.7 64.1h.6M362.3 69.6h.6M354.9 60.4h.6M352.4 57.7h.6M357.1 60.8h.6M355.8 59.7h.6M359.7 56.2h.6M353.5 63.5h.6M356.0 66.7h.6M361.2 65.7h.6M358.1 60.7h.6M363.2 62.3h.6M359.8 60.6h.6M359.8 61.5h.6M367.6 61.4h.6M361.4 59.6h.6M356.9 65.1h.6M360.0 61.6h.6M353.7 61.6h.6M360.9 64.4h.6M362.8 70.4h.6M357.0 63.4h.6M358.1 67.2h.6M361.9 66.2h.6M360.2 62.1h.6M360.4 61.7h.6M358.2 61.0h.6M355.0 58.8h.6M358.2 60.1h.6M363.4 61.2h.6M357.8 66.7h.6M351.7 63.3h.6M361.8 67.5h.6M353.3 58.2h.6M358.8 56.6h.6M362.1 60.0h.6M359.8 55.5h.6M353.5 64.5h.6M362.3 61.4h.6M360.3 55.4h.6M357.5 56.6h.6M364.6 60.2h.6M365.3 64.1h.6M358.3 61.9h.6M365.3 62.3h.6M355.7 55.9h.6M352.5 63.2h.6M363.4 63.6h.6M357.2 66.3h.6M357.7 62.3h.6M349.9 63.6h.6M352.3 58.4h.6M362.7 62.8h.6M359.8 65.4h.6" stroke="#222" stroke-width="0.6" fill="none" opacity="0.75"/>
<path d="M315.8 105.4v1.3M317.9 105.4v1.3M319.6 105.4v1.3M321.1 105.4v1.3M322.5 105.4v2.2M331.5 105.4v1.3M336.8 105.4v1.3M340.6 105.4v1.3M343.5 105.4v1.3M345.8 105.4v1.3M347.9 105.4v1.3M349.6 105.4v1.3M351.1 105.4v1.3M352.5 105.4v2.2M361.5 105.4v1.3M366.8 105.4v1.3M370.6 105.4v1.3M373.5 105.4v1.3M375.8 105.4v1.3M377.9 105.4v1.3M379.6 105.4v1.3M381.1 105.4v1.3M382.5 105.4v2.2M391.5 105.4v1.3M396.8 105.4v1.3M400.6 105.4v1.3" stroke="#222" stroke-width="0.8" fill="none"/>
<path d="M321.9 106.7h1.6" stroke="#333" stroke-width="1.6" fill="none"/>
<path d="M312.5 103.1h-1.2M312.5 101.0h-1.2M312.5 99.3h-1.2M312.5 97.8h-1.2M312.5 96.4h-2.2M312.5 87.4h-1.2M312.5 82.1h-1.2M312.5 78.3h-1.2M312.5 75.4h-1.2M312.5 73.1h-1.2M312.5 71.0h-1.2M312.5 69.3h-1.2M312.5 67.8h-1.2M312.5 66.4h-2.2M312.5 57.4h-1.2M312.5 52.1h-1.2M312.5 48.3h-1.2M312.5 45.4h-1.2M312.5 43.1h-1.2M312.5 41.0h-1.2M312.5 39.3h-1.2M312.5 37.8h-1.2M312.5 36.4h-2.2M312.5 27.4h-1.2M312.5 22.1h-1.2" stroke="#555" stroke-width="0.6" fill="none"/>
<rect x="312.5" y="18.9" width="90.9" height="86.5" fill="none" stroke="#8a8a8a" stroke-width="0.8"/>
<path d="M361.7 18.9L361.7 105.4" stroke="#2a2a2a" stroke-width="1.1" fill="none"/>
<path d="M312.5 60.2L403.4 60.2" stroke="#2a2a2a" stroke-width="1.1" fill="none"/>
<text x="314.1" y="15.2" font-size="15.6" stroke="#000" stroke-width="0.1" textLength="88.9" lengthAdjust="spacingAndGlyphs">PID1+CDDP</text>
<text x="315.4" y="47.5" font-size="11.3" stroke="#000" stroke-width="0.2" textLength="28.2" lengthAdjust="spacingAndGlyphs">3.5%</text>
<text x="365.8" y="30.8" font-size="12.0" font-weight="bold" textLength="34.6" lengthAdjust="spacingAndGlyphs">48.5%</text>
<text x="373.6" y="100.8" font-size="11.3" stroke="#000" stroke-width="0.2" textLength="28.1" lengthAdjust="spacingAndGlyphs">9.2%</text>
<text transform="translate(13.8,102.9) rotate(-90)" font-size="16.8" textLength="73.2" lengthAdjust="spacingAndGlyphs">UW-228-2</text>
<text transform="translate(29.8,69.4) rotate(-90)" font-size="11.2" textLength="31.2" lengthAdjust="spacingAndGlyphs">7AAD</text>
<path d="M26.2 118.0L26.2 76.2" stroke="#000" stroke-width="1.3" fill="none"/>
<path d="M26.2 72.2L23.5 79.2L28.9 79.2Z" fill="#000"/>
<path d="M25.6 117.4L71.5 117.4" stroke="#000" stroke-width="1.3" fill="none"/>
<path d="M75.5 117.4L68.5 114.7L68.5 120.1Z" fill="#000"/>
<text x="81.3" y="122.7" font-size="12.1" stroke="#000" stroke-width="0.15" textLength="51.7" lengthAdjust="spacingAndGlyphs">AnnexinV</text>
<path d="M34.1 252.4v1.3M36.2 252.4v1.3M38.0 252.4v1.3M39.5 252.4v1.3M40.9 252.4v1.3M42.1 252.4v2.2M50.1 252.4v1.3M54.7 252.4v1.3M58.1 252.4v1.3M60.6 252.4v1.3M62.7 252.4v1.3M64.5 252.4v1.3M66.0 252.4v1.3M67.4 252.4v1.3M68.6 252.4v2.2M76.6 252.4v1.3M81.2 252.4v1.3M84.6 252.4v1.3M87.1 252.4v1.3M89.2 252.4v1.3M91.0 252.4v1.3M92.5 252.4v1.3M93.9 252.4v1.3M95.1 252.4v2.2M103.1 252.4v1.3M107.7 252.4v1.3M111.1 252.4v1.3M113.6 252.4v1.3M115.7 252.4v1.3M117.5 252.4v1.3M119.0 252.4v1.3M120.4 252.4v1.3M121.6 252.4v2.2" stroke="#222" stroke-width="0.8" fill="none"/>
<path d="M41.5 253.7h1.6" stroke="#333" stroke-width="1.6" fill="none"/>
<path d="M32.7 231.9h-2.4M32.7 211.4h-2.4M32.7 190.9h-2.4M32.7 170.4h-2.4M32.7 252.4h-1.1M32.7 248.3h-1.1M32.7 244.2h-1.1M32.7 240.1h-1.1M32.7 236.0h-1.1M32.7 231.9h-1.1M32.7 227.8h-1.1M32.7 223.7h-1.1M32.7 219.6h-1.1M32.7 215.5h-1.1M32.7 211.4h-1.1M32.7 207.3h-1.1M32.7 203.2h-1.1M32.7 199.1h-1.1M32.7 195.0h-1.1M32.7 190.9h-1.1M32.7 186.8h-1.1M32.7 182.7h-1.1M32.7 178.6h-1.1M32.7 174.5h-1.1M32.7 170.4h-1.1M32.7 166.3h-1.1M32.7 162.2h-1.1" stroke="#333" stroke-width="0.9" fill="none"/>
<rect x="32.3" y="160.4" width="92.2" height="92.0" fill="none" stroke="#777" stroke-width="0.8"/>
<path d="M33.0 252.3L64.1 252.3L68.8 251.1L71.9 244.1L73.5 243.6L74.7 245.9L77.1 235.8L78.7 238.2L80.1 235.8L82.2 237.0L84.1 241.2L87.2 237.0L88.8 239.8L91.6 238.2L94.0 225.2L95.9 221.7L97.5 204.1L98.9 180.5L100.1 164.1L101.3 179.4L102.2 174.6L103.4 189.9L105.8 215.8L107.6 234.6L109.5 245.2L111.9 249.9L115.9 252.3L124.0 252.3" stroke="#3a3a3a" stroke-width="0.8" fill="none" stroke-linejoin="round"/>
<path d="M49.5 190.9L49.5 194.5" stroke="#444" stroke-width="1.1" fill="none" />
<path d="M85.6 190.9L85.6 194.5" stroke="#444" stroke-width="1.1" fill="none" />
<path d="M49.5 192.7L85.6 192.7" stroke="#444" stroke-width="1.1" fill="none"/>
<text x="52.5" y="187.3" font-size="10.1" stroke="#000" stroke-width="0.12" textLength="30.6" lengthAdjust="spacingAndGlyphs">23.8%</text>
<text x="66.3" y="156.8" font-size="16.1" stroke="#000" stroke-width="0.1" textLength="21.0" lengthAdjust="spacingAndGlyphs">EV</text>
<path d="M128.1 252.4v1.3M130.2 252.4v1.3M132.0 252.4v1.3M133.5 252.4v1.3M134.9 252.4v1.3M136.1 252.4v2.2M144.1 252.4v1.3M148.7 252.4v1.3M152.1 252.4v1.3M154.6 252.4v1.3M156.7 252.4v1.3M158.5 252.4v1.3M160.0 252.4v1.3M161.4 252.4v1.3M162.6 252.4v2.2M170.6 252.4v1.3M175.2 252.4v1.3M178.6 252.4v1.3M181.1 252.4v1.3M183.2 252.4v1.3M185.0 252.4v1.3M186.5 252.4v1.3M187.9 252.4v1.3M189.1 252.4v2.2M197.1 252.4v1.3M201.7 252.4v1.3M205.1 252.4v1.3M207.6 252.4v1.3M209.7 252.4v1.3M211.5 252.4v1.3M213.0 252.4v1.3M214.4 252.4v1.3M215.6 252.4v2.2" stroke="#222" stroke-width="0.8" fill="none"/>
<path d="M135.5 253.7h1.6" stroke="#333" stroke-width="1.6" fill="none"/>
<path d="M126.7 231.9h-2.4M126.7 211.4h-2.4M126.7 190.9h-2.4M126.7 170.4h-2.4M126.7 252.4h-1.1M126.7 248.3h-1.1M126.7 244.2h-1.1M126.7 240.1h-1.1M126.7 236.0h-1.1M126.7 231.9h-1.1M126.7 227.8h-1.1M126.7 223.7h-1.1M126.7 219.6h-1.1M126.7 215.5h-1.1M126.7 211.4h-1.1M126.7 207.3h-1.1M126.7 203.2h-1.1M126.7 199.1h-1.1M126.7 195.0h-1.1M126.7 190.9h-1.1M126.7 186.8h-1.1M126.7 182.7h-1.1M126.7 178.6h-1.1M126.7 174.5h-1.1M126.7 170.4h-1.1M126.7 166.3h-1.1M126.7 162.2h-1.1" stroke="#333" stroke-width="0.9" fill="none"/>
<rect x="126.3" y="160.4" width="92.4" height="92.0" fill="none" stroke="#777" stroke-width="0.8"/>
<path d="M127.0 252.3L156.1 252.3L159.6 249.9L163.2 245.2L165.5 239.4L167.2 234.6L168.6 228.8L170.2 231.8L171.9 229.9L173.1 234.6L174.5 225.9L176.1 233.5L177.8 235.8L179.2 241.7L180.8 240.5L182.7 245.2L185.1 239.4L186.7 239.8L189.1 235.8L191.4 227.6L193.1 211.1L194.5 185.2L196.1 162.9L197.3 173.5L198.5 174.6L200.1 204.1L202.0 237.0L203.6 248.8L206.2 251.8L210.2 252.3L218.0 252.3" stroke="#3a3a3a" stroke-width="0.8" fill="none" stroke-linejoin="round"/>
<path d="M144.3 190.3L144.3 193.9" stroke="#444" stroke-width="1.1" fill="none" />
<path d="M180.3 190.3L180.3 193.9" stroke="#444" stroke-width="1.1" fill="none" />
<path d="M144.3 192.1L180.3 192.1" stroke="#444" stroke-width="1.1" fill="none"/>
<text x="147.6" y="186.8" font-size="10.1" stroke="#000" stroke-width="0.12" textLength="30.5" lengthAdjust="spacingAndGlyphs">31.4%</text>
<text x="133.0" y="156.8" font-size="16.1" stroke="#000" stroke-width="0.1" textLength="75.9" lengthAdjust="spacingAndGlyphs">EV+CDDP</text>
<path d="M222.2 252.4v1.3M224.3 252.4v1.3M226.1 252.4v1.3M227.6 252.4v1.3M229.0 252.4v1.3M230.2 252.4v2.2M238.2 252.4v1.3M242.8 252.4v1.3M246.2 252.4v1.3M248.7 252.4v1.3M250.8 252.4v1.3M252.6 252.4v1.3M254.1 252.4v1.3M255.5 252.4v1.3M256.7 252.4v2.2M264.7 252.4v1.3M269.3 252.4v1.3M272.7 252.4v1.3M275.2 252.4v1.3M277.3 252.4v1.3M279.1 252.4v1.3M280.6 252.4v1.3M282.0 252.4v1.3M283.2 252.4v2.2M291.2 252.4v1.3M295.8 252.4v1.3M299.2 252.4v1.3M301.7 252.4v1.3M303.8 252.4v1.3M305.6 252.4v1.3M307.1 252.4v1.3M308.5 252.4v1.3M309.7 252.4v2.2" stroke="#222" stroke-width="0.8" fill="none"/>
<path d="M229.6 253.7h1.6" stroke="#333" stroke-width="1.6" fill="none"/>
<path d="M220.8 231.9h-2.4M220.8 211.4h-2.4M220.8 190.9h-2.4M220.8 170.4h-2.4M220.8 252.4h-1.1M220.8 248.3h-1.1M220.8 244.2h-1.1M220.8 240.1h-1.1M220.8 236.0h-1.1M220.8 231.9h-1.1M220.8 227.8h-1.1M220.8 223.7h-1.1M220.8 219.6h-1.1M220.8 215.5h-1.1M220.8 211.4h-1.1M220.8 207.3h-1.1M220.8 203.2h-1.1M220.8 199.1h-1.1M220.8 195.0h-1.1M220.8 190.9h-1.1M220.8 186.8h-1.1M220.8 182.7h-1.1M220.8 178.6h-1.1M220.8 174.5h-1.1M220.8 170.4h-1.1M220.8 166.3h-1.1M220.8 162.2h-1.1" stroke="#333" stroke-width="0.9" fill="none"/>
<rect x="220.4" y="160.4" width="92.3" height="92.0" fill="none" stroke="#777" stroke-width="0.8"/>
<path d="M222.0 252.3L243.5 252.0L244.9 250.8L246.5 252.0L251.6 251.8L255.2 249.9L257.5 244.1L258.7 240.5L260.4 241.2L262.0 228.8L263.4 234.6L264.6 240.5L266.2 225.2L268.1 220.5L270.0 217.7L271.6 227.6L274.0 238.2L275.6 237.0L277.1 244.1L278.7 245.2L280.6 237.0L282.7 220.5L285.1 212.3L286.9 192.3L288.1 179.4L289.8 187.6L290.9 175.8L292.1 161.7L293.3 167.6L294.5 168.8L295.9 192.3L297.5 222.9L299.2 241.7L301.5 247.6L304.6 251.8L312.0 252.3" stroke="#3a3a3a" stroke-width="0.8" fill="none" stroke-linejoin="round"/>
<path d="M240.4 190.7L240.4 194.3" stroke="#444" stroke-width="1.1" fill="none" />
<path d="M276.4 190.7L276.4 194.3" stroke="#444" stroke-width="1.1" fill="none" />
<path d="M240.4 192.5L276.4 192.5" stroke="#444" stroke-width="1.1" fill="none"/>
<text x="243.1" y="187.2" font-size="10.1" stroke="#000" stroke-width="0.12" textLength="30.6" lengthAdjust="spacingAndGlyphs">30.3%</text>
<text x="248.9" y="156.8" font-size="16.1" stroke="#000" stroke-width="0.1" textLength="34.7" lengthAdjust="spacingAndGlyphs">PID1</text>
<path d="M316.7 252.4v1.3M318.8 252.4v1.3M320.6 252.4v1.3M322.1 252.4v1.3M323.5 252.4v1.3M324.7 252.4v2.2M332.7 252.4v1.3M337.3 252.4v1.3M340.7 252.4v1.3M343.2 252.4v1.3M345.3 252.4v1.3M347.1 252.4v1.3M348.6 252.4v1.3M350.0 252.4v1.3M351.2 252.4v2.2M359.2 252.4v1.3M363.8 252.4v1.3M367.2 252.4v1.3M369.7 252.4v1.3M371.8 252.4v1.3M373.6 252.4v1.3M375.1 252.4v1.3M376.5 252.4v1.3M377.7 252.4v2.2M385.7 252.4v1.3M390.3 252.4v1.3M393.7 252.4v1.3M396.2 252.4v1.3M398.3 252.4v1.3M400.1 252.4v1.3M401.6 252.4v1.3M403.0 252.4v1.3M404.2 252.4v2.2" stroke="#222" stroke-width="0.8" fill="none"/>
<path d="M324.1 253.7h1.6" stroke="#333" stroke-width="1.6" fill="none"/>
<path d="M315.3 231.9h-2.4M315.3 211.4h-2.4M315.3 190.9h-2.4M315.3 170.4h-2.4M315.3 252.4h-1.1M315.3 248.3h-1.1M315.3 244.2h-1.1M315.3 240.1h-1.1M315.3 236.0h-1.1M315.3 231.9h-1.1M315.3 227.8h-1.1M315.3 223.7h-1.1M315.3 219.6h-1.1M315.3 215.5h-1.1M315.3 211.4h-1.1M315.3 207.3h-1.1M315.3 203.2h-1.1M315.3 199.1h-1.1M315.3 195.0h-1.1M315.3 190.9h-1.1M315.3 186.8h-1.1M315.3 182.7h-1.1M315.3 178.6h-1.1M315.3 174.5h-1.1M315.3 170.4h-1.1M315.3 166.3h-1.1M315.3 162.2h-1.1" stroke="#333" stroke-width="0.9" fill="none"/>
<rect x="314.9" y="160.4" width="91.8" height="92.0" fill="none" stroke="#777" stroke-width="0.8"/>
<path d="M315.0 252.3L347.2 252.3L350.7 247.6L353.1 240.5L355.4 229.9L357.1 215.8L358.2 204.1L359.6 212.3L361.3 203.6L362.5 212.3L363.9 209.9L365.3 218.2L367.2 232.3L369.5 238.2L371.9 244.1L374.2 247.6L376.6 245.2L378.9 237.0L381.3 213.5L383.6 178.2L385.5 162.9L387.2 173.5L388.8 204.1L390.7 234.6L392.6 248.8L395.4 252.3L405.0 252.3" stroke="#3a3a3a" stroke-width="0.8" fill="none" stroke-linejoin="round"/>
<path d="M336.2 190.9L336.2 194.5" stroke="#444" stroke-width="1.1" fill="none" />
<path d="M372.1 190.9L372.1 194.5" stroke="#444" stroke-width="1.1" fill="none" />
<path d="M336.2 192.7L372.1 192.7" stroke="#444" stroke-width="1.1" fill="none"/>
<text x="340.3" y="187.6" font-size="10.1" stroke="#000" stroke-width="0.12" textLength="30.2" lengthAdjust="spacingAndGlyphs">45.7%</text>
<text x="316.1" y="156.8" font-size="16.1" stroke="#000" stroke-width="0.1" textLength="90.8" lengthAdjust="spacingAndGlyphs">PID1+CDDP</text>
<text transform="translate(13.8,245.8) rotate(-90)" font-size="16.8" textLength="73.7" lengthAdjust="spacingAndGlyphs">UW-228-2</text>
<path d="M24.4 266.3L71.1 266.3" stroke="#000" stroke-width="1.3" fill="none"/>
<path d="M75.1 266.3L68.1 263.6L68.1 269.0Z" fill="#000"/>
<text x="78.0" y="270.7" font-size="12.0" stroke="#000" stroke-width="0.15" textLength="45.9" lengthAdjust="spacingAndGlyphs">DiIC1(5)</text>
<path d="M34.2 402.0v1.3M36.3 402.0v1.3M38.1 402.0v1.3M39.6 402.0v1.3M41.0 402.0v1.3M42.2 402.0v2.2M50.2 402.0v1.3M54.8 402.0v1.3M58.2 402.0v1.3M60.7 402.0v1.3M62.8 402.0v1.3M64.6 402.0v1.3M66.1 402.0v1.3M67.5 402.0v1.3M68.7 402.0v2.2M76.7 402.0v1.3M81.3 402.0v1.3M84.7 402.0v1.3M87.2 402.0v1.3M89.3 402.0v1.3M91.1 402.0v1.3M92.6 402.0v1.3M94.0 402.0v1.3M95.2 402.0v2.2M103.2 402.0v1.3M107.8 402.0v1.3M111.2 402.0v1.3M113.7 402.0v1.3M115.8 402.0v1.3M117.6 402.0v1.3M119.1 402.0v1.3M120.5 402.0v1.3M121.7 402.0v2.2" stroke="#222" stroke-width="0.8" fill="none"/>
<path d="M41.6 403.3h1.6" stroke="#333" stroke-width="1.6" fill="none"/>
<path d="M32.8 385.0h-2.4M32.8 368.0h-2.4M32.8 351.0h-2.4M32.8 334.0h-2.4M32.8 317.0h-2.4M32.8 402.0h-1.1M32.8 398.6h-1.1M32.8 395.2h-1.1M32.8 391.8h-1.1M32.8 388.4h-1.1M32.8 385.0h-1.1M32.8 381.6h-1.1M32.8 378.2h-1.1M32.8 374.8h-1.1M32.8 371.4h-1.1M32.8 368.0h-1.1M32.8 364.6h-1.1M32.8 361.2h-1.1M32.8 357.8h-1.1M32.8 354.4h-1.1M32.8 351.0h-1.1M32.8 347.6h-1.1M32.8 344.2h-1.1M32.8 340.8h-1.1M32.8 337.4h-1.1M32.8 334.0h-1.1M32.8 330.6h-1.1M32.8 327.2h-1.1M32.8 323.8h-1.1M32.8 320.4h-1.1M32.8 317.0h-1.1M32.8 313.6h-1.1" stroke="#333" stroke-width="0.9" fill="none"/>
<rect x="32.4" y="311.0" width="92.9" height="91.0" fill="none" stroke="#777" stroke-width="0.8"/>
<path d="M33.0 401.9L50.0 401.9L52.4 397.9L54.2 385.0L55.9 363.8L57.1 340.3L57.8 332.1L58.5 333.2L59.4 316.8L60.1 314.9L60.8 326.2L62.2 340.3L64.1 366.2L65.8 380.3L67.6 390.9L69.5 396.3L71.2 396.3L72.8 394.4L74.7 396.8L77.1 398.6L80.6 401.5L84.1 401.9L124.0 401.9" stroke="#3a3a3a" stroke-width="0.8" fill="none" stroke-linejoin="round"/>
<path d="M69.5 348.8L69.5 355.2" stroke="#444" stroke-width="1.3" fill="none" />
<path d="M104.8 348.8L104.8 355.2" stroke="#444" stroke-width="1.3" fill="none" />
<path d="M69.5 352.0L104.8 352.0" stroke="#444" stroke-width="1.3" fill="none"/>
<text x="74.2" y="346.4" font-size="11.5" stroke="#000" stroke-width="0.12" textLength="28.7" lengthAdjust="spacingAndGlyphs">5.9%</text>
<text x="66.3" y="306.2" font-size="16.1" stroke="#000" stroke-width="0.1" textLength="21.0" lengthAdjust="spacingAndGlyphs">EV</text>
<path d="M129.0 402.0v1.3M131.1 402.0v1.3M132.9 402.0v1.3M134.4 402.0v1.3M135.8 402.0v1.3M137.0 402.0v2.2M145.0 402.0v1.3M149.6 402.0v1.3M153.0 402.0v1.3M155.5 402.0v1.3M157.6 402.0v1.3M159.4 402.0v1.3M160.9 402.0v1.3M162.3 402.0v1.3M163.5 402.0v2.2M171.5 402.0v1.3M176.1 402.0v1.3M179.5 402.0v1.3M182.0 402.0v1.3M184.1 402.0v1.3M185.9 402.0v1.3M187.4 402.0v1.3M188.8 402.0v1.3M190.0 402.0v2.2M198.0 402.0v1.3M202.6 402.0v1.3M206.0 402.0v1.3M208.5 402.0v1.3M210.6 402.0v1.3M212.4 402.0v1.3M213.9 402.0v1.3M215.3 402.0v1.3M216.5 402.0v2.2" stroke="#222" stroke-width="0.8" fill="none"/>
<path d="M136.4 403.3h1.6" stroke="#333" stroke-width="1.6" fill="none"/>
<path d="M127.6 385.0h-2.4M127.6 368.0h-2.4M127.6 351.0h-2.4M127.6 334.0h-2.4M127.6 317.0h-2.4M127.6 402.0h-1.1M127.6 398.6h-1.1M127.6 395.2h-1.1M127.6 391.8h-1.1M127.6 388.4h-1.1M127.6 385.0h-1.1M127.6 381.6h-1.1M127.6 378.2h-1.1M127.6 374.8h-1.1M127.6 371.4h-1.1M127.6 368.0h-1.1M127.6 364.6h-1.1M127.6 361.2h-1.1M127.6 357.8h-1.1M127.6 354.4h-1.1M127.6 351.0h-1.1M127.6 347.6h-1.1M127.6 344.2h-1.1M127.6 340.8h-1.1M127.6 337.4h-1.1M127.6 334.0h-1.1M127.6 330.6h-1.1M127.6 327.2h-1.1M127.6 323.8h-1.1M127.6 320.4h-1.1M127.6 317.0h-1.1M127.6 313.6h-1.1" stroke="#333" stroke-width="0.9" fill="none"/>
<rect x="127.2" y="311.0" width="92.1" height="91.0" fill="none" stroke="#777" stroke-width="0.8"/>
<path d="M128.0 401.9L144.4 401.9L146.7 399.1L148.4 387.4L149.8 363.8L151.2 335.6L152.6 321.5L153.8 316.8L154.5 321.5L155.4 315.6L156.4 326.2L157.8 340.3L159.2 347.4L160.8 366.2L162.5 375.6L164.4 383.8L165.5 381.5L166.7 386.2L169.1 389.7L171.9 393.2L174.9 397.9L178.5 401.5L182.0 401.9L218.0 401.9" stroke="#3a3a3a" stroke-width="0.8" fill="none" stroke-linejoin="round"/>
<path d="M164.9 349.1L164.9 355.5" stroke="#444" stroke-width="1.3" fill="none" />
<path d="M200.3 349.1L200.3 355.5" stroke="#444" stroke-width="1.3" fill="none" />
<path d="M164.9 352.3L200.3 352.3" stroke="#444" stroke-width="1.3" fill="none"/>
<text x="166.0" y="346.4" font-size="11.5" stroke="#000" stroke-width="0.12" textLength="34.3" lengthAdjust="spacingAndGlyphs">11.9%</text>
<text x="133.0" y="306.2" font-size="16.1" stroke="#000" stroke-width="0.1" textLength="76.4" lengthAdjust="spacingAndGlyphs">EV+CDDP</text>
<path d="M223.3 402.0v1.3M225.4 402.0v1.3M227.2 402.0v1.3M228.7 402.0v1.3M230.1 402.0v1.3M231.3 402.0v2.2M239.3 402.0v1.3M243.9 402.0v1.3M247.3 402.0v1.3M249.8 402.0v1.3M251.9 402.0v1.3M253.7 402.0v1.3M255.2 402.0v1.3M256.6 402.0v1.3M257.8 402.0v2.2M265.8 402.0v1.3M270.4 402.0v1.3M273.8 402.0v1.3M276.3 402.0v1.3M278.4 402.0v1.3M280.2 402.0v1.3M281.7 402.0v1.3M283.1 402.0v1.3M284.3 402.0v2.2M292.3 402.0v1.3M296.9 402.0v1.3M300.3 402.0v1.3M302.8 402.0v1.3M304.9 402.0v1.3M306.7 402.0v1.3M308.2 402.0v1.3M309.6 402.0v1.3M310.8 402.0v2.2" stroke="#222" stroke-width="0.8" fill="none"/>
<path d="M230.7 403.3h1.6" stroke="#333" stroke-width="1.6" fill="none"/>
<path d="M221.9 385.0h-2.4M221.9 368.0h-2.4M221.9 351.0h-2.4M221.9 334.0h-2.4M221.9 317.0h-2.4M221.9 402.0h-1.1M221.9 398.6h-1.1M221.9 395.2h-1.1M221.9 391.8h-1.1M221.9 388.4h-1.1M221.9 385.0h-1.1M221.9 381.6h-1.1M221.9 378.2h-1.1M221.9 374.8h-1.1M221.9 371.4h-1.1M221.9 368.0h-1.1M221.9 364.6h-1.1M221.9 361.2h-1.1M221.9 357.8h-1.1M221.9 354.4h-1.1M221.9 351.0h-1.1M221.9 347.6h-1.1M221.9 344.2h-1.1M221.9 340.8h-1.1M221.9 337.4h-1.1M221.9 334.0h-1.1M221.9 330.6h-1.1M221.9 327.2h-1.1M221.9 323.8h-1.1M221.9 320.4h-1.1M221.9 317.0h-1.1M221.9 313.6h-1.1" stroke="#333" stroke-width="0.9" fill="none"/>
<rect x="221.5" y="311.0" width="92.0" height="91.0" fill="none" stroke="#777" stroke-width="0.8"/>
<path d="M222.0 401.9L236.4 401.9L239.9 400.3L241.8 392.1L243.4 375.6L245.1 352.1L246.5 333.2L247.6 328.5L248.6 319.1L249.3 315.6L250.0 326.2L251.2 337.9L252.8 352.1L254.5 370.9L256.4 387.4L258.2 394.4L259.9 396.3L261.8 394.4L264.6 395.6L267.6 396.3L270.5 397.9L274.0 400.3L277.5 401.5L279.9 400.3L282.2 401.5L284.6 401.9L313.0 401.9" stroke="#3a3a3a" stroke-width="0.8" fill="none" stroke-linejoin="round"/>
<path d="M257.5 349.1L257.5 355.5" stroke="#444" stroke-width="1.3" fill="none" />
<path d="M292.8 349.1L292.8 355.5" stroke="#444" stroke-width="1.3" fill="none" />
<path d="M257.5 352.3L292.8 352.3" stroke="#444" stroke-width="1.3" fill="none"/>
<text x="258.3" y="346.4" font-size="11.5" stroke="#000" stroke-width="0.12" textLength="34.3" lengthAdjust="spacingAndGlyphs">11.2%</text>
<text x="248.9" y="306.2" font-size="16.1" stroke="#000" stroke-width="0.1" textLength="34.7" lengthAdjust="spacingAndGlyphs">PID1</text>
<path d="M317.2 402.0v1.3M319.3 402.0v1.3M321.1 402.0v1.3M322.6 402.0v1.3M324.0 402.0v1.3M325.2 402.0v2.2M333.2 402.0v1.3M337.8 402.0v1.3M341.2 402.0v1.3M343.7 402.0v1.3M345.8 402.0v1.3M347.6 402.0v1.3M349.1 402.0v1.3M350.5 402.0v1.3M351.7 402.0v2.2M359.7 402.0v1.3M364.3 402.0v1.3M367.7 402.0v1.3M370.2 402.0v1.3M372.3 402.0v1.3M374.1 402.0v1.3M375.6 402.0v1.3M377.0 402.0v1.3M378.2 402.0v2.2M386.2 402.0v1.3M390.8 402.0v1.3M394.2 402.0v1.3M396.7 402.0v1.3M398.8 402.0v1.3M400.6 402.0v1.3M402.1 402.0v1.3M403.5 402.0v1.3M404.7 402.0v2.2" stroke="#222" stroke-width="0.8" fill="none"/>
<path d="M324.6 403.3h1.6" stroke="#333" stroke-width="1.6" fill="none"/>
<path d="M315.8 385.0h-2.4M315.8 368.0h-2.4M315.8 351.0h-2.4M315.8 334.0h-2.4M315.8 317.0h-2.4M315.8 402.0h-1.1M315.8 398.6h-1.1M315.8 395.2h-1.1M315.8 391.8h-1.1M315.8 388.4h-1.1M315.8 385.0h-1.1M315.8 381.6h-1.1M315.8 378.2h-1.1M315.8 374.8h-1.1M315.8 371.4h-1.1M315.8 368.0h-1.1M315.8 364.6h-1.1M315.8 361.2h-1.1M315.8 357.8h-1.1M315.8 354.4h-1.1M315.8 351.0h-1.1M315.8 347.6h-1.1M315.8 344.2h-1.1M315.8 340.8h-1.1M315.8 337.4h-1.1M315.8 334.0h-1.1M315.8 330.6h-1.1M315.8 327.2h-1.1M315.8 323.8h-1.1M315.8 320.4h-1.1M315.8 317.0h-1.1M315.8 313.6h-1.1" stroke="#333" stroke-width="0.9" fill="none"/>
<rect x="315.4" y="311.0" width="92.0" height="91.0" fill="none" stroke="#777" stroke-width="0.8"/>
<path d="M316.0 401.9L331.2 401.9L334.7 399.1L336.6 389.7L338.2 370.9L339.6 347.4L341.1 326.2L342.2 314.9L343.4 321.5L344.6 328.5L345.3 336.8L346.2 328.5L347.2 340.3L348.8 363.8L350.5 377.9L352.4 385.0L354.7 388.5L356.4 383.8L357.8 386.2L359.4 381.5L361.3 386.2L363.4 390.9L365.3 393.2L367.2 393.9L369.3 397.9L371.6 401.0L375.9 401.9L407.0 401.9" stroke="#3a3a3a" stroke-width="0.8" fill="none" stroke-linejoin="round"/>
<path d="M352.4 347.6L352.4 354.0" stroke="#444" stroke-width="1.3" fill="none" />
<path d="M387.8 347.6L387.8 354.0" stroke="#444" stroke-width="1.3" fill="none" />
<path d="M352.4 350.8L387.8 350.8" stroke="#444" stroke-width="1.3" fill="none"/>
<text x="354.7" y="344.4" font-size="11.5" stroke="#000" stroke-width="0.12" textLength="35.7" lengthAdjust="spacingAndGlyphs">21.3%</text>
<text x="316.3" y="306.2" font-size="16.1" stroke="#000" stroke-width="0.1" textLength="90.6" lengthAdjust="spacingAndGlyphs">PID1+CDDP</text>
<text transform="translate(14.2,380.8) rotate(-90)" font-size="16.4" textLength="47.1" lengthAdjust="spacingAndGlyphs">LN229</text>
<path d="M25.0 415.9L70.9 415.9" stroke="#000" stroke-width="1.3" fill="none"/>
<path d="M74.9 415.9L67.9 413.2L67.9 418.6Z" fill="#000"/>
<text x="79.4" y="420.2" font-size="12.0" stroke="#000" stroke-width="0.15" textLength="102.4" lengthAdjust="spacingAndGlyphs">Cleaved caspase3</text>
<rect x="457.5" y="79.9" width="15.2" height="24.9" fill="#fff" stroke="#111" stroke-width="1.2"/>
<path d="M484.4 66.0L484.4 63.4" stroke="#b9b9b9" stroke-width="1.2" fill="none"/>
<path d="M480.2 63.4L488.6 63.4" stroke="#b9b9b9" stroke-width="1.3" fill="none"/>
<rect x="476.0" y="66.0" width="16.9" height="38.8" fill="#b9b9b9" stroke="none" stroke-width="0"/>
<path d="M503.9 75.3L503.9 71.6" stroke="#111" stroke-width="1.2" fill="none"/>
<path d="M499.8 71.6L508.1 71.6" stroke="#111" stroke-width="1.3" fill="none"/>
<clipPath id="c1"><rect x="496.2" y="75.9" width="15.5" height="28.9"/></clipPath>
<g filter="url(#ct)"><rect x="496.2" y="75.9" width="15.5" height="28.9" fill="#fff"/><path d="M460.62 75.27l35.21 31.53M463.19 75.27l35.21 31.53M465.76 75.27l35.21 31.53M468.33 75.27l35.21 31.53M470.90 75.27l35.21 31.53M473.47 75.27l35.21 31.53M476.04 75.27l35.21 31.53M478.61 75.27l35.21 31.53M481.18 75.27l35.21 31.53M483.75 75.27l35.21 31.53M486.32 75.27l35.21 31.53M488.89 75.27l35.21 31.53M491.46 75.27l35.21 31.53M494.03 75.27l35.21 31.53M496.60 75.27l35.21 31.53M499.17 75.27l35.21 31.53M501.74 75.27l35.21 31.53M504.31 75.27l35.21 31.53M506.88 75.27l35.21 31.53M509.45 75.27l35.21 31.53M512.02 75.27l35.21 31.53" stroke="#000" stroke-width="0.85" fill="none" clip-path="url(#c1)"/></g>
<rect x="496.2" y="75.9" width="15.5" height="28.9" fill="none" stroke="#000" stroke-width="1.2"/>
<path d="M523.2 41.6L523.2 37.7" stroke="#111" stroke-width="1.2" fill="none"/>
<path d="M519.0 37.7L527.5 37.7" stroke="#111" stroke-width="1.3" fill="none"/>
<rect x="515.5" y="42.2" width="15.5" height="62.6" fill="#000" stroke="#111" stroke-width="1.2"/>
<path d="M455.6 26.6L455.6 105.4" stroke="#111" stroke-width="1.3" fill="none"/>
<path d="M455.0 104.8L531.9 104.8" stroke="#111" stroke-width="1.3" fill="none"/>
<path d="M452.0 104.8L455.6 104.8" stroke="#111" stroke-width="1.2" fill="none"/>
<text x="452.2" y="108.7" font-size="11.3" stroke="#000" stroke-width="0.12" text-anchor="end" textLength="6.1" lengthAdjust="spacingAndGlyphs">0</text>
<path d="M452.0 78.9L455.6 78.9" stroke="#111" stroke-width="1.2" fill="none"/>
<text x="452.2" y="82.8" font-size="11.3" stroke="#000" stroke-width="0.12" text-anchor="end" textLength="6.1" lengthAdjust="spacingAndGlyphs">1</text>
<path d="M452.0 53.0L455.6 53.0" stroke="#111" stroke-width="1.2" fill="none"/>
<text x="452.2" y="56.9" font-size="11.3" stroke="#000" stroke-width="0.12" text-anchor="end" textLength="6.1" lengthAdjust="spacingAndGlyphs">2</text>
<path d="M452.0 27.1L455.6 27.1" stroke="#111" stroke-width="1.2" fill="none"/>
<text x="452.2" y="31.0" font-size="11.3" stroke="#000" stroke-width="0.12" text-anchor="end" textLength="6.1" lengthAdjust="spacingAndGlyphs">3</text>
<text x="426.3" y="117.5" font-size="10.6" stroke="#000" stroke-width="0.1" textLength="29.0" lengthAdjust="spacingAndGlyphs">CDDP</text>
<text x="462.6" y="114.4" font-size="11.0" stroke="#000" stroke-width="0.35" textLength="4.6" lengthAdjust="spacingAndGlyphs">-</text>
<text x="481.7" y="114.4" font-size="9.6" stroke="#000" stroke-width="0.35" textLength="6.0" lengthAdjust="spacingAndGlyphs">+</text>
<text x="502.1" y="114.4" font-size="11.0" stroke="#000" stroke-width="0.35" textLength="4.6" lengthAdjust="spacingAndGlyphs">-</text>
<text x="520.3" y="114.4" font-size="9.6" stroke="#000" stroke-width="0.35" textLength="6.0" lengthAdjust="spacingAndGlyphs">+</text>
<path d="M460.0 117.6L489.3 117.6" stroke="#111" stroke-width="1.1" fill="none"/>
<path d="M498.2 117.6L527.6 117.6" stroke="#111" stroke-width="1.1" fill="none"/>
<text x="473.7" y="127.6" font-size="10.8" stroke="#000" stroke-width="0.1" text-anchor="middle" textLength="14.5" lengthAdjust="spacingAndGlyphs">EV</text>
<text x="513.3" y="127.6" font-size="10.8" stroke="#000" stroke-width="0.1" text-anchor="middle" textLength="24.0" lengthAdjust="spacingAndGlyphs">PID1</text>
<path d="M484.0 50.4L484.0 16.2L523.0 16.2L523.0 20.0" stroke="#000" stroke-width="1.3" fill="none" />
<path d="M503.7 44.6L503.7 32.1L523.0 32.1L523.0 35.3" stroke="#000" stroke-width="1.3" fill="none" />
<text x="476.0" y="12.8" font-size="10.3" stroke="#000" stroke-width="0.12" textLength="45.7" lengthAdjust="spacingAndGlyphs">p=0.0036</text>
<text x="488.2" y="28.9" font-size="10.3" stroke="#000" stroke-width="0.12" textLength="44.0" lengthAdjust="spacingAndGlyphs">p=0.0011</text>
<text transform="translate(430.4,89.1) rotate(-90)" font-size="10.5" stroke="#000" stroke-width="0.12" textLength="51.1" lengthAdjust="spacingAndGlyphs">AnnexinV+</text>
<text transform="translate(442.8,93.4) rotate(-90)" font-size="10.5" stroke="#000" stroke-width="0.12" textLength="56.5" lengthAdjust="spacingAndGlyphs">Fold change</text>
<rect x="597.7" y="79.7" width="14.6" height="26.1" fill="#fff" stroke="#111" stroke-width="1.2"/>
<path d="M624.0 69.9L624.0 68.6" stroke="#b9b9b9" stroke-width="1.2" fill="none"/>
<path d="M619.8 68.6L628.2 68.6" stroke="#b9b9b9" stroke-width="1.3" fill="none"/>
<rect x="616.1" y="69.9" width="15.9" height="35.9" fill="#b9b9b9" stroke="none" stroke-width="0"/>
<path d="M642.9 74.7L642.9 73.9" stroke="#111" stroke-width="1.2" fill="none"/>
<path d="M638.7 73.9L647.1 73.9" stroke="#111" stroke-width="1.3" fill="none"/>
<clipPath id="c2"><rect x="635.6" y="75.3" width="14.6" height="30.5"/></clipPath>
<g filter="url(#ct)"><rect x="635.6" y="75.3" width="14.6" height="30.5" fill="#fff"/><path d="M598.26 74.69l36.98 33.11M600.83 74.69l36.98 33.11M603.40 74.69l36.98 33.11M605.97 74.69l36.98 33.11M608.54 74.69l36.98 33.11M611.11 74.69l36.98 33.11M613.68 74.69l36.98 33.11M616.25 74.69l36.98 33.11M618.82 74.69l36.98 33.11M621.39 74.69l36.98 33.11M623.96 74.69l36.98 33.11M626.53 74.69l36.98 33.11M629.10 74.69l36.98 33.11M631.67 74.69l36.98 33.11M634.24 74.69l36.98 33.11M636.81 74.69l36.98 33.11M639.38 74.69l36.98 33.11M641.95 74.69l36.98 33.11M644.52 74.69l36.98 33.11M647.09 74.69l36.98 33.11M649.66 74.69l36.98 33.11M652.23 74.69l36.98 33.11" stroke="#000" stroke-width="0.85" fill="none" clip-path="url(#c2)"/></g>
<rect x="635.6" y="75.3" width="14.6" height="30.5" fill="none" stroke="#000" stroke-width="1.2"/>
<path d="M661.6 46.5L661.6 39.9" stroke="#111" stroke-width="1.2" fill="none"/>
<path d="M657.4 39.9L665.9 39.9" stroke="#111" stroke-width="1.3" fill="none"/>
<rect x="654.4" y="47.1" width="14.5" height="58.7" fill="#000" stroke="#111" stroke-width="1.2"/>
<path d="M596.1 25.0L596.1 106.4" stroke="#111" stroke-width="1.3" fill="none"/>
<path d="M595.5 105.8L669.8 105.8" stroke="#111" stroke-width="1.3" fill="none"/>
<path d="M592.5 105.8L596.1 105.8" stroke="#111" stroke-width="1.2" fill="none"/>
<text x="593.2" y="109.7" font-size="11.3" stroke="#000" stroke-width="0.12" text-anchor="end" textLength="6.1" lengthAdjust="spacingAndGlyphs">0</text>
<path d="M592.5 79.1L596.1 79.1" stroke="#111" stroke-width="1.2" fill="none"/>
<text x="593.2" y="83.0" font-size="11.3" stroke="#000" stroke-width="0.12" text-anchor="end" textLength="6.1" lengthAdjust="spacingAndGlyphs">1</text>
<path d="M592.5 52.4L596.1 52.4" stroke="#111" stroke-width="1.2" fill="none"/>
<text x="593.2" y="56.3" font-size="11.3" stroke="#000" stroke-width="0.12" text-anchor="end" textLength="6.1" lengthAdjust="spacingAndGlyphs">2</text>
<path d="M592.5 25.7L596.1 25.7" stroke="#111" stroke-width="1.2" fill="none"/>
<text x="593.2" y="29.6" font-size="11.3" stroke="#000" stroke-width="0.12" text-anchor="end" textLength="6.1" lengthAdjust="spacingAndGlyphs">3</text>
<path d="M594.1 92.5L596.1 92.5" stroke="#111" stroke-width="1.0" fill="none"/>
<path d="M594.1 65.8L596.1 65.8" stroke="#111" stroke-width="1.0" fill="none"/>
<path d="M594.1 39.0L596.1 39.0" stroke="#111" stroke-width="1.0" fill="none"/>
<text x="569.3" y="118.3" font-size="10.6" stroke="#000" stroke-width="0.1" textLength="28.6" lengthAdjust="spacingAndGlyphs">ETOP</text>
<text x="602.5" y="114.5" font-size="11.0" stroke="#000" stroke-width="0.35" textLength="4.6" lengthAdjust="spacingAndGlyphs">-</text>
<text x="620.4" y="114.5" font-size="9.6" stroke="#000" stroke-width="0.35" textLength="6.0" lengthAdjust="spacingAndGlyphs">+</text>
<text x="640.7" y="114.5" font-size="11.0" stroke="#000" stroke-width="0.35" textLength="4.6" lengthAdjust="spacingAndGlyphs">-</text>
<text x="658.7" y="114.5" font-size="9.6" stroke="#000" stroke-width="0.35" textLength="6.0" lengthAdjust="spacingAndGlyphs">+</text>
<path d="M599.4 117.3L627.5 117.3" stroke="#111" stroke-width="1.1" fill="none"/>
<path d="M637.1 117.3L665.2 117.3" stroke="#111" stroke-width="1.1" fill="none"/>
<text x="613.2" y="128.7" font-size="10.8" stroke="#000" stroke-width="0.1" text-anchor="middle" textLength="14.5" lengthAdjust="spacingAndGlyphs">EV</text>
<text x="652.0" y="128.7" font-size="10.8" stroke="#000" stroke-width="0.1" text-anchor="middle" textLength="24.0" lengthAdjust="spacingAndGlyphs">PID1</text>
<path d="M622.7 38.6L622.7 20.6L659.7 20.6L659.7 22.6" stroke="#000" stroke-width="1.3" fill="none" />
<path d="M642.4 45.3L642.4 36.7L660.0 36.7L660.0 38.4" stroke="#000" stroke-width="1.3" fill="none" />
<text x="620.1" y="17.8" font-size="10.3" stroke="#000" stroke-width="0.12" textLength="38.4" lengthAdjust="spacingAndGlyphs">p=0.013</text>
<text x="630.3" y="33.2" font-size="10.3" stroke="#000" stroke-width="0.12" textLength="38.1" lengthAdjust="spacingAndGlyphs">p=0.006</text>
<text transform="translate(573.2,88.0) rotate(-90)" font-size="10.5" stroke="#000" stroke-width="0.12" textLength="53.9" lengthAdjust="spacingAndGlyphs">AnnexinV+,</text>
<text transform="translate(583.9,91.1) rotate(-90)" font-size="10.5" stroke="#000" stroke-width="0.12" textLength="53.5" lengthAdjust="spacingAndGlyphs">Fold change</text>
<g transform="translate(0,0.3)">
<path d="M465.5 212.6L465.5 210.4" stroke="#111" stroke-width="1.2" fill="none"/>
<path d="M461.3 210.4L469.7 210.4" stroke="#111" stroke-width="1.3" fill="none"/>
<rect x="457.5" y="213.2" width="16.0" height="41.5" fill="#fff" stroke="#111" stroke-width="1.2"/>
<path d="M486.1 198.1L486.1 193.9" stroke="#b9b9b9" stroke-width="1.2" fill="none"/>
<path d="M481.9 193.9L490.3 193.9" stroke="#b9b9b9" stroke-width="1.3" fill="none"/>
<rect x="477.6" y="198.1" width="17.0" height="56.6" fill="#b9b9b9" stroke="none" stroke-width="0"/>
<path d="M507.0 204.3L507.0 201.2" stroke="#111" stroke-width="1.2" fill="none"/>
<path d="M502.8 201.2L511.2 201.2" stroke="#111" stroke-width="1.3" fill="none"/>
<clipPath id="c3"><rect x="499.0" y="204.9" width="16.0" height="49.8"/></clipPath>
<g filter="url(#ct)"><rect x="499.0" y="204.9" width="16.0" height="49.8" fill="#fff"/><path d="M440.15 204.34l58.49 52.36M442.72 204.34l58.49 52.36M445.29 204.34l58.49 52.36M447.86 204.34l58.49 52.36M450.43 204.34l58.49 52.36M453.00 204.34l58.49 52.36M455.57 204.34l58.49 52.36M458.14 204.34l58.49 52.36M460.71 204.34l58.49 52.36M463.28 204.34l58.49 52.36M465.85 204.34l58.49 52.36M468.42 204.34l58.49 52.36M470.99 204.34l58.49 52.36M473.56 204.34l58.49 52.36M476.13 204.34l58.49 52.36M478.70 204.34l58.49 52.36M481.27 204.34l58.49 52.36M483.84 204.34l58.49 52.36M486.41 204.34l58.49 52.36M488.98 204.34l58.49 52.36M491.55 204.34l58.49 52.36M494.12 204.34l58.49 52.36M496.69 204.34l58.49 52.36M499.26 204.34l58.49 52.36M501.83 204.34l58.49 52.36M504.40 204.34l58.49 52.36M506.97 204.34l58.49 52.36M509.54 204.34l58.49 52.36M512.11 204.34l58.49 52.36M514.68 204.34l58.49 52.36M517.25 204.34l58.49 52.36" stroke="#000" stroke-width="0.85" fill="none" clip-path="url(#c3)"/></g>
<rect x="499.0" y="204.9" width="16.0" height="49.8" fill="none" stroke="#000" stroke-width="1.2"/>
<path d="M527.7 182.5L527.7 179.9" stroke="#111" stroke-width="1.2" fill="none"/>
<path d="M523.5 179.9L531.9 179.9" stroke="#111" stroke-width="1.3" fill="none"/>
<rect x="519.3" y="183.1" width="16.8" height="71.6" fill="#000" stroke="#111" stroke-width="1.2"/>
<path d="M455.4 171.6L455.4 255.3" stroke="#111" stroke-width="1.3" fill="none"/>
<path d="M454.8 254.7L537.0 254.7" stroke="#111" stroke-width="1.3" fill="none"/>
<path d="M451.8 254.7L455.4 254.7" stroke="#111" stroke-width="1.2" fill="none"/>
<text x="452.0" y="258.6" font-size="11.3" stroke="#000" stroke-width="0.12" text-anchor="end" textLength="6.1" lengthAdjust="spacingAndGlyphs">0</text>
<path d="M451.8 236.3L455.4 236.3" stroke="#111" stroke-width="1.2" fill="none"/>
<text x="452.0" y="240.2" font-size="11.3" stroke="#000" stroke-width="0.12" text-anchor="end" textLength="12.2" lengthAdjust="spacingAndGlyphs">10</text>
<path d="M451.8 217.9L455.4 217.9" stroke="#111" stroke-width="1.2" fill="none"/>
<text x="452.0" y="221.8" font-size="11.3" stroke="#000" stroke-width="0.12" text-anchor="end" textLength="12.2" lengthAdjust="spacingAndGlyphs">20</text>
<path d="M451.8 199.6L455.4 199.6" stroke="#111" stroke-width="1.2" fill="none"/>
<text x="452.0" y="203.5" font-size="11.3" stroke="#000" stroke-width="0.12" text-anchor="end" textLength="12.2" lengthAdjust="spacingAndGlyphs">30</text>
<path d="M451.8 181.2L455.4 181.2" stroke="#111" stroke-width="1.2" fill="none"/>
<text x="452.0" y="185.1" font-size="11.3" stroke="#000" stroke-width="0.12" text-anchor="end" textLength="12.2" lengthAdjust="spacingAndGlyphs">40</text>
<path d="M453.4 245.5L455.4 245.5" stroke="#111" stroke-width="1.0" fill="none"/>
<path d="M453.4 227.1L455.4 227.1" stroke="#111" stroke-width="1.0" fill="none"/>
<path d="M453.4 208.8L455.4 208.8" stroke="#111" stroke-width="1.0" fill="none"/>
<path d="M453.4 190.4L455.4 190.4" stroke="#111" stroke-width="1.0" fill="none"/>
<path d="M453.4 172.0L455.4 172.0" stroke="#111" stroke-width="1.0" fill="none"/>
<text x="423.1" y="268.1" font-size="10.6" stroke="#000" stroke-width="0.1" textLength="32.9" lengthAdjust="spacingAndGlyphs">CDDP</text>
<text x="463.5" y="264.6" font-size="11.0" stroke="#000" stroke-width="0.35" textLength="4.6" lengthAdjust="spacingAndGlyphs">-</text>
<text x="482.9" y="264.6" font-size="9.6" stroke="#000" stroke-width="0.35" textLength="6.0" lengthAdjust="spacingAndGlyphs">+</text>
<text x="504.4" y="264.6" font-size="11.0" stroke="#000" stroke-width="0.35" textLength="4.6" lengthAdjust="spacingAndGlyphs">-</text>
<text x="524.8" y="264.6" font-size="9.6" stroke="#000" stroke-width="0.35" textLength="6.0" lengthAdjust="spacingAndGlyphs">+</text>
<path d="M460.0 268.0L491.1 268.0" stroke="#111" stroke-width="1.1" fill="none"/>
<path d="M501.5 268.0L532.6 268.0" stroke="#111" stroke-width="1.1" fill="none"/>
<text x="474.5" y="279.6" font-size="10.8" stroke="#000" stroke-width="0.1" text-anchor="middle" textLength="14.5" lengthAdjust="spacingAndGlyphs">EV</text>
<text x="517.0" y="279.6" font-size="10.8" stroke="#000" stroke-width="0.1" text-anchor="middle" textLength="24.0" lengthAdjust="spacingAndGlyphs">PID1</text>
<path d="M485.8 180.7L485.8 160.7L528.3 160.7L528.3 162.6" stroke="#000" stroke-width="1.3" fill="none" />
<path d="M505.9 183.2L505.9 177.2L528.5 177.2L528.5 178.6" stroke="#000" stroke-width="1.3" fill="none" />
<text x="481.3" y="157.8" font-size="10.3" stroke="#000" stroke-width="0.12" textLength="48.9" lengthAdjust="spacingAndGlyphs">p=0.0098</text>
<text x="489.0" y="172.7" font-size="10.3" stroke="#000" stroke-width="0.12" textLength="48.3" lengthAdjust="spacingAndGlyphs">p=0.0003</text>
<text transform="translate(421.7,252.2) rotate(-90)" font-size="10.5" stroke="#000" stroke-width="0.12" textLength="84.7" lengthAdjust="spacingAndGlyphs">% w Mitochondrial</text>
<text transform="translate(435.0,244.3) rotate(-90)" font-size="10.5" stroke="#000" stroke-width="0.12" textLength="67.6" lengthAdjust="spacingAndGlyphs">Depolarization,</text>
</g>
<g transform="translate(0,0.4)">
<path d="M604.5 215.8L604.5 214.8" stroke="#111" stroke-width="1.2" fill="none"/>
<path d="M600.2 214.8L608.7 214.8" stroke="#111" stroke-width="1.3" fill="none"/>
<rect x="596.5" y="216.4" width="15.9" height="33.8" fill="#fff" stroke="#111" stroke-width="1.2"/>
<path d="M624.4 196.0L624.4 193.4" stroke="#b9b9b9" stroke-width="1.2" fill="none"/>
<path d="M620.1 193.4L628.6 193.4" stroke="#b9b9b9" stroke-width="1.3" fill="none"/>
<rect x="616.1" y="196.0" width="16.5" height="54.2" fill="#b9b9b9" stroke="none" stroke-width="0"/>
<path d="M643.7 197.3L643.7 194.6" stroke="#111" stroke-width="1.2" fill="none"/>
<path d="M639.5 194.6L647.9 194.6" stroke="#111" stroke-width="1.3" fill="none"/>
<clipPath id="c4"><rect x="636.0" y="197.9" width="15.4" height="52.3"/></clipPath>
<g filter="url(#ct)"><rect x="636.0" y="197.9" width="15.4" height="52.3" fill="#fff"/><path d="M574.36 197.34l61.28 54.86M576.93 197.34l61.28 54.86M579.50 197.34l61.28 54.86M582.07 197.34l61.28 54.86M584.64 197.34l61.28 54.86M587.21 197.34l61.28 54.86M589.78 197.34l61.28 54.86M592.35 197.34l61.28 54.86M594.92 197.34l61.28 54.86M597.49 197.34l61.28 54.86M600.06 197.34l61.28 54.86M602.63 197.34l61.28 54.86M605.20 197.34l61.28 54.86M607.77 197.34l61.28 54.86M610.34 197.34l61.28 54.86M612.91 197.34l61.28 54.86M615.48 197.34l61.28 54.86M618.05 197.34l61.28 54.86M620.62 197.34l61.28 54.86M623.19 197.34l61.28 54.86M625.76 197.34l61.28 54.86M628.33 197.34l61.28 54.86M630.90 197.34l61.28 54.86M633.47 197.34l61.28 54.86M636.04 197.34l61.28 54.86M638.61 197.34l61.28 54.86M641.18 197.34l61.28 54.86M643.75 197.34l61.28 54.86M646.32 197.34l61.28 54.86M648.89 197.34l61.28 54.86M651.46 197.34l61.28 54.86" stroke="#000" stroke-width="0.85" fill="none" clip-path="url(#c4)"/></g>
<rect x="636.0" y="197.9" width="15.4" height="52.3" fill="none" stroke="#000" stroke-width="1.2"/>
<path d="M663.7 184.8L663.7 181.6" stroke="#111" stroke-width="1.2" fill="none"/>
<path d="M659.5 181.6L667.9 181.6" stroke="#111" stroke-width="1.3" fill="none"/>
<rect x="655.8" y="185.4" width="15.8" height="64.8" fill="#000" stroke="#111" stroke-width="1.2"/>
<path d="M594.8 171.2L594.8 250.8" stroke="#111" stroke-width="1.3" fill="none"/>
<path d="M594.2 250.2L672.5 250.2" stroke="#111" stroke-width="1.3" fill="none"/>
<path d="M591.2 250.2L594.8 250.2" stroke="#111" stroke-width="1.2" fill="none"/>
<text x="591.4" y="254.1" font-size="11.3" stroke="#000" stroke-width="0.12" text-anchor="end" textLength="6.1" lengthAdjust="spacingAndGlyphs">0</text>
<path d="M591.2 230.5L594.8 230.5" stroke="#111" stroke-width="1.2" fill="none"/>
<text x="591.4" y="234.4" font-size="11.3" stroke="#000" stroke-width="0.12" text-anchor="end" textLength="6.1" lengthAdjust="spacingAndGlyphs">5</text>
<path d="M591.2 210.9L594.8 210.9" stroke="#111" stroke-width="1.2" fill="none"/>
<text x="591.4" y="214.8" font-size="11.3" stroke="#000" stroke-width="0.12" text-anchor="end" textLength="12.2" lengthAdjust="spacingAndGlyphs">10</text>
<path d="M591.2 191.2L594.8 191.2" stroke="#111" stroke-width="1.2" fill="none"/>
<text x="591.4" y="195.2" font-size="11.3" stroke="#000" stroke-width="0.12" text-anchor="end" textLength="12.2" lengthAdjust="spacingAndGlyphs">15</text>
<path d="M591.2 171.6L594.8 171.6" stroke="#111" stroke-width="1.2" fill="none"/>
<text x="591.4" y="175.5" font-size="11.3" stroke="#000" stroke-width="0.12" text-anchor="end" textLength="12.2" lengthAdjust="spacingAndGlyphs">20</text>
<text x="565.7" y="262.8" font-size="10.6" stroke="#000" stroke-width="0.1" textLength="30.4" lengthAdjust="spacingAndGlyphs">ETOP</text>
<text x="602.1" y="259.6" font-size="11.0" stroke="#000" stroke-width="0.35" textLength="4.6" lengthAdjust="spacingAndGlyphs">-</text>
<text x="620.1" y="259.6" font-size="9.6" stroke="#000" stroke-width="0.35" textLength="6.0" lengthAdjust="spacingAndGlyphs">+</text>
<text x="641.1" y="259.6" font-size="11.0" stroke="#000" stroke-width="0.35" textLength="4.6" lengthAdjust="spacingAndGlyphs">-</text>
<text x="659.3" y="259.6" font-size="9.6" stroke="#000" stroke-width="0.35" textLength="6.0" lengthAdjust="spacingAndGlyphs">+</text>
<path d="M599.0 262.1L628.3 262.1" stroke="#111" stroke-width="1.1" fill="none"/>
<path d="M637.6 262.1L666.9 262.1" stroke="#111" stroke-width="1.1" fill="none"/>
<text x="612.5" y="272.4" font-size="10.8" stroke="#000" stroke-width="0.1" text-anchor="middle" textLength="14.5" lengthAdjust="spacingAndGlyphs">EV</text>
<text x="652.4" y="272.4" font-size="10.8" stroke="#000" stroke-width="0.1" text-anchor="middle" textLength="24.0" lengthAdjust="spacingAndGlyphs">PID1</text>
<path d="M624.8 184.2L624.8 157.9L664.3 157.9L664.3 160.0" stroke="#000" stroke-width="1.3" fill="none" />
<path d="M643.4 187.6L643.4 174.6L663.8 174.6L663.8 176.7" stroke="#000" stroke-width="1.3" fill="none" />
<text x="621.1" y="155.1" font-size="10.3" stroke="#000" stroke-width="0.12" textLength="40.3" lengthAdjust="spacingAndGlyphs">p=0.029</text>
<text x="630.3" y="172.1" font-size="10.3" stroke="#000" stroke-width="0.12" textLength="39.0" lengthAdjust="spacingAndGlyphs">p=0.032</text>
<text transform="translate(561.8,252.2) rotate(-90)" font-size="10.5" stroke="#000" stroke-width="0.12" textLength="85.8" lengthAdjust="spacingAndGlyphs">% w Mitochondrial</text>
<text transform="translate(574.9,244.3) rotate(-90)" font-size="10.5" stroke="#000" stroke-width="0.12" textLength="70.7" lengthAdjust="spacingAndGlyphs">Depolarization,</text>
</g>
<g transform="translate(0,0.6)">
<path d="M468.0 377.2L468.0 375.9" stroke="#111" stroke-width="1.2" fill="none"/>
<path d="M463.8 375.9L472.2 375.9" stroke="#111" stroke-width="1.3" fill="none"/>
<rect x="460.0" y="377.8" width="16.0" height="20.0" fill="#fff" stroke="#111" stroke-width="1.2"/>
<path d="M488.7 357.3L488.7 354.3" stroke="#b9b9b9" stroke-width="1.2" fill="none"/>
<path d="M484.5 354.3L492.9 354.3" stroke="#b9b9b9" stroke-width="1.3" fill="none"/>
<rect x="480.1" y="357.3" width="17.2" height="40.5" fill="#b9b9b9" stroke="none" stroke-width="0"/>
<path d="M509.1 363.4L509.1 360.2" stroke="#111" stroke-width="1.2" fill="none"/>
<path d="M504.9 360.2L513.2 360.2" stroke="#111" stroke-width="1.3" fill="none"/>
<clipPath id="c5"><rect x="501.0" y="364.0" width="16.1" height="33.8"/></clipPath>
<g filter="url(#ct)"><rect x="501.0" y="364.0" width="16.1" height="33.8" fill="#fff"/><path d="M460.00 363.42l40.64 36.38M462.57 363.42l40.64 36.38M465.14 363.42l40.64 36.38M467.71 363.42l40.64 36.38M470.28 363.42l40.64 36.38M472.85 363.42l40.64 36.38M475.42 363.42l40.64 36.38M477.99 363.42l40.64 36.38M480.56 363.42l40.64 36.38M483.13 363.42l40.64 36.38M485.70 363.42l40.64 36.38M488.27 363.42l40.64 36.38M490.84 363.42l40.64 36.38M493.41 363.42l40.64 36.38M495.98 363.42l40.64 36.38M498.55 363.42l40.64 36.38M501.12 363.42l40.64 36.38M503.69 363.42l40.64 36.38M506.26 363.42l40.64 36.38M508.83 363.42l40.64 36.38M511.40 363.42l40.64 36.38M513.97 363.42l40.64 36.38M516.54 363.42l40.64 36.38M519.11 363.42l40.64 36.38" stroke="#000" stroke-width="0.85" fill="none" clip-path="url(#c5)"/></g>
<rect x="501.0" y="364.0" width="16.1" height="33.8" fill="none" stroke="#000" stroke-width="1.2"/>
<path d="M529.8 330.0L529.8 328.4" stroke="#111" stroke-width="1.2" fill="none"/>
<path d="M525.6 328.4L534.0 328.4" stroke="#111" stroke-width="1.3" fill="none"/>
<rect x="521.8" y="330.6" width="16.0" height="67.2" fill="#000" stroke="#111" stroke-width="1.2"/>
<path d="M457.7 314.9L457.7 398.4" stroke="#111" stroke-width="1.3" fill="none"/>
<path d="M457.1 397.8L538.7 397.8" stroke="#111" stroke-width="1.3" fill="none"/>
<path d="M454.1 397.8L457.7 397.8" stroke="#111" stroke-width="1.2" fill="none"/>
<text x="454.3" y="401.7" font-size="11.3" stroke="#000" stroke-width="0.12" text-anchor="end" textLength="6.1" lengthAdjust="spacingAndGlyphs">0</text>
<path d="M454.1 364.9L457.7 364.9" stroke="#111" stroke-width="1.2" fill="none"/>
<text x="454.3" y="368.8" font-size="11.3" stroke="#000" stroke-width="0.12" text-anchor="end" textLength="12.2" lengthAdjust="spacingAndGlyphs">10</text>
<path d="M454.1 332.0L457.7 332.0" stroke="#111" stroke-width="1.2" fill="none"/>
<text x="454.3" y="335.9" font-size="11.3" stroke="#000" stroke-width="0.12" text-anchor="end" textLength="12.2" lengthAdjust="spacingAndGlyphs">20</text>
<path d="M455.7 381.4L457.7 381.4" stroke="#111" stroke-width="1.0" fill="none"/>
<path d="M455.7 348.4L457.7 348.4" stroke="#111" stroke-width="1.0" fill="none"/>
<path d="M455.7 315.6L457.7 315.6" stroke="#111" stroke-width="1.0" fill="none"/>
<text x="426.2" y="411.4" font-size="10.6" stroke="#000" stroke-width="0.1" textLength="32.3" lengthAdjust="spacingAndGlyphs">CDDP</text>
<text x="466.0" y="407.8" font-size="11.0" stroke="#000" stroke-width="0.35" textLength="4.6" lengthAdjust="spacingAndGlyphs">-</text>
<text x="485.4" y="407.8" font-size="9.6" stroke="#000" stroke-width="0.35" textLength="6.0" lengthAdjust="spacingAndGlyphs">+</text>
<text x="507.1" y="407.8" font-size="11.0" stroke="#000" stroke-width="0.35" textLength="4.6" lengthAdjust="spacingAndGlyphs">-</text>
<text x="526.1" y="407.8" font-size="9.6" stroke="#000" stroke-width="0.35" textLength="6.0" lengthAdjust="spacingAndGlyphs">+</text>
<path d="M463.1 410.7L493.8 410.7" stroke="#111" stroke-width="1.1" fill="none"/>
<path d="M503.5 410.7L534.3 410.7" stroke="#111" stroke-width="1.1" fill="none"/>
<text x="477.2" y="422.2" font-size="10.8" stroke="#000" stroke-width="0.1" text-anchor="middle" textLength="14.5" lengthAdjust="spacingAndGlyphs">EV</text>
<text x="518.7" y="422.2" font-size="10.8" stroke="#000" stroke-width="0.1" text-anchor="middle" textLength="24.0" lengthAdjust="spacingAndGlyphs">PID1</text>
<path d="M489.7 345.0L489.7 308.2L530.6 308.2L530.6 310.2" stroke="#000" stroke-width="1.3" fill="none" />
<path d="M508.3 353.0L508.3 324.3L529.7 324.3L529.7 326.2" stroke="#000" stroke-width="1.3" fill="none" />
<text x="485.4" y="305.9" font-size="10.3" stroke="#000" stroke-width="0.12" textLength="42.1" lengthAdjust="spacingAndGlyphs">p=0.002</text>
<text x="498.5" y="322.2" font-size="10.3" stroke="#000" stroke-width="0.12" textLength="40.8" lengthAdjust="spacingAndGlyphs">p=0.001</text>
<text transform="translate(424.1,371.7) rotate(-90)" font-size="10.5" stroke="#000" stroke-width="0.12" textLength="35.6" lengthAdjust="spacingAndGlyphs">Cleaved</text>
<text transform="translate(436.3,383.5) rotate(-90)" font-size="10.5" stroke="#000" stroke-width="0.12" textLength="59.7" lengthAdjust="spacingAndGlyphs">Caspase 3,%</text>
</g>
</svg></body></html>
